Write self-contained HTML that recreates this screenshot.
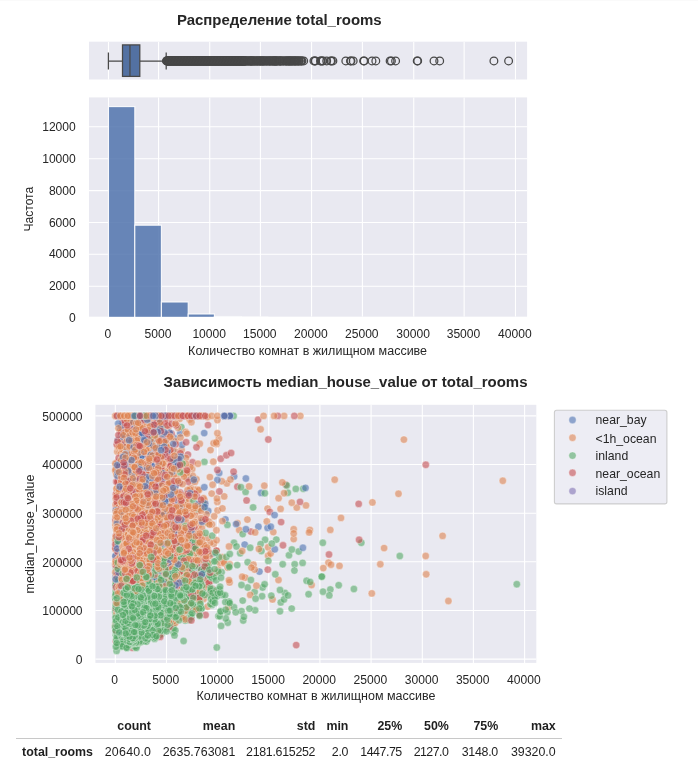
<!DOCTYPE html>
<html lang="ru">
<head>
<meta charset="utf-8">
<title>total_rooms</title>
<style>
html,body{margin:0;padding:0;background:#fff;}
body{width:698px;height:783px;position:relative;overflow:hidden;font-family:"Liberation Sans", sans-serif;color:#1f1f1f;}
svg{position:absolute;left:0;top:0;display:block;}
svg text{font-family:"Liberation Sans", sans-serif;fill:#262626;}
.ttl{font-size:14.98px;font-weight:bold;}
.tk{font-size:12.1px;}
.lb{font-size:12.5px;}
.sc circle{fill-opacity:.6;stroke:#fff;stroke-width:.5px;stroke-opacity:.7;}
.b{fill:#4c72b0}.o{fill:#dd8452}.g{fill:#55a868}.r{fill:#c44e52}.p{fill:#8172b3}
table.df{position:absolute;left:16px;top:714px;border-collapse:collapse;font-size:12.4px;font-family:"Liberation Sans", sans-serif;color:#1f1f1f;}
table.df th,table.df td{padding:0;text-align:right;white-space:nowrap;height:24px;}
table.df thead th{border-bottom:1px solid #c8c8c8;font-weight:bold;}
table.df tbody th{font-weight:bold;}
table.df span{position:relative;display:inline-block;}
table.df tbody span{top:.5px;}
table.df thead span{top:.3px;}
</style>
</head>
<body>
<svg width="698" height="783" viewBox="0 0 698 783">
<rect x="0" y="0" width="698" height="1" fill="#fafafa"/>
<text class="ttl" x="279.3" y="25.1" text-anchor="middle">Распределение total_rooms</text>
<rect x="89.0" y="41.7" width="438.1" height="37.8" fill="#E9E9F1"/>
<rect x="89.0" y="97.4" width="438.1" height="219.4" fill="#E9E9F1"/>
<clipPath id="c1"><rect x="89.0" y="41.7" width="438.1" height="275.1"/></clipPath>
<path d="M108.5 41.7V79.5M108.5 97.4V316.8M158.55 41.7V79.5M158.55 97.4V316.8M209.75 41.7V79.5M209.75 97.4V316.8M260.4 41.7V79.5M260.4 97.4V316.8M311.55 41.7V79.5M311.55 97.4V316.8M362.4 41.7V79.5M362.4 97.4V316.8M413.75 41.7V79.5M413.75 97.4V316.8M464.15 41.7V79.5M464.15 97.4V316.8M515.5 41.7V79.5M515.5 97.4V316.8M89.0 286.2H527.1M89.0 254.3H527.1M89.0 222.5H527.1M89.0 190.6H527.1M89.0 158.7H527.1M89.0 126.8H527.1" stroke="#fff" stroke-width="1.1" fill="none" clip-path="url(#c1)"/>
<rect x="108.5" y="106.6" width="26.3" height="211.5" fill="#4e71ac" fill-opacity="0.84" stroke="#fff" stroke-width="1.1" stroke-opacity="0.9"/>
<rect x="134.8" y="225.2" width="26.6" height="92.9" fill="#4e71ac" fill-opacity="0.84" stroke="#fff" stroke-width="1.1" stroke-opacity="0.9"/>
<rect x="161.4" y="302" width="26.8" height="16.1" fill="#4e71ac" fill-opacity="0.84" stroke="#fff" stroke-width="1.1" stroke-opacity="0.9"/>
<rect x="188.2" y="314" width="26.2" height="4.1" fill="#4e71ac" fill-opacity="0.84" stroke="#fff" stroke-width="1.1" stroke-opacity="0.9"/>
<rect x="214.4" y="316.5" width="26.9" height="1.6" fill="#4e71ac" fill-opacity="0.84" stroke="#fff" stroke-width="1.1" stroke-opacity="0.9"/>
<rect x="241.3" y="317.2" width="26.6" height="0.9" fill="#4e71ac" fill-opacity="0.84" stroke="#fff" stroke-width="1.1" stroke-opacity="0.9"/>
<rect x="268.6" y="317.5" width="26.7" height="0.6" fill="#4e71ac" fill-opacity="0.84" stroke="#fff" stroke-width="1.1" stroke-opacity="0.9"/>
<rect x="295.2" y="317.8" width="26.7" height="0.3" fill="#4e71ac" fill-opacity="0.84" stroke="#fff" stroke-width="1.1" stroke-opacity="0.9"/>
<rect x="321.9" y="318" width="26.7" height="0.1" fill="#4e71ac" fill-opacity="0.84" stroke="#fff" stroke-width="1.1" stroke-opacity="0.9"/>
<rect x="348.6" y="318" width="26.7" height="0.1" fill="#4e71ac" fill-opacity="0.84" stroke="#fff" stroke-width="1.1" stroke-opacity="0.9"/>
<rect x="375.3" y="318" width="26.7" height="0.1" fill="#4e71ac" fill-opacity="0.84" stroke="#fff" stroke-width="1.1" stroke-opacity="0.9"/>
<rect x="401.9" y="318.1" width="26.7" height="0" fill="#4e71ac" fill-opacity="0.84" stroke="#fff" stroke-width="1.1" stroke-opacity="0.9"/>
<rect x="428.6" y="318.1" width="26.7" height="0" fill="#4e71ac" fill-opacity="0.84" stroke="#fff" stroke-width="1.1" stroke-opacity="0.9"/>
<rect x="481.9" y="318.1" width="26.7" height="0" fill="#4e71ac" fill-opacity="0.84" stroke="#fff" stroke-width="1.1" stroke-opacity="0.9"/>
<rect x="87.0" y="316.8" width="442.1" height="3" fill="#fff"/>
<g stroke="#484848" stroke-width="1.25" fill="none">
<path d="M108.4 61H122.5M139.8 61H166.2M108.4 52.4V69.4M166.2 52.4V69.4"/>
<rect x="122.5" y="44.9" width="17.3" height="31.5" fill="#5371a2"/>
<path d="M129.95 44.9V76.4"/>
</g>
<g stroke="#484848" stroke-width="1.25" fill="none">
<circle cx="166.5" cy="60.9" r="3.85"/>
<circle cx="166.8" cy="60.9" r="3.85"/>
<circle cx="167.1" cy="60.9" r="3.85"/>
<circle cx="167.4" cy="60.9" r="3.85"/>
<circle cx="167.7" cy="60.9" r="3.85"/>
<circle cx="168" cy="60.9" r="3.85"/>
<circle cx="168.3" cy="60.9" r="3.85"/>
<circle cx="168.6" cy="60.9" r="3.85"/>
<circle cx="168.9" cy="60.9" r="3.85"/>
<circle cx="169.2" cy="60.9" r="3.85"/>
<circle cx="169.5" cy="60.9" r="3.85"/>
<circle cx="169.8" cy="60.9" r="3.85"/>
<circle cx="170.1" cy="60.9" r="3.85"/>
<circle cx="170.4" cy="60.9" r="3.85"/>
<circle cx="170.7" cy="60.9" r="3.85"/>
<circle cx="171" cy="60.9" r="3.85"/>
<circle cx="171.3" cy="60.9" r="3.85"/>
<circle cx="171.6" cy="60.9" r="3.85"/>
<circle cx="171.9" cy="60.9" r="3.85"/>
<circle cx="172.2" cy="60.9" r="3.85"/>
<circle cx="172.5" cy="60.9" r="3.85"/>
<circle cx="172.8" cy="60.9" r="3.85"/>
<circle cx="173.1" cy="60.9" r="3.85"/>
<circle cx="173.4" cy="60.9" r="3.85"/>
<circle cx="173.7" cy="60.9" r="3.85"/>
<circle cx="174" cy="60.9" r="3.85"/>
<circle cx="174.3" cy="60.9" r="3.85"/>
<circle cx="174.6" cy="60.9" r="3.85"/>
<circle cx="174.9" cy="60.9" r="3.85"/>
<circle cx="175.2" cy="60.9" r="3.85"/>
<circle cx="175.5" cy="60.9" r="3.85"/>
<circle cx="175.8" cy="60.9" r="3.85"/>
<circle cx="176.1" cy="60.9" r="3.85"/>
<circle cx="176.4" cy="60.9" r="3.85"/>
<circle cx="176.7" cy="60.9" r="3.85"/>
<circle cx="177" cy="60.9" r="3.85"/>
<circle cx="177.3" cy="60.9" r="3.85"/>
<circle cx="177.6" cy="60.9" r="3.85"/>
<circle cx="177.9" cy="60.9" r="3.85"/>
<circle cx="178.2" cy="60.9" r="3.85"/>
<circle cx="178.5" cy="60.9" r="3.85"/>
<circle cx="178.8" cy="60.9" r="3.85"/>
<circle cx="179.1" cy="60.9" r="3.85"/>
<circle cx="179.4" cy="60.9" r="3.85"/>
<circle cx="179.7" cy="60.9" r="3.85"/>
<circle cx="180" cy="60.9" r="3.85"/>
<circle cx="180.3" cy="60.9" r="3.85"/>
<circle cx="180.6" cy="60.9" r="3.85"/>
<circle cx="180.9" cy="60.9" r="3.85"/>
<circle cx="181.2" cy="60.9" r="3.85"/>
<circle cx="181.5" cy="60.9" r="3.85"/>
<circle cx="181.8" cy="60.9" r="3.85"/>
<circle cx="182.1" cy="60.9" r="3.85"/>
<circle cx="182.4" cy="60.9" r="3.85"/>
<circle cx="182.7" cy="60.9" r="3.85"/>
<circle cx="183" cy="60.9" r="3.85"/>
<circle cx="183.3" cy="60.9" r="3.85"/>
<circle cx="183.6" cy="60.9" r="3.85"/>
<circle cx="183.9" cy="60.9" r="3.85"/>
<circle cx="184.2" cy="60.9" r="3.85"/>
<circle cx="184.5" cy="60.9" r="3.85"/>
<circle cx="184.8" cy="60.9" r="3.85"/>
<circle cx="185.1" cy="60.9" r="3.85"/>
<circle cx="185.4" cy="60.9" r="3.85"/>
<circle cx="185.7" cy="60.9" r="3.85"/>
<circle cx="186" cy="60.9" r="3.85"/>
<circle cx="186.3" cy="60.9" r="3.85"/>
<circle cx="186.6" cy="60.9" r="3.85"/>
<circle cx="186.9" cy="60.9" r="3.85"/>
<circle cx="187.2" cy="60.9" r="3.85"/>
<circle cx="187.5" cy="60.9" r="3.85"/>
<circle cx="187.8" cy="60.9" r="3.85"/>
<circle cx="188.1" cy="60.9" r="3.85"/>
<circle cx="188.4" cy="60.9" r="3.85"/>
<circle cx="188.7" cy="60.9" r="3.85"/>
<circle cx="189" cy="60.9" r="3.85"/>
<circle cx="189.3" cy="60.9" r="3.85"/>
<circle cx="189.6" cy="60.9" r="3.85"/>
<circle cx="189.9" cy="60.9" r="3.85"/>
<circle cx="190.2" cy="60.9" r="3.85"/>
<circle cx="190.5" cy="60.9" r="3.85"/>
<circle cx="190.8" cy="60.9" r="3.85"/>
<circle cx="191.1" cy="60.9" r="3.85"/>
<circle cx="191.4" cy="60.9" r="3.85"/>
<circle cx="191.7" cy="60.9" r="3.85"/>
<circle cx="192" cy="60.9" r="3.85"/>
<circle cx="192.3" cy="60.9" r="3.85"/>
<circle cx="192.6" cy="60.9" r="3.85"/>
<circle cx="192.9" cy="60.9" r="3.85"/>
<circle cx="193.2" cy="60.9" r="3.85"/>
<circle cx="193.5" cy="60.9" r="3.85"/>
<circle cx="193.8" cy="60.9" r="3.85"/>
<circle cx="194.1" cy="60.9" r="3.85"/>
<circle cx="194.4" cy="60.9" r="3.85"/>
<circle cx="194.7" cy="60.9" r="3.85"/>
<circle cx="195" cy="60.9" r="3.85"/>
<circle cx="195.3" cy="60.9" r="3.85"/>
<circle cx="195.6" cy="60.9" r="3.85"/>
<circle cx="195.9" cy="60.9" r="3.85"/>
<circle cx="196.2" cy="60.9" r="3.85"/>
<circle cx="196.5" cy="60.9" r="3.85"/>
<circle cx="196.8" cy="60.9" r="3.85"/>
<circle cx="197.1" cy="60.9" r="3.85"/>
<circle cx="197.4" cy="60.9" r="3.85"/>
<circle cx="197.7" cy="60.9" r="3.85"/>
<circle cx="198" cy="60.9" r="3.85"/>
<circle cx="198.3" cy="60.9" r="3.85"/>
<circle cx="198.6" cy="60.9" r="3.85"/>
<circle cx="198.9" cy="60.9" r="3.85"/>
<circle cx="199.2" cy="60.9" r="3.85"/>
<circle cx="199.5" cy="60.9" r="3.85"/>
<circle cx="199.8" cy="60.9" r="3.85"/>
<circle cx="200.1" cy="60.9" r="3.85"/>
<circle cx="200.4" cy="60.9" r="3.85"/>
<circle cx="200.7" cy="60.9" r="3.85"/>
<circle cx="201" cy="60.9" r="3.85"/>
<circle cx="201.3" cy="60.9" r="3.85"/>
<circle cx="201.6" cy="60.9" r="3.85"/>
<circle cx="201.9" cy="60.9" r="3.85"/>
<circle cx="202.2" cy="60.9" r="3.85"/>
<circle cx="202.5" cy="60.9" r="3.85"/>
<circle cx="202.8" cy="60.9" r="3.85"/>
<circle cx="203.1" cy="60.9" r="3.85"/>
<circle cx="203.4" cy="60.9" r="3.85"/>
<circle cx="203.7" cy="60.9" r="3.85"/>
<circle cx="204" cy="60.9" r="3.85"/>
<circle cx="204.3" cy="60.9" r="3.85"/>
<circle cx="204.6" cy="60.9" r="3.85"/>
<circle cx="204.9" cy="60.9" r="3.85"/>
<circle cx="205.2" cy="60.9" r="3.85"/>
<circle cx="205.5" cy="60.9" r="3.85"/>
<circle cx="205.8" cy="60.9" r="3.85"/>
<circle cx="206.1" cy="60.9" r="3.85"/>
<circle cx="206.4" cy="60.9" r="3.85"/>
<circle cx="206.7" cy="60.9" r="3.85"/>
<circle cx="207" cy="60.9" r="3.85"/>
<circle cx="207.3" cy="60.9" r="3.85"/>
<circle cx="207.6" cy="60.9" r="3.85"/>
<circle cx="207.9" cy="60.9" r="3.85"/>
<circle cx="208.2" cy="60.9" r="3.85"/>
<circle cx="208.5" cy="60.9" r="3.85"/>
<circle cx="208.8" cy="60.9" r="3.85"/>
<circle cx="209.1" cy="60.9" r="3.85"/>
<circle cx="209.4" cy="60.9" r="3.85"/>
<circle cx="209.7" cy="60.9" r="3.85"/>
<circle cx="210" cy="60.9" r="3.85"/>
<circle cx="210.3" cy="60.9" r="3.85"/>
<circle cx="210.6" cy="60.9" r="3.85"/>
<circle cx="210.9" cy="60.9" r="3.85"/>
<circle cx="211.2" cy="60.9" r="3.85"/>
<circle cx="211.5" cy="60.9" r="3.85"/>
<circle cx="211.8" cy="60.9" r="3.85"/>
<circle cx="212.1" cy="60.9" r="3.85"/>
<circle cx="212.4" cy="60.9" r="3.85"/>
<circle cx="212.7" cy="60.9" r="3.85"/>
<circle cx="213" cy="60.9" r="3.85"/>
<circle cx="213.3" cy="60.9" r="3.85"/>
<circle cx="213.6" cy="60.9" r="3.85"/>
<circle cx="213.9" cy="60.9" r="3.85"/>
<circle cx="214.2" cy="60.9" r="3.85"/>
<circle cx="214.5" cy="60.9" r="3.85"/>
<circle cx="214.8" cy="60.9" r="3.85"/>
<circle cx="215.1" cy="60.9" r="3.85"/>
<circle cx="215.4" cy="60.9" r="3.85"/>
<circle cx="215.7" cy="60.9" r="3.85"/>
<circle cx="216" cy="60.9" r="3.85"/>
<circle cx="216.3" cy="60.9" r="3.85"/>
<circle cx="216.6" cy="60.9" r="3.85"/>
<circle cx="216.9" cy="60.9" r="3.85"/>
<circle cx="217.2" cy="60.9" r="3.85"/>
<circle cx="217.5" cy="60.9" r="3.85"/>
<circle cx="217.8" cy="60.9" r="3.85"/>
<circle cx="218.1" cy="60.9" r="3.85"/>
<circle cx="218.4" cy="60.9" r="3.85"/>
<circle cx="218.7" cy="60.9" r="3.85"/>
<circle cx="219" cy="60.9" r="3.85"/>
<circle cx="219.3" cy="60.9" r="3.85"/>
<circle cx="219.6" cy="60.9" r="3.85"/>
<circle cx="219.9" cy="60.9" r="3.85"/>
<circle cx="220.2" cy="60.9" r="3.85"/>
<circle cx="220.5" cy="60.9" r="3.85"/>
<circle cx="220.8" cy="60.9" r="3.85"/>
<circle cx="221.1" cy="60.9" r="3.85"/>
<circle cx="221.4" cy="60.9" r="3.85"/>
<circle cx="221.7" cy="60.9" r="3.85"/>
<circle cx="222" cy="60.9" r="3.85"/>
<circle cx="222.3" cy="60.9" r="3.85"/>
<circle cx="222.6" cy="60.9" r="3.85"/>
<circle cx="222.9" cy="60.9" r="3.85"/>
<circle cx="223.2" cy="60.9" r="3.85"/>
<circle cx="223.5" cy="60.9" r="3.85"/>
<circle cx="223.8" cy="60.9" r="3.85"/>
<circle cx="224.1" cy="60.9" r="3.85"/>
<circle cx="224.4" cy="60.9" r="3.85"/>
<circle cx="224.7" cy="60.9" r="3.85"/>
<circle cx="225" cy="60.9" r="3.85"/>
<circle cx="225.3" cy="60.9" r="3.85"/>
<circle cx="225.6" cy="60.9" r="3.85"/>
<circle cx="225.9" cy="60.9" r="3.85"/>
<circle cx="226.2" cy="60.9" r="3.85"/>
<circle cx="226.5" cy="60.9" r="3.85"/>
<circle cx="226.8" cy="60.9" r="3.85"/>
<circle cx="227.1" cy="60.9" r="3.85"/>
<circle cx="227.4" cy="60.9" r="3.85"/>
<circle cx="227.7" cy="60.9" r="3.85"/>
<circle cx="228" cy="60.9" r="3.85"/>
<circle cx="228.3" cy="60.9" r="3.85"/>
<circle cx="228.6" cy="60.9" r="3.85"/>
<circle cx="228.9" cy="60.9" r="3.85"/>
<circle cx="229.2" cy="60.9" r="3.85"/>
<circle cx="229.5" cy="60.9" r="3.85"/>
<circle cx="229.8" cy="60.9" r="3.85"/>
<circle cx="230.1" cy="60.9" r="3.85"/>
<circle cx="230.4" cy="60.9" r="3.85"/>
<circle cx="230.7" cy="60.9" r="3.85"/>
<circle cx="231" cy="60.9" r="3.85"/>
<circle cx="231.3" cy="60.9" r="3.85"/>
<circle cx="231.6" cy="60.9" r="3.85"/>
<circle cx="231.9" cy="60.9" r="3.85"/>
<circle cx="232.2" cy="60.9" r="3.85"/>
<circle cx="232.5" cy="60.9" r="3.85"/>
<circle cx="232.8" cy="60.9" r="3.85"/>
<circle cx="233.1" cy="60.9" r="3.85"/>
<circle cx="233.4" cy="60.9" r="3.85"/>
<circle cx="233.7" cy="60.9" r="3.85"/>
<circle cx="234" cy="60.9" r="3.85"/>
<circle cx="234.3" cy="60.9" r="3.85"/>
<circle cx="234.6" cy="60.9" r="3.85"/>
<circle cx="234.9" cy="60.9" r="3.85"/>
<circle cx="235.2" cy="60.9" r="3.85"/>
<circle cx="235.5" cy="60.9" r="3.85"/>
<circle cx="235.8" cy="60.9" r="3.85"/>
<circle cx="236.1" cy="60.9" r="3.85"/>
<circle cx="236.4" cy="60.9" r="3.85"/>
<circle cx="236.7" cy="60.9" r="3.85"/>
<circle cx="237" cy="60.9" r="3.85"/>
<circle cx="237.3" cy="60.9" r="3.85"/>
<circle cx="237.6" cy="60.9" r="3.85"/>
<circle cx="237.9" cy="60.9" r="3.85"/>
<circle cx="238.2" cy="60.9" r="3.85"/>
<circle cx="238.5" cy="60.9" r="3.85"/>
<circle cx="238.8" cy="60.9" r="3.85"/>
<circle cx="239.1" cy="60.9" r="3.85"/>
<circle cx="239.4" cy="60.9" r="3.85"/>
<circle cx="239.7" cy="60.9" r="3.85"/>
<circle cx="240" cy="60.9" r="3.85"/>
<circle cx="240.3" cy="60.9" r="3.85"/>
<circle cx="240.6" cy="60.9" r="3.85"/>
<circle cx="240.9" cy="60.9" r="3.85"/>
<circle cx="241.2" cy="60.9" r="3.85"/>
<circle cx="241.5" cy="60.9" r="3.85"/>
<circle cx="241.8" cy="60.9" r="3.85"/>
<circle cx="242.1" cy="60.9" r="3.85"/>
<circle cx="242.4" cy="60.9" r="3.85"/>
<circle cx="242.7" cy="60.9" r="3.85"/>
<circle cx="243" cy="60.9" r="3.85"/>
<circle cx="243.3" cy="60.9" r="3.85"/>
<circle cx="243.6" cy="60.9" r="3.85"/>
<circle cx="243.9" cy="60.9" r="3.85"/>
<circle cx="244.2" cy="60.9" r="3.85"/>
<circle cx="244.5" cy="60.9" r="3.85"/>
<circle cx="244.8" cy="60.9" r="3.85"/>
<circle cx="245.1" cy="60.9" r="3.85"/>
<circle cx="245.4" cy="60.9" r="3.85"/>
<circle cx="245.7" cy="60.9" r="3.85"/>
<circle cx="246" cy="60.9" r="3.85"/>
<circle cx="247" cy="60.9" r="3.85"/>
<circle cx="247.6" cy="60.9" r="3.85"/>
<circle cx="248.1" cy="60.9" r="3.85"/>
<circle cx="248.8" cy="60.9" r="3.85"/>
<circle cx="249.4" cy="60.9" r="3.85"/>
<circle cx="250.2" cy="60.9" r="3.85"/>
<circle cx="250.5" cy="60.9" r="3.85"/>
<circle cx="251" cy="60.9" r="3.85"/>
<circle cx="251.3" cy="60.9" r="3.85"/>
<circle cx="251.8" cy="60.9" r="3.85"/>
<circle cx="252.2" cy="60.9" r="3.85"/>
<circle cx="252.8" cy="60.9" r="3.85"/>
<circle cx="253.5" cy="60.9" r="3.85"/>
<circle cx="254" cy="60.9" r="3.85"/>
<circle cx="254.5" cy="60.9" r="3.85"/>
<circle cx="255" cy="60.9" r="3.85"/>
<circle cx="256" cy="60.9" r="3.85"/>
<circle cx="256.7" cy="60.9" r="3.85"/>
<circle cx="257.2" cy="60.9" r="3.85"/>
<circle cx="257.7" cy="60.9" r="3.85"/>
<circle cx="258.4" cy="60.9" r="3.85"/>
<circle cx="259.2" cy="60.9" r="3.85"/>
<circle cx="259.9" cy="60.9" r="3.85"/>
<circle cx="260.3" cy="60.9" r="3.85"/>
<circle cx="260.7" cy="60.9" r="3.85"/>
<circle cx="261.3" cy="60.9" r="3.85"/>
<circle cx="262.2" cy="60.9" r="3.85"/>
<circle cx="262.6" cy="60.9" r="3.85"/>
<circle cx="262.9" cy="60.9" r="3.85"/>
<circle cx="263.6" cy="60.9" r="3.85"/>
<circle cx="264.1" cy="60.9" r="3.85"/>
<circle cx="264.8" cy="60.9" r="3.85"/>
<circle cx="265.6" cy="60.9" r="3.85"/>
<circle cx="266.4" cy="60.9" r="3.85"/>
<circle cx="266.9" cy="60.9" r="3.85"/>
<circle cx="267.5" cy="60.9" r="3.85"/>
<circle cx="268.6" cy="60.9" r="3.85"/>
<circle cx="269.2" cy="60.9" r="3.85"/>
<circle cx="269.8" cy="60.9" r="3.85"/>
<circle cx="270.1" cy="60.9" r="3.85"/>
<circle cx="270.8" cy="60.9" r="3.85"/>
<circle cx="271.7" cy="60.9" r="3.85"/>
<circle cx="272.3" cy="60.9" r="3.85"/>
<circle cx="272.9" cy="60.9" r="3.85"/>
<circle cx="273.4" cy="60.9" r="3.85"/>
<circle cx="274" cy="60.9" r="3.85"/>
<circle cx="274.6" cy="60.9" r="3.85"/>
<circle cx="274.9" cy="60.9" r="3.85"/>
<circle cx="275.3" cy="60.9" r="3.85"/>
<circle cx="275.9" cy="60.9" r="3.85"/>
<circle cx="276.3" cy="60.9" r="3.85"/>
<circle cx="276.7" cy="60.9" r="3.85"/>
<circle cx="277.3" cy="60.9" r="3.85"/>
<circle cx="278" cy="60.9" r="3.85"/>
<circle cx="279.1" cy="60.9" r="3.85"/>
<circle cx="279.8" cy="60.9" r="3.85"/>
<circle cx="280.2" cy="60.9" r="3.85"/>
<circle cx="280.7" cy="60.9" r="3.85"/>
<circle cx="281.2" cy="60.9" r="3.85"/>
<circle cx="282.5" cy="60.9" r="3.85"/>
<circle cx="283.2" cy="60.9" r="3.85"/>
<circle cx="283.9" cy="60.9" r="3.85"/>
<circle cx="285.2" cy="60.9" r="3.85"/>
<circle cx="285.9" cy="60.9" r="3.85"/>
<circle cx="286.5" cy="60.9" r="3.85"/>
<circle cx="286.9" cy="60.9" r="3.85"/>
<circle cx="288" cy="60.9" r="3.85"/>
<circle cx="288.4" cy="60.9" r="3.85"/>
<circle cx="289" cy="60.9" r="3.85"/>
<circle cx="289.5" cy="60.9" r="3.85"/>
<circle cx="290.2" cy="60.9" r="3.85"/>
<circle cx="290.9" cy="60.9" r="3.85"/>
<circle cx="291.2" cy="60.9" r="3.85"/>
<circle cx="292.1" cy="60.9" r="3.85"/>
<circle cx="292.5" cy="60.9" r="3.85"/>
<circle cx="293.3" cy="60.9" r="3.85"/>
<circle cx="294.2" cy="60.9" r="3.85"/>
<circle cx="294.8" cy="60.9" r="3.85"/>
<circle cx="295.2" cy="60.9" r="3.85"/>
<circle cx="295.8" cy="60.9" r="3.85"/>
<circle cx="296.7" cy="60.9" r="3.85"/>
<circle cx="297.5" cy="60.9" r="3.85"/>
<circle cx="298.2" cy="60.9" r="3.85"/>
<circle cx="298.8" cy="60.9" r="3.85"/>
<circle cx="299.4" cy="60.9" r="3.85"/>
<circle cx="300.8" cy="60.9" r="3.85"/>
<circle cx="301.3" cy="60.9" r="3.85"/>
<circle cx="302" cy="60.9" r="3.85"/>
<circle cx="303.7" cy="60.9" r="3.85"/>
<circle cx="313.9" cy="60.9" r="3.85"/>
<circle cx="314.9" cy="60.9" r="3.85"/>
<circle cx="315.4" cy="60.9" r="3.85"/>
<circle cx="320.5" cy="60.9" r="3.85"/>
<circle cx="321" cy="60.9" r="3.85"/>
<circle cx="322.3" cy="60.9" r="3.85"/>
<circle cx="323" cy="60.9" r="3.85"/>
<circle cx="326.7" cy="60.9" r="3.85"/>
<circle cx="330.7" cy="60.9" r="3.85"/>
<circle cx="331.4" cy="60.9" r="3.85"/>
<circle cx="332.9" cy="60.9" r="3.85"/>
<circle cx="345.8" cy="60.9" r="3.85"/>
<circle cx="350.5" cy="60.9" r="3.85"/>
<circle cx="351" cy="60.9" r="3.85"/>
<circle cx="353.2" cy="60.9" r="3.85"/>
<circle cx="363.6" cy="60.9" r="3.85"/>
<circle cx="364.2" cy="60.9" r="3.85"/>
<circle cx="372" cy="60.9" r="3.85"/>
<circle cx="375.8" cy="60.9" r="3.85"/>
<circle cx="390.1" cy="60.9" r="3.85"/>
<circle cx="391.4" cy="60.9" r="3.85"/>
<circle cx="395.6" cy="60.9" r="3.85"/>
<circle cx="417.2" cy="60.9" r="3.85"/>
<circle cx="417.7" cy="60.9" r="3.85"/>
<circle cx="434" cy="60.9" r="3.85"/>
<circle cx="439.7" cy="60.9" r="3.85"/>
<circle cx="493.9" cy="60.9" r="3.85"/>
<circle cx="508.6" cy="60.9" r="3.85"/>
</g>
<g class="tk" text-anchor="middle">
<text x="107.9" y="337.7">0</text>
<text x="158" y="337.7">5000</text>
<text x="209.2" y="337.7">10000</text>
<text x="259.8" y="337.7">15000</text>
<text x="310.9" y="337.7">20000</text>
<text x="361.8" y="337.7">25000</text>
<text x="413.1" y="337.7">30000</text>
<text x="463.5" y="337.7">35000</text>
<text x="514.9" y="337.7">40000</text>
</g>
<g class="tk" text-anchor="end">
<text x="75.8" y="322.1">0</text>
<text x="75.8" y="290.2">2000</text>
<text x="75.8" y="258.3">4000</text>
<text x="75.8" y="226.5">6000</text>
<text x="75.8" y="194.6">8000</text>
<text x="75.8" y="162.7">10000</text>
<text x="75.8" y="130.8">12000</text>
</g>
<text class="lb" x="307.6" y="354.6" text-anchor="middle">Количество комнат в жилищном массиве</text>
<text class="lb" style="font-size:12.1px" transform="translate(33.4 209.2) rotate(-90)" text-anchor="middle">Частота</text>
<text class="ttl" x="345.5" y="387.2" text-anchor="middle">Зависимость median_house_value от total_rooms</text>
<rect x="95.4" y="404.8" width="440.9" height="258.1" fill="#E9E9F1"/>
<path d="M115.3 404.8V662.9M166.5 404.8V662.9M217.6 404.8V662.9M268.8 404.8V662.9M319.9 404.8V662.9M371.1 404.8V662.9M422.3 404.8V662.9M473.4 404.8V662.9M524.6 404.8V662.9M95.4 659.1H536.3M95.4 610.5H536.3M95.4 561.8H536.3M95.4 513.2H536.3M95.4 464.5H536.3M95.4 415.9H536.3" stroke="#fff" stroke-width="1.1" fill="none"/>
<g class="sc">
<circle class="b" cx="186.9" cy="571.5" r="3.7"/>
<circle class="b" cx="208.2" cy="510.9" r="3.7"/>
<circle class="b" cx="155.7" cy="416.8" r="3.7"/>
<circle class="b" cx="183.1" cy="528.6" r="3.7"/>
<circle class="b" cx="187.8" cy="536.8" r="3.7"/>
<circle class="b" cx="115.8" cy="603.6" r="3.7"/>
<circle class="b" cx="121.2" cy="435.7" r="3.7"/>
<circle class="b" cx="183.6" cy="542.5" r="3.7"/>
<circle class="b" cx="115.7" cy="577.6" r="3.7"/>
<circle class="b" cx="124.2" cy="440.8" r="3.7"/>
<circle class="b" cx="211.9" cy="553.8" r="3.7"/>
<circle class="b" cx="115.9" cy="612.6" r="3.7"/>
<circle class="b" cx="199.3" cy="575.1" r="3.7"/>
<circle class="b" cx="120.6" cy="429.6" r="3.7"/>
<circle class="b" cx="169.9" cy="475.3" r="3.7"/>
<circle class="b" cx="116.7" cy="593" r="3.7"/>
<circle class="b" cx="127.6" cy="422.9" r="3.7"/>
<circle class="b" cx="259.4" cy="571.6" r="3.7"/>
<circle class="b" cx="180.5" cy="539.9" r="3.7"/>
<circle class="b" cx="117.9" cy="415.9" r="3.7"/>
<circle class="b" cx="267.6" cy="527.9" r="3.7"/>
<circle class="b" cx="194.6" cy="522.9" r="3.7"/>
<circle class="b" cx="115.9" cy="605.2" r="3.7"/>
<circle class="b" cx="173.4" cy="469.2" r="3.7"/>
<circle class="b" cx="160.4" cy="432.4" r="3.7"/>
<circle class="b" cx="170" cy="433.9" r="3.7"/>
<circle class="b" cx="193.6" cy="593.8" r="3.7"/>
<circle class="b" cx="201.7" cy="563" r="3.7"/>
<circle class="b" cx="115.6" cy="556.6" r="3.7"/>
<circle class="b" cx="172.6" cy="450.6" r="3.7"/>
<circle class="g" cx="200.4" cy="595.4" r="3.7"/>
<circle class="g" cx="157.4" cy="467.5" r="3.7"/>
<circle class="g" cx="184.1" cy="500.7" r="3.7"/>
<circle class="b" cx="178.2" cy="483.4" r="3.7"/>
<circle class="b" cx="116.4" cy="529.6" r="3.7"/>
<circle class="b" cx="203.8" cy="415.9" r="3.7"/>
<circle class="b" cx="189.6" cy="477.9" r="3.7"/>
<circle class="b" cx="188.7" cy="539.7" r="3.7"/>
<circle class="b" cx="234.1" cy="476.5" r="3.7"/>
<circle class="b" cx="209" cy="569.9" r="3.7"/>
<circle class="b" cx="117.6" cy="472.7" r="3.7"/>
<circle class="b" cx="261.1" cy="492.9" r="3.7"/>
<circle class="b" cx="188.4" cy="573.9" r="3.7"/>
<circle class="b" cx="163.5" cy="469.9" r="3.7"/>
<circle class="b" cx="188.7" cy="569.4" r="3.7"/>
<circle class="b" cx="204.2" cy="433.1" r="3.7"/>
<circle class="b" cx="168.4" cy="448.4" r="3.7"/>
<circle class="b" cx="201.7" cy="569.4" r="3.7"/>
<circle class="b" cx="161.4" cy="451" r="3.7"/>
<circle class="b" cx="180.3" cy="433.2" r="3.7"/>
<circle class="b" cx="225.4" cy="519.4" r="3.7"/>
<circle class="b" cx="188.8" cy="575.9" r="3.7"/>
<circle class="b" cx="117.3" cy="617.1" r="3.7"/>
<circle class="b" cx="199.4" cy="569.8" r="3.7"/>
<circle class="g" cx="187.7" cy="599.3" r="3.7"/>
<circle class="g" cx="198.3" cy="555.4" r="3.7"/>
<circle class="g" cx="285" cy="592.9" r="3.7"/>
<circle class="g" cx="227.3" cy="612.3" r="3.7"/>
<circle class="g" cx="116.1" cy="628.8" r="3.7"/>
<circle class="g" cx="116.9" cy="645.4" r="3.7"/>
<circle class="g" cx="115.6" cy="598.2" r="3.7"/>
<circle class="g" cx="170.5" cy="623" r="3.7"/>
<circle class="g" cx="187.5" cy="600.6" r="3.7"/>
<circle class="g" cx="197.3" cy="591.1" r="3.7"/>
<circle class="b" cx="219.2" cy="473" r="3.7"/>
<circle class="b" cx="181" cy="533.3" r="3.7"/>
<circle class="b" cx="174.5" cy="497.3" r="3.7"/>
<circle class="g" cx="181.3" cy="427.1" r="3.7"/>
<circle class="o" cx="118.2" cy="484.8" r="3.7"/>
<circle class="o" cx="145.5" cy="426.3" r="3.7"/>
<circle class="o" cx="118.2" cy="478.9" r="3.7"/>
<circle class="o" cx="284.1" cy="415.9" r="3.7"/>
<circle class="o" cx="126.6" cy="429" r="3.7"/>
<circle class="b" cx="206.1" cy="580" r="3.7"/>
<circle class="g" cx="175.1" cy="526.8" r="3.7"/>
<circle class="b" cx="124.3" cy="436.8" r="3.7"/>
<circle class="b" cx="118.9" cy="488.6" r="3.7"/>
<circle class="b" cx="167.7" cy="415.9" r="3.7"/>
<circle class="b" cx="169.9" cy="486.5" r="3.7"/>
<circle class="b" cx="161.7" cy="466.9" r="3.7"/>
<circle class="b" cx="162.8" cy="456" r="3.7"/>
<circle class="b" cx="216.3" cy="552.5" r="3.7"/>
<circle class="o" cx="191.4" cy="523.4" r="3.7"/>
<circle class="o" cx="117.7" cy="572.7" r="3.7"/>
<circle class="g" cx="234" cy="542.8" r="3.7"/>
<circle class="b" cx="123.8" cy="444.8" r="3.7"/>
<circle class="b" cx="174.2" cy="438" r="3.7"/>
<circle class="b" cx="117.6" cy="515.1" r="3.7"/>
<circle class="b" cx="193.8" cy="415.9" r="3.7"/>
<circle class="b" cx="187.4" cy="598.8" r="3.7"/>
<circle class="b" cx="202.9" cy="577.1" r="3.7"/>
<circle class="b" cx="185.5" cy="494" r="3.7"/>
<circle class="g" cx="162.5" cy="469.4" r="3.7"/>
<circle class="b" cx="153.9" cy="436.5" r="3.7"/>
<circle class="b" cx="161.3" cy="458.3" r="3.7"/>
<circle class="g" cx="118.6" cy="484.1" r="3.7"/>
<circle class="g" cx="399.8" cy="556" r="3.7"/>
<circle class="g" cx="188.4" cy="528.5" r="3.7"/>
<circle class="g" cx="245.6" cy="491.9" r="3.7"/>
<circle class="g" cx="207.7" cy="523.3" r="3.7"/>
<circle class="g" cx="191.8" cy="543.6" r="3.7"/>
<circle class="r" cx="210.4" cy="581.2" r="3.7"/>
<circle class="r" cx="196.9" cy="565.5" r="3.7"/>
<circle class="g" cx="215.6" cy="560.9" r="3.7"/>
<circle class="g" cx="204.4" cy="461.9" r="3.7"/>
<circle class="g" cx="189.2" cy="582.1" r="3.7"/>
<circle class="g" cx="115.8" cy="635.2" r="3.7"/>
<circle class="g" cx="151.1" cy="635.3" r="3.7"/>
<circle class="g" cx="116.8" cy="614.6" r="3.7"/>
<circle class="g" cx="209.1" cy="563.6" r="3.7"/>
<circle class="g" cx="303.3" cy="488.7" r="3.7"/>
<circle class="g" cx="243.2" cy="620.5" r="3.7"/>
<circle class="g" cx="133.8" cy="644.6" r="3.7"/>
<circle class="g" cx="158.4" cy="631.8" r="3.7"/>
<circle class="g" cx="199" cy="610.4" r="3.7"/>
<circle class="g" cx="198.9" cy="603.3" r="3.7"/>
<circle class="g" cx="129.6" cy="644.9" r="3.7"/>
<circle class="g" cx="196.6" cy="597" r="3.7"/>
<circle class="g" cx="185.2" cy="620.6" r="3.7"/>
<circle class="g" cx="516.8" cy="584.2" r="3.7"/>
<circle class="g" cx="361.3" cy="542.8" r="3.7"/>
<circle class="g" cx="137.6" cy="643" r="3.7"/>
<circle class="g" cx="117.3" cy="631.8" r="3.7"/>
<circle class="g" cx="181.8" cy="603.1" r="3.7"/>
<circle class="g" cx="161.4" cy="633.9" r="3.7"/>
<circle class="g" cx="175.1" cy="609.2" r="3.7"/>
<circle class="g" cx="191.6" cy="606.9" r="3.7"/>
<circle class="g" cx="167.8" cy="623.9" r="3.7"/>
<circle class="g" cx="189.6" cy="532.1" r="3.7"/>
<circle class="g" cx="173.5" cy="609.4" r="3.7"/>
<circle class="g" cx="141" cy="641.7" r="3.7"/>
<circle class="g" cx="185.8" cy="607.9" r="3.7"/>
<circle class="g" cx="168.4" cy="623.9" r="3.7"/>
<circle class="g" cx="188" cy="600.3" r="3.7"/>
<circle class="g" cx="184.4" cy="617.3" r="3.7"/>
<circle class="g" cx="189.5" cy="608.1" r="3.7"/>
<circle class="g" cx="125.4" cy="646.4" r="3.7"/>
<circle class="g" cx="124.1" cy="646.3" r="3.7"/>
<circle class="g" cx="190.3" cy="611.2" r="3.7"/>
<circle class="g" cx="170.8" cy="613.9" r="3.7"/>
<circle class="g" cx="201.8" cy="580.4" r="3.7"/>
<circle class="g" cx="121.1" cy="646.8" r="3.7"/>
<circle class="g" cx="142.9" cy="641.6" r="3.7"/>
<circle class="g" cx="117" cy="643.6" r="3.7"/>
<circle class="g" cx="282.7" cy="564.2" r="3.7"/>
<circle class="g" cx="161.7" cy="626.3" r="3.7"/>
<circle class="g" cx="198.1" cy="591.5" r="3.7"/>
<circle class="g" cx="173.2" cy="624.9" r="3.7"/>
<circle class="g" cx="262.6" cy="587.5" r="3.7"/>
<circle class="g" cx="195.9" cy="608.9" r="3.7"/>
<circle class="g" cx="199.2" cy="614" r="3.7"/>
<circle class="g" cx="184" cy="599.7" r="3.7"/>
<circle class="g" cx="115.9" cy="607.2" r="3.7"/>
<circle class="g" cx="200.6" cy="606.7" r="3.7"/>
<circle class="g" cx="117.1" cy="636.2" r="3.7"/>
<circle class="g" cx="262.1" cy="596.2" r="3.7"/>
<circle class="g" cx="116.1" cy="568.2" r="3.7"/>
<circle class="g" cx="291.7" cy="608.6" r="3.7"/>
<circle class="r" cx="212" cy="588.8" r="3.7"/>
<circle class="r" cx="207.1" cy="584.6" r="3.7"/>
<circle class="g" cx="120.2" cy="643.3" r="3.7"/>
<circle class="r" cx="207.4" cy="593.8" r="3.7"/>
<circle class="g" cx="179.4" cy="613.2" r="3.7"/>
<circle class="g" cx="136.8" cy="646.1" r="3.7"/>
<circle class="r" cx="132.3" cy="647.8" r="3.7"/>
<circle class="r" cx="116" cy="641.2" r="3.7"/>
<circle class="r" cx="220.7" cy="458.8" r="3.7"/>
<circle class="g" cx="196.5" cy="607.6" r="3.7"/>
<circle class="g" cx="129" cy="644.3" r="3.7"/>
<circle class="g" cx="135.1" cy="647.2" r="3.7"/>
<circle class="g" cx="158.6" cy="631.7" r="3.7"/>
<circle class="g" cx="122.5" cy="644.1" r="3.7"/>
<circle class="g" cx="142.8" cy="638.6" r="3.7"/>
<circle class="g" cx="150.1" cy="636.3" r="3.7"/>
<circle class="g" cx="194.2" cy="579" r="3.7"/>
<circle class="g" cx="190.7" cy="614.9" r="3.7"/>
<circle class="g" cx="161.1" cy="628.8" r="3.7"/>
<circle class="g" cx="209.7" cy="592.9" r="3.7"/>
<circle class="g" cx="202" cy="608" r="3.7"/>
<circle class="g" cx="173.3" cy="621.7" r="3.7"/>
<circle class="g" cx="150.6" cy="634.9" r="3.7"/>
<circle class="g" cx="164.4" cy="630.2" r="3.7"/>
<circle class="g" cx="115.8" cy="621.7" r="3.7"/>
<circle class="g" cx="148.8" cy="635.8" r="3.7"/>
<circle class="g" cx="172.8" cy="612" r="3.7"/>
<circle class="g" cx="134.7" cy="646.4" r="3.7"/>
<circle class="g" cx="170.4" cy="613.6" r="3.7"/>
<circle class="g" cx="174.9" cy="617.6" r="3.7"/>
<circle class="g" cx="170.6" cy="617.4" r="3.7"/>
<circle class="g" cx="189.2" cy="620" r="3.7"/>
<circle class="g" cx="136.3" cy="647.9" r="3.7"/>
<circle class="g" cx="183" cy="618.3" r="3.7"/>
<circle class="g" cx="167" cy="623" r="3.7"/>
<circle class="g" cx="156.2" cy="635.2" r="3.7"/>
<circle class="g" cx="136.2" cy="643.5" r="3.7"/>
<circle class="g" cx="153.3" cy="637.4" r="3.7"/>
<circle class="g" cx="164.6" cy="627.8" r="3.7"/>
<circle class="g" cx="117.2" cy="616" r="3.7"/>
<circle class="g" cx="116.6" cy="623.2" r="3.7"/>
<circle class="g" cx="185.8" cy="597.3" r="3.7"/>
<circle class="g" cx="321.8" cy="576.8" r="3.7"/>
<circle class="g" cx="124.2" cy="642.3" r="3.7"/>
<circle class="g" cx="157.3" cy="627.2" r="3.7"/>
<circle class="g" cx="179.5" cy="610.9" r="3.7"/>
<circle class="g" cx="142.4" cy="637.8" r="3.7"/>
<circle class="g" cx="186.2" cy="609.4" r="3.7"/>
<circle class="g" cx="187.8" cy="608.8" r="3.7"/>
<circle class="g" cx="160" cy="634.8" r="3.7"/>
<circle class="g" cx="145.5" cy="635.9" r="3.7"/>
<circle class="g" cx="187.6" cy="610.9" r="3.7"/>
<circle class="g" cx="172.6" cy="623.5" r="3.7"/>
<circle class="g" cx="116.4" cy="634.7" r="3.7"/>
<circle class="g" cx="173.5" cy="632.3" r="3.7"/>
<circle class="g" cx="322.8" cy="542.8" r="3.7"/>
<circle class="g" cx="247.7" cy="562.2" r="3.7"/>
<circle class="g" cx="164.4" cy="623.1" r="3.7"/>
<circle class="g" cx="144" cy="641.3" r="3.7"/>
<circle class="g" cx="151.9" cy="634.2" r="3.7"/>
<circle class="g" cx="116" cy="625.3" r="3.7"/>
<circle class="g" cx="117.3" cy="636.2" r="3.7"/>
<circle class="g" cx="139.3" cy="642.8" r="3.7"/>
<circle class="g" cx="147.3" cy="635.9" r="3.7"/>
<circle class="g" cx="154.6" cy="638.9" r="3.7"/>
<circle class="g" cx="167.6" cy="628.2" r="3.7"/>
<circle class="g" cx="141.6" cy="636.9" r="3.7"/>
<circle class="g" cx="175.9" cy="615.4" r="3.7"/>
<circle class="g" cx="181.8" cy="520.3" r="3.7"/>
<circle class="g" cx="185" cy="606" r="3.7"/>
<circle class="g" cx="132.8" cy="643.9" r="3.7"/>
<circle class="g" cx="136.1" cy="642.7" r="3.7"/>
<circle class="g" cx="212.4" cy="578.5" r="3.7"/>
<circle class="g" cx="116.1" cy="595.9" r="3.7"/>
<circle class="g" cx="154.5" cy="631.9" r="3.7"/>
<circle class="g" cx="161.6" cy="622.8" r="3.7"/>
<circle class="g" cx="173.6" cy="628" r="3.7"/>
<circle class="g" cx="166.1" cy="627.1" r="3.7"/>
<circle class="g" cx="178.4" cy="614.7" r="3.7"/>
<circle class="g" cx="160.3" cy="628.7" r="3.7"/>
<circle class="g" cx="125.7" cy="645.9" r="3.7"/>
<circle class="o" cx="187.2" cy="557.2" r="3.7"/>
<circle class="o" cx="159.6" cy="424.6" r="3.7"/>
<circle class="o" cx="198.2" cy="489.8" r="3.7"/>
<circle class="o" cx="209.7" cy="556" r="3.7"/>
<circle class="o" cx="166" cy="487.7" r="3.7"/>
<circle class="o" cx="194" cy="555.8" r="3.7"/>
<circle class="o" cx="172.9" cy="415.9" r="3.7"/>
<circle class="o" cx="372.4" cy="502.4" r="3.7"/>
<circle class="g" cx="188.2" cy="551.1" r="3.7"/>
<circle class="g" cx="254.6" cy="591.9" r="3.7"/>
<circle class="o" cx="201.5" cy="508.5" r="3.7"/>
<circle class="o" cx="179.3" cy="519.9" r="3.7"/>
<circle class="o" cx="183.7" cy="507.2" r="3.7"/>
<circle class="o" cx="122.2" cy="449.5" r="3.7"/>
<circle class="o" cx="116.9" cy="415.9" r="3.7"/>
<circle class="o" cx="144.1" cy="422.9" r="3.7"/>
<circle class="o" cx="253.4" cy="564.7" r="3.7"/>
<circle class="o" cx="183.5" cy="549.9" r="3.7"/>
<circle class="o" cx="116.9" cy="509.3" r="3.7"/>
<circle class="o" cx="202.1" cy="551.5" r="3.7"/>
<circle class="o" cx="158.9" cy="623.1" r="3.7"/>
<circle class="o" cx="153.6" cy="439.3" r="3.7"/>
<circle class="o" cx="206.4" cy="522.4" r="3.7"/>
<circle class="o" cx="156.1" cy="423.9" r="3.7"/>
<circle class="o" cx="149.4" cy="422.4" r="3.7"/>
<circle class="o" cx="300.3" cy="415.9" r="3.7"/>
<circle class="o" cx="296.8" cy="507.6" r="3.7"/>
<circle class="o" cx="119.5" cy="449.4" r="3.7"/>
<circle class="o" cx="116.3" cy="576.8" r="3.7"/>
<circle class="r" cx="258.1" cy="419.8" r="3.7"/>
<circle class="o" cx="122.6" cy="415.9" r="3.7"/>
<circle class="o" cx="216.7" cy="443.9" r="3.7"/>
<circle class="o" cx="193.1" cy="589.6" r="3.7"/>
<circle class="o" cx="157" cy="447.8" r="3.7"/>
<circle class="o" cx="182.8" cy="495.8" r="3.7"/>
<circle class="o" cx="268.1" cy="547.3" r="3.7"/>
<circle class="o" cx="122.5" cy="425.8" r="3.7"/>
<circle class="o" cx="161.2" cy="443.2" r="3.7"/>
<circle class="o" cx="116.7" cy="491" r="3.7"/>
<circle class="o" cx="150.9" cy="629.7" r="3.7"/>
<circle class="o" cx="187.4" cy="550.1" r="3.7"/>
<circle class="o" cx="115.4" cy="471.1" r="3.7"/>
<circle class="o" cx="204.4" cy="500" r="3.7"/>
<circle class="o" cx="222.2" cy="557.2" r="3.7"/>
<circle class="o" cx="219.8" cy="563" r="3.7"/>
<circle class="o" cx="180.6" cy="509.9" r="3.7"/>
<circle class="o" cx="163.2" cy="623.2" r="3.7"/>
<circle class="o" cx="187.5" cy="511.1" r="3.7"/>
<circle class="o" cx="185.2" cy="597.2" r="3.7"/>
<circle class="o" cx="188.7" cy="549" r="3.7"/>
<circle class="o" cx="191.4" cy="515.8" r="3.7"/>
<circle class="o" cx="116.2" cy="627.7" r="3.7"/>
<circle class="o" cx="163" cy="471.9" r="3.7"/>
<circle class="o" cx="185.3" cy="607.2" r="3.7"/>
<circle class="o" cx="176.7" cy="467.7" r="3.7"/>
<circle class="o" cx="121.9" cy="415.9" r="3.7"/>
<circle class="o" cx="186.9" cy="478.5" r="3.7"/>
<circle class="o" cx="176.9" cy="478.1" r="3.7"/>
<circle class="o" cx="117.3" cy="451.7" r="3.7"/>
<circle class="o" cx="185.5" cy="513.6" r="3.7"/>
<circle class="o" cx="171.1" cy="620" r="3.7"/>
<circle class="o" cx="311.6" cy="585" r="3.7"/>
<circle class="o" cx="172.7" cy="502.9" r="3.7"/>
<circle class="r" cx="197.6" cy="510.8" r="3.7"/>
<circle class="r" cx="188.7" cy="545.4" r="3.7"/>
<circle class="o" cx="183.7" cy="540.6" r="3.7"/>
<circle class="o" cx="185.5" cy="556.2" r="3.7"/>
<circle class="o" cx="118" cy="533.3" r="3.7"/>
<circle class="o" cx="209" cy="521.6" r="3.7"/>
<circle class="o" cx="144.3" cy="435" r="3.7"/>
<circle class="o" cx="116.2" cy="547.1" r="3.7"/>
<circle class="o" cx="116.9" cy="557.7" r="3.7"/>
<circle class="o" cx="171.2" cy="477" r="3.7"/>
<circle class="o" cx="117.2" cy="544.6" r="3.7"/>
<circle class="r" cx="184.5" cy="517.9" r="3.7"/>
<circle class="r" cx="118.8" cy="498.6" r="3.7"/>
<circle class="o" cx="124.5" cy="450.2" r="3.7"/>
<circle class="o" cx="217.6" cy="510.5" r="3.7"/>
<circle class="o" cx="168.2" cy="494.4" r="3.7"/>
<circle class="o" cx="206.3" cy="587.1" r="3.7"/>
<circle class="o" cx="115.6" cy="596.4" r="3.7"/>
<circle class="o" cx="175.4" cy="465.1" r="3.7"/>
<circle class="r" cx="158.5" cy="452.7" r="3.7"/>
<circle class="r" cx="173" cy="529.3" r="3.7"/>
<circle class="o" cx="179.1" cy="525.7" r="3.7"/>
<circle class="o" cx="166.6" cy="483.1" r="3.7"/>
<circle class="o" cx="185.1" cy="499.8" r="3.7"/>
<circle class="o" cx="183.4" cy="597.6" r="3.7"/>
<circle class="o" cx="123.5" cy="444.3" r="3.7"/>
<circle class="o" cx="175.4" cy="622.8" r="3.7"/>
<circle class="o" cx="183.3" cy="557.2" r="3.7"/>
<circle class="o" cx="168.1" cy="415.9" r="3.7"/>
<circle class="o" cx="182.6" cy="470.4" r="3.7"/>
<circle class="o" cx="160.5" cy="425.6" r="3.7"/>
<circle class="o" cx="186" cy="585.5" r="3.7"/>
<circle class="o" cx="128.8" cy="422.3" r="3.7"/>
<circle class="o" cx="118.8" cy="462.4" r="3.7"/>
<circle class="o" cx="196" cy="548.9" r="3.7"/>
<circle class="g" cx="163" cy="441.1" r="3.7"/>
<circle class="o" cx="180.7" cy="523.3" r="3.7"/>
<circle class="o" cx="194.2" cy="524.1" r="3.7"/>
<circle class="o" cx="170.9" cy="448.8" r="3.7"/>
<circle class="r" cx="196.8" cy="564.1" r="3.7"/>
<circle class="r" cx="205.6" cy="615" r="3.7"/>
<circle class="o" cx="169.7" cy="500.3" r="3.7"/>
<circle class="o" cx="159.9" cy="459.1" r="3.7"/>
<circle class="o" cx="254.6" cy="569.6" r="3.7"/>
<circle class="o" cx="182" cy="617.4" r="3.7"/>
<circle class="o" cx="177" cy="415.9" r="3.7"/>
<circle class="o" cx="293.7" cy="529.2" r="3.7"/>
<circle class="o" cx="117.7" cy="571.2" r="3.7"/>
<circle class="o" cx="165.6" cy="415.9" r="3.7"/>
<circle class="o" cx="141.4" cy="417.8" r="3.7"/>
<circle class="o" cx="186.6" cy="496.3" r="3.7"/>
<circle class="o" cx="196" cy="536.3" r="3.7"/>
<circle class="o" cx="184.2" cy="593.4" r="3.7"/>
<circle class="o" cx="160.3" cy="415.9" r="3.7"/>
<circle class="o" cx="120.9" cy="461.8" r="3.7"/>
<circle class="o" cx="250.2" cy="594.9" r="3.7"/>
<circle class="o" cx="196.4" cy="543.5" r="3.7"/>
<circle class="o" cx="160.7" cy="478.7" r="3.7"/>
<circle class="o" cx="176.4" cy="467.5" r="3.7"/>
<circle class="o" cx="189.6" cy="588" r="3.7"/>
<circle class="o" cx="116.1" cy="464.9" r="3.7"/>
<circle class="o" cx="272.5" cy="599.4" r="3.7"/>
<circle class="o" cx="163.5" cy="415.9" r="3.7"/>
<circle class="o" cx="174.6" cy="615.9" r="3.7"/>
<circle class="o" cx="177.8" cy="537.2" r="3.7"/>
<circle class="o" cx="201.5" cy="521.7" r="3.7"/>
<circle class="o" cx="192.2" cy="468.9" r="3.7"/>
<circle class="o" cx="184.7" cy="545.5" r="3.7"/>
<circle class="o" cx="196.4" cy="479.3" r="3.7"/>
<circle class="g" cx="153.3" cy="443.5" r="3.7"/>
<circle class="o" cx="168.3" cy="426.9" r="3.7"/>
<circle class="o" cx="171.5" cy="504.4" r="3.7"/>
<circle class="o" cx="118.5" cy="480.2" r="3.7"/>
<circle class="o" cx="122.6" cy="441.7" r="3.7"/>
<circle class="o" cx="195.3" cy="489.8" r="3.7"/>
<circle class="o" cx="187.2" cy="512" r="3.7"/>
<circle class="o" cx="116.8" cy="581.3" r="3.7"/>
<circle class="o" cx="173" cy="621.5" r="3.7"/>
<circle class="o" cx="168.2" cy="492.5" r="3.7"/>
<circle class="o" cx="183" cy="464.7" r="3.7"/>
<circle class="o" cx="116.4" cy="561.7" r="3.7"/>
<circle class="o" cx="119.2" cy="481.9" r="3.7"/>
<circle class="o" cx="173.9" cy="510.2" r="3.7"/>
<circle class="o" cx="309.9" cy="529.9" r="3.7"/>
<circle class="o" cx="184.6" cy="552.9" r="3.7"/>
<circle class="o" cx="117.5" cy="511.8" r="3.7"/>
<circle class="o" cx="118.2" cy="509.6" r="3.7"/>
<circle class="o" cx="152.4" cy="433.3" r="3.7"/>
<circle class="o" cx="442.6" cy="535.9" r="3.7"/>
<circle class="o" cx="197.4" cy="415.9" r="3.7"/>
<circle class="o" cx="192" cy="574.2" r="3.7"/>
<circle class="o" cx="168.4" cy="501.8" r="3.7"/>
<circle class="o" cx="115.7" cy="510.8" r="3.7"/>
<circle class="o" cx="268.1" cy="555.7" r="3.7"/>
<circle class="o" cx="127.8" cy="421.3" r="3.7"/>
<circle class="o" cx="116.8" cy="619.9" r="3.7"/>
<circle class="o" cx="185.9" cy="473.8" r="3.7"/>
<circle class="o" cx="207.9" cy="562.9" r="3.7"/>
<circle class="o" cx="192.7" cy="491.9" r="3.7"/>
<circle class="o" cx="159.8" cy="450" r="3.7"/>
<circle class="o" cx="186.9" cy="560.3" r="3.7"/>
<circle class="o" cx="185" cy="540.1" r="3.7"/>
<circle class="o" cx="184.6" cy="611.1" r="3.7"/>
<circle class="o" cx="124.3" cy="436.4" r="3.7"/>
<circle class="o" cx="185.1" cy="513.1" r="3.7"/>
<circle class="o" cx="162.8" cy="502.6" r="3.7"/>
<circle class="o" cx="178" cy="427.8" r="3.7"/>
<circle class="o" cx="116.2" cy="565.3" r="3.7"/>
<circle class="o" cx="181.1" cy="555.5" r="3.7"/>
<circle class="o" cx="197.6" cy="590.3" r="3.7"/>
<circle class="o" cx="115.5" cy="549.3" r="3.7"/>
<circle class="o" cx="116" cy="610.3" r="3.7"/>
<circle class="o" cx="168.4" cy="527.1" r="3.7"/>
<circle class="o" cx="179.1" cy="551.5" r="3.7"/>
<circle class="o" cx="118.4" cy="466.3" r="3.7"/>
<circle class="o" cx="177.7" cy="556.1" r="3.7"/>
<circle class="o" cx="189.2" cy="539.2" r="3.7"/>
<circle class="o" cx="149.7" cy="430.8" r="3.7"/>
<circle class="o" cx="170.9" cy="532.2" r="3.7"/>
<circle class="o" cx="213.9" cy="543.8" r="3.7"/>
<circle class="o" cx="198.9" cy="525.1" r="3.7"/>
<circle class="o" cx="154.7" cy="431.6" r="3.7"/>
<circle class="o" cx="188.5" cy="606.3" r="3.7"/>
<circle class="g" cx="141.1" cy="438.5" r="3.7"/>
<circle class="o" cx="116.6" cy="564.5" r="3.7"/>
<circle class="o" cx="339.5" cy="565.9" r="3.7"/>
<circle class="o" cx="154.1" cy="423.5" r="3.7"/>
<circle class="r" cx="211" cy="592.8" r="3.7"/>
<circle class="o" cx="171.4" cy="620" r="3.7"/>
<circle class="o" cx="164.3" cy="449.9" r="3.7"/>
<circle class="o" cx="183" cy="576.6" r="3.7"/>
<circle class="r" cx="171.1" cy="503.1" r="3.7"/>
<circle class="o" cx="160.2" cy="479.1" r="3.7"/>
<circle class="o" cx="185.7" cy="432" r="3.7"/>
<circle class="r" cx="182.3" cy="533.7" r="3.7"/>
<circle class="r" cx="120.4" cy="478.4" r="3.7"/>
<circle class="r" cx="116.7" cy="492.7" r="3.7"/>
<circle class="o" cx="151.6" cy="441.1" r="3.7"/>
<circle class="o" cx="178.3" cy="480.9" r="3.7"/>
<circle class="o" cx="116.9" cy="532.5" r="3.7"/>
<circle class="o" cx="176.3" cy="495.2" r="3.7"/>
<circle class="o" cx="189.6" cy="419.4" r="3.7"/>
<circle class="o" cx="187.2" cy="575.1" r="3.7"/>
<circle class="o" cx="182.1" cy="415.9" r="3.7"/>
<circle class="o" cx="192.2" cy="531.1" r="3.7"/>
<circle class="o" cx="164.7" cy="476.4" r="3.7"/>
<circle class="o" cx="207.8" cy="548.9" r="3.7"/>
<circle class="o" cx="145.4" cy="425.4" r="3.7"/>
<circle class="o" cx="169.1" cy="482.8" r="3.7"/>
<circle class="o" cx="172" cy="522.7" r="3.7"/>
<circle class="o" cx="152.8" cy="468" r="3.7"/>
<circle class="o" cx="158.2" cy="428.6" r="3.7"/>
<circle class="o" cx="159.9" cy="415.9" r="3.7"/>
<circle class="o" cx="198" cy="415.9" r="3.7"/>
<circle class="o" cx="124" cy="427.6" r="3.7"/>
<circle class="o" cx="190.8" cy="538.2" r="3.7"/>
<circle class="o" cx="211.7" cy="493.6" r="3.7"/>
<circle class="o" cx="148.1" cy="418.5" r="3.7"/>
<circle class="o" cx="166.4" cy="458.8" r="3.7"/>
<circle class="o" cx="117.2" cy="472.4" r="3.7"/>
<circle class="o" cx="208.5" cy="551.8" r="3.7"/>
<circle class="o" cx="200.2" cy="537.7" r="3.7"/>
<circle class="o" cx="176.4" cy="547.7" r="3.7"/>
<circle class="o" cx="194.3" cy="575" r="3.7"/>
<circle class="o" cx="168.8" cy="610.8" r="3.7"/>
<circle class="o" cx="170.5" cy="497.2" r="3.7"/>
<circle class="g" cx="144.9" cy="416.4" r="3.7"/>
<circle class="o" cx="158.6" cy="484.3" r="3.7"/>
<circle class="g" cx="120.1" cy="476.9" r="3.7"/>
<circle class="o" cx="204.3" cy="545.5" r="3.7"/>
<circle class="o" cx="168.7" cy="469.1" r="3.7"/>
<circle class="o" cx="192.7" cy="475.8" r="3.7"/>
<circle class="o" cx="178" cy="533.4" r="3.7"/>
<circle class="o" cx="190.8" cy="578.9" r="3.7"/>
<circle class="o" cx="194.2" cy="543.5" r="3.7"/>
<circle class="o" cx="195.2" cy="515.4" r="3.7"/>
<circle class="o" cx="158.5" cy="465.6" r="3.7"/>
<circle class="r" cx="425.8" cy="464.8" r="3.7"/>
<circle class="r" cx="116.8" cy="613.8" r="3.7"/>
<circle class="r" cx="115.9" cy="609" r="3.7"/>
<circle class="r" cx="226.4" cy="455.3" r="3.7"/>
<circle class="r" cx="171.5" cy="433.8" r="3.7"/>
<circle class="r" cx="185.2" cy="605.5" r="3.7"/>
<circle class="o" cx="186.7" cy="514.1" r="3.7"/>
<circle class="o" cx="202.8" cy="557" r="3.7"/>
<circle class="o" cx="152.9" cy="451.6" r="3.7"/>
<circle class="o" cx="178.1" cy="576.7" r="3.7"/>
<circle class="o" cx="206.7" cy="578.9" r="3.7"/>
<circle class="o" cx="158.5" cy="481" r="3.7"/>
<circle class="g" cx="175.2" cy="415.9" r="3.7"/>
<circle class="o" cx="174.2" cy="415.9" r="3.7"/>
<circle class="o" cx="155.7" cy="466.7" r="3.7"/>
<circle class="o" cx="169.6" cy="415.9" r="3.7"/>
<circle class="o" cx="158.3" cy="630.8" r="3.7"/>
<circle class="o" cx="117.6" cy="552.6" r="3.7"/>
<circle class="o" cx="123.1" cy="415.9" r="3.7"/>
<circle class="o" cx="116.9" cy="581.4" r="3.7"/>
<circle class="o" cx="278.5" cy="580" r="3.7"/>
<circle class="o" cx="210.5" cy="450.1" r="3.7"/>
<circle class="o" cx="185" cy="566.7" r="3.7"/>
<circle class="r" cx="182" cy="515.9" r="3.7"/>
<circle class="r" cx="171" cy="454.4" r="3.7"/>
<circle class="o" cx="141.8" cy="458.1" r="3.7"/>
<circle class="o" cx="167.6" cy="419.5" r="3.7"/>
<circle class="o" cx="164.3" cy="497.3" r="3.7"/>
<circle class="o" cx="186.5" cy="415.9" r="3.7"/>
<circle class="o" cx="328.5" cy="562.7" r="3.7"/>
<circle class="o" cx="197.8" cy="587.8" r="3.7"/>
<circle class="o" cx="226.9" cy="483.4" r="3.7"/>
<circle class="o" cx="180.1" cy="415.9" r="3.7"/>
<circle class="o" cx="179.5" cy="500.8" r="3.7"/>
<circle class="o" cx="150.7" cy="469.7" r="3.7"/>
<circle class="o" cx="167.3" cy="475.3" r="3.7"/>
<circle class="o" cx="196.2" cy="415.9" r="3.7"/>
<circle class="o" cx="173.1" cy="416" r="3.7"/>
<circle class="o" cx="199.2" cy="573.7" r="3.7"/>
<circle class="o" cx="141.5" cy="427.3" r="3.7"/>
<circle class="o" cx="186.5" cy="415.9" r="3.7"/>
<circle class="o" cx="117.6" cy="496.9" r="3.7"/>
<circle class="r" cx="118.1" cy="513.6" r="3.7"/>
<circle class="r" cx="145.2" cy="429.8" r="3.7"/>
<circle class="r" cx="179.9" cy="610" r="3.7"/>
<circle class="g" cx="298.7" cy="551.5" r="3.7"/>
<circle class="o" cx="183.1" cy="473.8" r="3.7"/>
<circle class="o" cx="177.9" cy="519.3" r="3.7"/>
<circle class="o" cx="118" cy="570.3" r="3.7"/>
<circle class="o" cx="175.6" cy="441.3" r="3.7"/>
<circle class="o" cx="177.9" cy="540.8" r="3.7"/>
<circle class="o" cx="203.7" cy="415.9" r="3.7"/>
<circle class="o" cx="151.9" cy="452.5" r="3.7"/>
<circle class="o" cx="116" cy="600.9" r="3.7"/>
<circle class="o" cx="165.2" cy="449.5" r="3.7"/>
<circle class="o" cx="199.8" cy="443.8" r="3.7"/>
<circle class="o" cx="502.8" cy="480.8" r="3.7"/>
<circle class="o" cx="151.2" cy="630.1" r="3.7"/>
<circle class="o" cx="171.9" cy="526.6" r="3.7"/>
<circle class="r" cx="180.9" cy="550.8" r="3.7"/>
<circle class="r" cx="192.5" cy="462.3" r="3.7"/>
<circle class="o" cx="213.6" cy="443.3" r="3.7"/>
<circle class="o" cx="116.3" cy="611.3" r="3.7"/>
<circle class="o" cx="154.4" cy="454.7" r="3.7"/>
<circle class="o" cx="204.3" cy="519.2" r="3.7"/>
<circle class="o" cx="117.7" cy="446.9" r="3.7"/>
<circle class="o" cx="216.6" cy="550.9" r="3.7"/>
<circle class="o" cx="170.8" cy="502.4" r="3.7"/>
<circle class="o" cx="154.7" cy="625.5" r="3.7"/>
<circle class="o" cx="172" cy="533.6" r="3.7"/>
<circle class="o" cx="177.6" cy="415.9" r="3.7"/>
<circle class="o" cx="172.3" cy="616.1" r="3.7"/>
<circle class="o" cx="118.2" cy="571.3" r="3.7"/>
<circle class="o" cx="170.4" cy="525.4" r="3.7"/>
<circle class="o" cx="162.6" cy="415.9" r="3.7"/>
<circle class="o" cx="154.2" cy="435.6" r="3.7"/>
<circle class="o" cx="152.7" cy="468.3" r="3.7"/>
<circle class="o" cx="184.8" cy="591.7" r="3.7"/>
<circle class="o" cx="185.7" cy="520.4" r="3.7"/>
<circle class="r" cx="188.4" cy="607.6" r="3.7"/>
<circle class="r" cx="283" cy="545.3" r="3.7"/>
<circle class="o" cx="210.6" cy="542.6" r="3.7"/>
<circle class="o" cx="145.1" cy="422.7" r="3.7"/>
<circle class="o" cx="184.5" cy="588.6" r="3.7"/>
<circle class="o" cx="182" cy="528.6" r="3.7"/>
<circle class="o" cx="183.8" cy="581.4" r="3.7"/>
<circle class="o" cx="116.6" cy="495" r="3.7"/>
<circle class="r" cx="117.7" cy="462" r="3.7"/>
<circle class="r" cx="208.9" cy="582.8" r="3.7"/>
<circle class="r" cx="163.1" cy="471.9" r="3.7"/>
<circle class="r" cx="176.9" cy="537.1" r="3.7"/>
<circle class="r" cx="187.9" cy="454.6" r="3.7"/>
<circle class="o" cx="175.4" cy="541.9" r="3.7"/>
<circle class="o" cx="123.6" cy="492.8" r="3.7"/>
<circle class="o" cx="122.3" cy="451.5" r="3.7"/>
<circle class="o" cx="177.9" cy="574.5" r="3.7"/>
<circle class="o" cx="148.5" cy="460.5" r="3.7"/>
<circle class="o" cx="209.9" cy="477.1" r="3.7"/>
<circle class="o" cx="173.3" cy="537.1" r="3.7"/>
<circle class="o" cx="116.7" cy="534.9" r="3.7"/>
<circle class="o" cx="239.2" cy="529.9" r="3.7"/>
<circle class="o" cx="165.4" cy="422.4" r="3.7"/>
<circle class="o" cx="180.3" cy="464.3" r="3.7"/>
<circle class="o" cx="169.1" cy="415.9" r="3.7"/>
<circle class="o" cx="118" cy="567.5" r="3.7"/>
<circle class="o" cx="214.9" cy="592.5" r="3.7"/>
<circle class="o" cx="150.1" cy="437.9" r="3.7"/>
<circle class="o" cx="168.1" cy="507.9" r="3.7"/>
<circle class="o" cx="117.9" cy="464.1" r="3.7"/>
<circle class="o" cx="116.8" cy="532.8" r="3.7"/>
<circle class="o" cx="115.8" cy="498.4" r="3.7"/>
<circle class="r" cx="160.2" cy="636.9" r="3.7"/>
<circle class="r" cx="163.9" cy="415.9" r="3.7"/>
<circle class="r" cx="176.4" cy="558.4" r="3.7"/>
<circle class="r" cx="115.9" cy="505.7" r="3.7"/>
<circle class="o" cx="183.6" cy="512.5" r="3.7"/>
<circle class="o" cx="216.5" cy="540.2" r="3.7"/>
<circle class="o" cx="118.8" cy="570.6" r="3.7"/>
<circle class="o" cx="165.3" cy="503.7" r="3.7"/>
<circle class="o" cx="120.8" cy="472.5" r="3.7"/>
<circle class="o" cx="161.4" cy="476.3" r="3.7"/>
<circle class="g" cx="181" cy="457.5" r="3.7"/>
<circle class="g" cx="156.3" cy="439" r="3.7"/>
<circle class="o" cx="115.6" cy="527" r="3.7"/>
<circle class="o" cx="117.2" cy="537.4" r="3.7"/>
<circle class="o" cx="118.9" cy="447.8" r="3.7"/>
<circle class="o" cx="120.4" cy="511.6" r="3.7"/>
<circle class="o" cx="178.1" cy="467.3" r="3.7"/>
<circle class="o" cx="189.5" cy="601.6" r="3.7"/>
<circle class="g" cx="117.7" cy="534.8" r="3.7"/>
<circle class="g" cx="120.6" cy="506.2" r="3.7"/>
<circle class="g" cx="115.5" cy="577.8" r="3.7"/>
<circle class="o" cx="190.7" cy="488" r="3.7"/>
<circle class="o" cx="247.4" cy="519.6" r="3.7"/>
<circle class="o" cx="140.9" cy="425.7" r="3.7"/>
<circle class="o" cx="118.8" cy="467.1" r="3.7"/>
<circle class="o" cx="173.5" cy="546.5" r="3.7"/>
<circle class="o" cx="306" cy="505.4" r="3.7"/>
<circle class="o" cx="120.5" cy="500.8" r="3.7"/>
<circle class="o" cx="167.7" cy="619.3" r="3.7"/>
<circle class="o" cx="118.8" cy="534.3" r="3.7"/>
<circle class="o" cx="161.9" cy="415.9" r="3.7"/>
<circle class="o" cx="151.1" cy="450" r="3.7"/>
<circle class="o" cx="202" cy="544.8" r="3.7"/>
<circle class="o" cx="126.1" cy="441.1" r="3.7"/>
<circle class="o" cx="171" cy="415.9" r="3.7"/>
<circle class="o" cx="185.3" cy="619.3" r="3.7"/>
<circle class="o" cx="180.3" cy="572.2" r="3.7"/>
<circle class="r" cx="237.4" cy="486.7" r="3.7"/>
<circle class="r" cx="125.7" cy="451.1" r="3.7"/>
<circle class="o" cx="154" cy="452.8" r="3.7"/>
<circle class="o" cx="201.7" cy="415.9" r="3.7"/>
<circle class="o" cx="118.9" cy="535.3" r="3.7"/>
<circle class="o" cx="229.6" cy="564.3" r="3.7"/>
<circle class="o" cx="125.3" cy="441.3" r="3.7"/>
<circle class="o" cx="115.5" cy="524.4" r="3.7"/>
<circle class="o" cx="147.2" cy="460.6" r="3.7"/>
<circle class="o" cx="115.9" cy="504.1" r="3.7"/>
<circle class="o" cx="181.6" cy="449.8" r="3.7"/>
<circle class="o" cx="117.3" cy="546" r="3.7"/>
<circle class="o" cx="170.3" cy="517.7" r="3.7"/>
<circle class="o" cx="163.3" cy="495.5" r="3.7"/>
<circle class="o" cx="218.9" cy="438.8" r="3.7"/>
<circle class="o" cx="184.5" cy="507" r="3.7"/>
<circle class="o" cx="116.4" cy="541.7" r="3.7"/>
<circle class="o" cx="117.2" cy="600.3" r="3.7"/>
<circle class="o" cx="145" cy="461.9" r="3.7"/>
<circle class="o" cx="153.8" cy="415.9" r="3.7"/>
<circle class="o" cx="180.6" cy="517.5" r="3.7"/>
<circle class="o" cx="229.6" cy="582.4" r="3.7"/>
<circle class="o" cx="168.7" cy="415.9" r="3.7"/>
<circle class="o" cx="167.5" cy="448" r="3.7"/>
<circle class="o" cx="193.3" cy="576" r="3.7"/>
<circle class="o" cx="120.6" cy="447.2" r="3.7"/>
<circle class="o" cx="117.1" cy="574.9" r="3.7"/>
<circle class="o" cx="121.2" cy="415.9" r="3.7"/>
<circle class="o" cx="189.5" cy="550.4" r="3.7"/>
<circle class="o" cx="155.1" cy="415.9" r="3.7"/>
<circle class="o" cx="181.8" cy="553.3" r="3.7"/>
<circle class="o" cx="116.4" cy="590.2" r="3.7"/>
<circle class="o" cx="191" cy="559.6" r="3.7"/>
<circle class="o" cx="118" cy="516.8" r="3.7"/>
<circle class="o" cx="159.4" cy="415.9" r="3.7"/>
<circle class="o" cx="218.2" cy="569.8" r="3.7"/>
<circle class="o" cx="166.9" cy="462.6" r="3.7"/>
<circle class="o" cx="149.2" cy="430.9" r="3.7"/>
<circle class="o" cx="129.2" cy="431.1" r="3.7"/>
<circle class="o" cx="157" cy="427.9" r="3.7"/>
<circle class="o" cx="197.7" cy="597.8" r="3.7"/>
<circle class="o" cx="215.4" cy="573" r="3.7"/>
<circle class="o" cx="217.4" cy="433.2" r="3.7"/>
<circle class="o" cx="161.5" cy="415.9" r="3.7"/>
<circle class="o" cx="174.3" cy="526.1" r="3.7"/>
<circle class="o" cx="121" cy="478.6" r="3.7"/>
<circle class="o" cx="191.4" cy="422.2" r="3.7"/>
<circle class="o" cx="183.5" cy="564.4" r="3.7"/>
<circle class="o" cx="118.4" cy="553.3" r="3.7"/>
<circle class="o" cx="160.9" cy="415.9" r="3.7"/>
<circle class="o" cx="117.5" cy="488.4" r="3.7"/>
<circle class="o" cx="197.7" cy="609.3" r="3.7"/>
<circle class="o" cx="141.7" cy="456.9" r="3.7"/>
<circle class="o" cx="151.4" cy="447.1" r="3.7"/>
<circle class="o" cx="221.7" cy="481.2" r="3.7"/>
<circle class="o" cx="126.2" cy="437.8" r="3.7"/>
<circle class="o" cx="171.7" cy="515.6" r="3.7"/>
<circle class="o" cx="280.6" cy="508.9" r="3.7"/>
<circle class="o" cx="172.4" cy="521.4" r="3.7"/>
<circle class="o" cx="186.9" cy="433.6" r="3.7"/>
<circle class="o" cx="179.1" cy="611.4" r="3.7"/>
<circle class="o" cx="201.9" cy="528.3" r="3.7"/>
<circle class="g" cx="131.7" cy="430.6" r="3.7"/>
<circle class="g" cx="121.5" cy="506.1" r="3.7"/>
<circle class="o" cx="158.4" cy="631" r="3.7"/>
<circle class="o" cx="117.1" cy="535.4" r="3.7"/>
<circle class="o" cx="167.4" cy="444.4" r="3.7"/>
<circle class="o" cx="174.1" cy="459.7" r="3.7"/>
<circle class="o" cx="155.8" cy="480.8" r="3.7"/>
<circle class="o" cx="174.9" cy="489.5" r="3.7"/>
<circle class="o" cx="212" cy="524.5" r="3.7"/>
<circle class="o" cx="176.1" cy="513.3" r="3.7"/>
<circle class="o" cx="138.7" cy="426.6" r="3.7"/>
<circle class="o" cx="192.1" cy="551.8" r="3.7"/>
<circle class="o" cx="158.3" cy="623.4" r="3.7"/>
<circle class="o" cx="115.4" cy="597.7" r="3.7"/>
<circle class="o" cx="190.2" cy="489.6" r="3.7"/>
<circle class="o" cx="223.7" cy="561.7" r="3.7"/>
<circle class="o" cx="196.9" cy="415.9" r="3.7"/>
<circle class="p" cx="126.6" cy="440.2" r="3.7"/>
<circle class="o" cx="398.5" cy="493.8" r="3.7"/>
<circle class="o" cx="122.3" cy="467.1" r="3.7"/>
<circle class="o" cx="334.7" cy="479.7" r="3.7"/>
<circle class="o" cx="175.1" cy="451.4" r="3.7"/>
<circle class="o" cx="190.1" cy="561.4" r="3.7"/>
<circle class="o" cx="147.1" cy="420" r="3.7"/>
<circle class="o" cx="151.9" cy="479.5" r="3.7"/>
<circle class="o" cx="164.2" cy="612.8" r="3.7"/>
<circle class="o" cx="177.8" cy="529.6" r="3.7"/>
<circle class="o" cx="150.5" cy="442.2" r="3.7"/>
<circle class="o" cx="174.4" cy="532.3" r="3.7"/>
<circle class="o" cx="162.1" cy="415.9" r="3.7"/>
<circle class="o" cx="157.1" cy="474.8" r="3.7"/>
<circle class="o" cx="116.1" cy="575.7" r="3.7"/>
<circle class="o" cx="200.9" cy="578" r="3.7"/>
<circle class="o" cx="150.9" cy="415.9" r="3.7"/>
<circle class="r" cx="201.2" cy="570.7" r="3.7"/>
<circle class="g" cx="164.9" cy="446.9" r="3.7"/>
<circle class="g" cx="162.2" cy="426.8" r="3.7"/>
<circle class="g" cx="154.9" cy="429.9" r="3.7"/>
<circle class="g" cx="185.4" cy="576.4" r="3.7"/>
<circle class="o" cx="168.1" cy="515.8" r="3.7"/>
<circle class="o" cx="182.5" cy="547.3" r="3.7"/>
<circle class="o" cx="116.4" cy="547.1" r="3.7"/>
<circle class="o" cx="159.5" cy="474.8" r="3.7"/>
<circle class="o" cx="118.6" cy="567.1" r="3.7"/>
<circle class="o" cx="384.1" cy="548.1" r="3.7"/>
<circle class="o" cx="160.4" cy="498.5" r="3.7"/>
<circle class="o" cx="179.1" cy="581.8" r="3.7"/>
<circle class="r" cx="170.2" cy="626.9" r="3.7"/>
<circle class="o" cx="192.3" cy="559.6" r="3.7"/>
<circle class="o" cx="204.8" cy="563.2" r="3.7"/>
<circle class="o" cx="116.9" cy="592.6" r="3.7"/>
<circle class="r" cx="192.4" cy="584.8" r="3.7"/>
<circle class="r" cx="168.9" cy="532.7" r="3.7"/>
<circle class="r" cx="185.9" cy="546.5" r="3.7"/>
<circle class="o" cx="142.4" cy="456.9" r="3.7"/>
<circle class="o" cx="180.7" cy="508" r="3.7"/>
<circle class="o" cx="119.5" cy="415.9" r="3.7"/>
<circle class="o" cx="251.4" cy="567.6" r="3.7"/>
<circle class="o" cx="166.6" cy="444.8" r="3.7"/>
<circle class="o" cx="193.1" cy="592.7" r="3.7"/>
<circle class="o" cx="120.8" cy="453.8" r="3.7"/>
<circle class="o" cx="115.8" cy="560.3" r="3.7"/>
<circle class="o" cx="217.3" cy="502" r="3.7"/>
<circle class="o" cx="192.1" cy="506.4" r="3.7"/>
<circle class="o" cx="130.6" cy="430.6" r="3.7"/>
<circle class="o" cx="331" cy="564.7" r="3.7"/>
<circle class="o" cx="137" cy="420.1" r="3.7"/>
<circle class="o" cx="179.1" cy="555.8" r="3.7"/>
<circle class="o" cx="142.8" cy="440.6" r="3.7"/>
<circle class="o" cx="124.6" cy="467.4" r="3.7"/>
<circle class="o" cx="273.3" cy="532.1" r="3.7"/>
<circle class="o" cx="121.2" cy="445.9" r="3.7"/>
<circle class="o" cx="130.3" cy="418.6" r="3.7"/>
<circle class="o" cx="207.7" cy="606.6" r="3.7"/>
<circle class="o" cx="448.4" cy="601" r="3.7"/>
<circle class="o" cx="173.9" cy="474.7" r="3.7"/>
<circle class="o" cx="148.2" cy="468.4" r="3.7"/>
<circle class="o" cx="124.3" cy="493.4" r="3.7"/>
<circle class="o" cx="151.9" cy="441.6" r="3.7"/>
<circle class="o" cx="293.7" cy="539.1" r="3.7"/>
<circle class="o" cx="116.7" cy="637.1" r="3.7"/>
<circle class="o" cx="229" cy="580.2" r="3.7"/>
<circle class="o" cx="154.7" cy="484.3" r="3.7"/>
<circle class="o" cx="166.1" cy="456.5" r="3.7"/>
<circle class="o" cx="266.8" cy="521.4" r="3.7"/>
<circle class="o" cx="175.8" cy="577.5" r="3.7"/>
<circle class="o" cx="172.2" cy="518.8" r="3.7"/>
<circle class="o" cx="145.5" cy="426.8" r="3.7"/>
<circle class="o" cx="190.4" cy="467.2" r="3.7"/>
<circle class="o" cx="121.2" cy="467.5" r="3.7"/>
<circle class="o" cx="164.7" cy="470.4" r="3.7"/>
<circle class="o" cx="116.5" cy="530.2" r="3.7"/>
<circle class="o" cx="150" cy="438.1" r="3.7"/>
<circle class="o" cx="245.2" cy="577.6" r="3.7"/>
<circle class="o" cx="151.3" cy="429.8" r="3.7"/>
<circle class="o" cx="323.3" cy="568.1" r="3.7"/>
<circle class="o" cx="200.4" cy="552.9" r="3.7"/>
<circle class="o" cx="116.2" cy="609.1" r="3.7"/>
<circle class="g" cx="268.3" cy="560.9" r="3.7"/>
<circle class="g" cx="174.4" cy="415.9" r="3.7"/>
<circle class="g" cx="115.4" cy="612.2" r="3.7"/>
<circle class="g" cx="210.7" cy="577.1" r="3.7"/>
<circle class="o" cx="119.6" cy="499.5" r="3.7"/>
<circle class="o" cx="116.5" cy="604.9" r="3.7"/>
<circle class="o" cx="147" cy="428.1" r="3.7"/>
<circle class="o" cx="155.6" cy="415.9" r="3.7"/>
<circle class="o" cx="196" cy="597.9" r="3.7"/>
<circle class="o" cx="199.7" cy="415.9" r="3.7"/>
<circle class="o" cx="165.6" cy="498.1" r="3.7"/>
<circle class="o" cx="181.9" cy="591.1" r="3.7"/>
<circle class="o" cx="263.6" cy="415.9" r="3.7"/>
<circle class="g" cx="152" cy="626.1" r="3.7"/>
<circle class="g" cx="149.8" cy="631.3" r="3.7"/>
<circle class="g" cx="166.2" cy="615.1" r="3.7"/>
<circle class="g" cx="117.5" cy="617" r="3.7"/>
<circle class="g" cx="165.3" cy="619.5" r="3.7"/>
<circle class="g" cx="181.5" cy="605.8" r="3.7"/>
<circle class="g" cx="127.1" cy="647.9" r="3.7"/>
<circle class="g" cx="250.9" cy="580" r="3.7"/>
<circle class="g" cx="177" cy="609.3" r="3.7"/>
<circle class="g" cx="174.3" cy="609.2" r="3.7"/>
<circle class="g" cx="117.1" cy="636.1" r="3.7"/>
<circle class="g" cx="185.8" cy="599.9" r="3.7"/>
<circle class="g" cx="162.9" cy="620.8" r="3.7"/>
<circle class="g" cx="181.3" cy="606.3" r="3.7"/>
<circle class="g" cx="181.1" cy="597.6" r="3.7"/>
<circle class="g" cx="169.6" cy="623.5" r="3.7"/>
<circle class="g" cx="241.5" cy="611.1" r="3.7"/>
<circle class="g" cx="140.9" cy="636" r="3.7"/>
<circle class="g" cx="163.1" cy="629.9" r="3.7"/>
<circle class="g" cx="178.2" cy="606.7" r="3.7"/>
<circle class="g" cx="116.5" cy="639.1" r="3.7"/>
<circle class="g" cx="186.3" cy="603.9" r="3.7"/>
<circle class="g" cx="149.2" cy="632.4" r="3.7"/>
<circle class="g" cx="192.5" cy="563.1" r="3.7"/>
<circle class="g" cx="136.1" cy="641.3" r="3.7"/>
<circle class="g" cx="181.3" cy="599" r="3.7"/>
<circle class="g" cx="116" cy="628.4" r="3.7"/>
<circle class="g" cx="242.7" cy="534.1" r="3.7"/>
<circle class="g" cx="188.9" cy="599.6" r="3.7"/>
<circle class="g" cx="160.8" cy="619" r="3.7"/>
<circle class="g" cx="116.8" cy="587.9" r="3.7"/>
<circle class="g" cx="137.6" cy="640.7" r="3.7"/>
<circle class="g" cx="201.4" cy="608.6" r="3.7"/>
<circle class="g" cx="175.1" cy="617.6" r="3.7"/>
<circle class="g" cx="227.4" cy="524.9" r="3.7"/>
<circle class="g" cx="161" cy="616.1" r="3.7"/>
<circle class="g" cx="185.9" cy="575.8" r="3.7"/>
<circle class="g" cx="167.9" cy="612.8" r="3.7"/>
<circle class="g" cx="236.5" cy="546.5" r="3.7"/>
<circle class="g" cx="194.4" cy="578.5" r="3.7"/>
<circle class="g" cx="158.9" cy="622.4" r="3.7"/>
<circle class="g" cx="194" cy="607" r="3.7"/>
<circle class="r" cx="161.2" cy="483.7" r="3.7"/>
<circle class="r" cx="164.9" cy="420.5" r="3.7"/>
<circle class="r" cx="116.3" cy="481.7" r="3.7"/>
<circle class="r" cx="160.6" cy="468.3" r="3.7"/>
<circle class="r" cx="130" cy="425.7" r="3.7"/>
<circle class="r" cx="121.7" cy="438.1" r="3.7"/>
<circle class="b" cx="134.6" cy="418.2" r="3.7"/>
<circle class="b" cx="191.6" cy="415.9" r="3.7"/>
<circle class="b" cx="169.7" cy="432.7" r="3.7"/>
<circle class="b" cx="129.7" cy="423.6" r="3.7"/>
<circle class="b" cx="170" cy="535" r="3.7"/>
<circle class="b" cx="119.8" cy="470.7" r="3.7"/>
<circle class="b" cx="123.8" cy="474.2" r="3.7"/>
<circle class="b" cx="244.7" cy="544.6" r="3.7"/>
<circle class="b" cx="150.9" cy="440.7" r="3.7"/>
<circle class="r" cx="121.3" cy="461.3" r="3.7"/>
<circle class="r" cx="142.5" cy="460" r="3.7"/>
<circle class="r" cx="150.2" cy="447.3" r="3.7"/>
<circle class="r" cx="149.5" cy="446.6" r="3.7"/>
<circle class="b" cx="117.7" cy="440.3" r="3.7"/>
<circle class="b" cx="217.4" cy="480" r="3.7"/>
<circle class="b" cx="143.9" cy="456" r="3.7"/>
<circle class="b" cx="182" cy="444.8" r="3.7"/>
<circle class="b" cx="168.3" cy="415.9" r="3.7"/>
<circle class="b" cx="159.1" cy="451" r="3.7"/>
<circle class="b" cx="152.8" cy="452" r="3.7"/>
<circle class="b" cx="124" cy="466.4" r="3.7"/>
<circle class="b" cx="149.6" cy="448.3" r="3.7"/>
<circle class="b" cx="124.5" cy="433.7" r="3.7"/>
<circle class="b" cx="133.8" cy="428.1" r="3.7"/>
<circle class="b" cx="151.9" cy="452.4" r="3.7"/>
<circle class="b" cx="178.1" cy="456.7" r="3.7"/>
<circle class="b" cx="124.8" cy="433.2" r="3.7"/>
<circle class="r" cx="136.1" cy="424.5" r="3.7"/>
<circle class="r" cx="180.4" cy="453.2" r="3.7"/>
<circle class="r" cx="117.2" cy="481.9" r="3.7"/>
<circle class="r" cx="176.8" cy="560.9" r="3.7"/>
<circle class="r" cx="142.4" cy="424.7" r="3.7"/>
<circle class="r" cx="116" cy="494.5" r="3.7"/>
<circle class="b" cx="142.1" cy="465" r="3.7"/>
<circle class="b" cx="121.9" cy="476.4" r="3.7"/>
<circle class="b" cx="194.1" cy="535" r="3.7"/>
<circle class="b" cx="121" cy="503.3" r="3.7"/>
<circle class="b" cx="164.7" cy="415.9" r="3.7"/>
<circle class="b" cx="130.9" cy="423.9" r="3.7"/>
<circle class="b" cx="167.2" cy="497.2" r="3.7"/>
<circle class="b" cx="118.9" cy="488.8" r="3.7"/>
<circle class="b" cx="116.7" cy="573.8" r="3.7"/>
<circle class="g" cx="211.7" cy="577.5" r="3.7"/>
<circle class="g" cx="188.9" cy="585.8" r="3.7"/>
<circle class="o" cx="172.2" cy="608" r="3.7"/>
<circle class="o" cx="189.5" cy="591.5" r="3.7"/>
<circle class="o" cx="123.3" cy="641.5" r="3.7"/>
<circle class="g" cx="159.5" cy="619.7" r="3.7"/>
<circle class="g" cx="166.1" cy="621.8" r="3.7"/>
<circle class="g" cx="199.2" cy="596.6" r="3.7"/>
<circle class="g" cx="116.6" cy="650.9" r="3.7"/>
<circle class="g" cx="116.9" cy="599.2" r="3.7"/>
<circle class="g" cx="189.1" cy="605.2" r="3.7"/>
<circle class="g" cx="146.5" cy="641.6" r="3.7"/>
<circle class="g" cx="179" cy="620.2" r="3.7"/>
<circle class="g" cx="203" cy="592.2" r="3.7"/>
<circle class="o" cx="162.1" cy="615.2" r="3.7"/>
<circle class="o" cx="197.3" cy="597.9" r="3.7"/>
<circle class="o" cx="186.8" cy="607.2" r="3.7"/>
<circle class="o" cx="128" cy="643.1" r="3.7"/>
<circle class="o" cx="117.4" cy="641.6" r="3.7"/>
<circle class="g" cx="125.8" cy="643.5" r="3.7"/>
<circle class="g" cx="151.3" cy="627.6" r="3.7"/>
<circle class="g" cx="191.5" cy="545.6" r="3.7"/>
<circle class="g" cx="280" cy="590" r="3.7"/>
<circle class="g" cx="117" cy="610.6" r="3.7"/>
<circle class="g" cx="187.5" cy="596.5" r="3.7"/>
<circle class="g" cx="132.3" cy="642.3" r="3.7"/>
<circle class="g" cx="176.7" cy="616" r="3.7"/>
<circle class="g" cx="174.9" cy="613.6" r="3.7"/>
<circle class="g" cx="148.4" cy="631.9" r="3.7"/>
<circle class="g" cx="237.2" cy="565.1" r="3.7"/>
<circle class="r" cx="116.5" cy="580.3" r="3.7"/>
<circle class="r" cx="169.9" cy="599.9" r="3.7"/>
<circle class="r" cx="129" cy="642.7" r="3.7"/>
<circle class="r" cx="174.7" cy="558.2" r="3.7"/>
<circle class="g" cx="132.4" cy="643.2" r="3.7"/>
<circle class="g" cx="117" cy="639.4" r="3.7"/>
<circle class="g" cx="155.8" cy="635.4" r="3.7"/>
<circle class="g" cx="181.6" cy="563.2" r="3.7"/>
<circle class="g" cx="183.6" cy="595.3" r="3.7"/>
<circle class="g" cx="215" cy="598.1" r="3.7"/>
<circle class="o" cx="168.6" cy="605.2" r="3.7"/>
<circle class="o" cx="138.1" cy="641.8" r="3.7"/>
<circle class="o" cx="229" cy="546.5" r="3.7"/>
<circle class="g" cx="158" cy="617.6" r="3.7"/>
<circle class="r" cx="156.4" cy="457.6" r="3.7"/>
<circle class="r" cx="148.6" cy="467" r="3.7"/>
<circle class="r" cx="177.9" cy="602.9" r="3.7"/>
<circle class="r" cx="125.5" cy="472" r="3.7"/>
<circle class="r" cx="173.2" cy="505.9" r="3.7"/>
<circle class="r" cx="206.6" cy="550.2" r="3.7"/>
<circle class="r" cx="163.3" cy="415.9" r="3.7"/>
<circle class="o" cx="189.2" cy="499.9" r="3.7"/>
<circle class="r" cx="186.5" cy="553.2" r="3.7"/>
<circle class="r" cx="186.8" cy="546.7" r="3.7"/>
<circle class="r" cx="156" cy="484.2" r="3.7"/>
<circle class="r" cx="185.5" cy="529.9" r="3.7"/>
<circle class="r" cx="119.8" cy="485.8" r="3.7"/>
<circle class="o" cx="237.4" cy="523.1" r="3.7"/>
<circle class="o" cx="120.6" cy="441.6" r="3.7"/>
<circle class="o" cx="115.8" cy="549.5" r="3.7"/>
<circle class="r" cx="180" cy="607.1" r="3.7"/>
<circle class="r" cx="115.8" cy="536.2" r="3.7"/>
<circle class="r" cx="174.7" cy="523.2" r="3.7"/>
<circle class="o" cx="119.9" cy="500.2" r="3.7"/>
<circle class="r" cx="118.7" cy="553.2" r="3.7"/>
<circle class="r" cx="148.4" cy="445" r="3.7"/>
<circle class="r" cx="185.6" cy="553.1" r="3.7"/>
<circle class="r" cx="216.4" cy="550.6" r="3.7"/>
<circle class="o" cx="172.7" cy="527.6" r="3.7"/>
<circle class="o" cx="118.5" cy="568.7" r="3.7"/>
<circle class="r" cx="159" cy="520.2" r="3.7"/>
<circle class="r" cx="175.4" cy="553.6" r="3.7"/>
<circle class="r" cx="116.8" cy="444.6" r="3.7"/>
<circle class="r" cx="127" cy="418.8" r="3.7"/>
<circle class="g" cx="127" cy="440" r="3.7"/>
<circle class="g" cx="189" cy="556.1" r="3.7"/>
<circle class="g" cx="227.8" cy="622.7" r="3.7"/>
<circle class="g" cx="119.5" cy="531.9" r="3.7"/>
<circle class="g" cx="194.9" cy="547.3" r="3.7"/>
<circle class="b" cx="117.2" cy="584" r="3.7"/>
<circle class="b" cx="156.7" cy="472.2" r="3.7"/>
<circle class="b" cx="160.1" cy="616.5" r="3.7"/>
<circle class="g" cx="115.4" cy="627.1" r="3.7"/>
<circle class="g" cx="287.8" cy="492.7" r="3.7"/>
<circle class="b" cx="117" cy="558.1" r="3.7"/>
<circle class="b" cx="190" cy="543.3" r="3.7"/>
<circle class="b" cx="179.1" cy="550" r="3.7"/>
<circle class="b" cx="115.6" cy="585.9" r="3.7"/>
<circle class="g" cx="330.3" cy="589.5" r="3.7"/>
<circle class="g" cx="157.6" cy="415.9" r="3.7"/>
<circle class="g" cx="118.1" cy="549.4" r="3.7"/>
<circle class="b" cx="177.3" cy="563.1" r="3.7"/>
<circle class="g" cx="116.4" cy="616" r="3.7"/>
<circle class="o" cx="165.8" cy="415.9" r="3.7"/>
<circle class="o" cx="180.6" cy="509.6" r="3.7"/>
<circle class="o" cx="123.1" cy="460.6" r="3.7"/>
<circle class="r" cx="115.4" cy="548.3" r="3.7"/>
<circle class="r" cx="181.1" cy="557.5" r="3.7"/>
<circle class="r" cx="177.3" cy="544.7" r="3.7"/>
<circle class="r" cx="177.3" cy="548" r="3.7"/>
<circle class="r" cx="173.4" cy="545.1" r="3.7"/>
<circle class="o" cx="128.2" cy="436.4" r="3.7"/>
<circle class="o" cx="179.7" cy="418.8" r="3.7"/>
<circle class="o" cx="175.7" cy="539.1" r="3.7"/>
<circle class="o" cx="187.1" cy="543.8" r="3.7"/>
<circle class="o" cx="185.3" cy="550.3" r="3.7"/>
<circle class="o" cx="168.6" cy="477.6" r="3.7"/>
<circle class="o" cx="173.2" cy="554.6" r="3.7"/>
<circle class="o" cx="165.4" cy="519" r="3.7"/>
<circle class="o" cx="166.1" cy="524" r="3.7"/>
<circle class="o" cx="186" cy="457.9" r="3.7"/>
<circle class="r" cx="176.5" cy="517.5" r="3.7"/>
<circle class="r" cx="116.9" cy="582" r="3.7"/>
<circle class="r" cx="155.1" cy="471.1" r="3.7"/>
<circle class="o" cx="158.5" cy="468.5" r="3.7"/>
<circle class="o" cx="174.7" cy="530.7" r="3.7"/>
<circle class="o" cx="192.9" cy="481.1" r="3.7"/>
<circle class="o" cx="242.2" cy="576.8" r="3.7"/>
<circle class="o" cx="146" cy="446.8" r="3.7"/>
<circle class="o" cx="185.5" cy="505.4" r="3.7"/>
<circle class="o" cx="118.2" cy="544.2" r="3.7"/>
<circle class="o" cx="117.2" cy="505" r="3.7"/>
<circle class="o" cx="176.4" cy="523" r="3.7"/>
<circle class="o" cx="179.8" cy="458.5" r="3.7"/>
<circle class="o" cx="212.6" cy="484.8" r="3.7"/>
<circle class="o" cx="185.9" cy="561.5" r="3.7"/>
<circle class="o" cx="118.7" cy="490.2" r="3.7"/>
<circle class="o" cx="183.8" cy="555.5" r="3.7"/>
<circle class="o" cx="195.8" cy="529.9" r="3.7"/>
<circle class="o" cx="115.7" cy="562.2" r="3.7"/>
<circle class="o" cx="136.6" cy="455.2" r="3.7"/>
<circle class="o" cx="189.5" cy="511.3" r="3.7"/>
<circle class="o" cx="130.5" cy="417" r="3.7"/>
<circle class="o" cx="403.9" cy="439.6" r="3.7"/>
<circle class="o" cx="230.4" cy="479.5" r="3.7"/>
<circle class="o" cx="185.7" cy="577.1" r="3.7"/>
<circle class="o" cx="121.7" cy="532.7" r="3.7"/>
<circle class="o" cx="187.5" cy="471.5" r="3.7"/>
<circle class="o" cx="151.4" cy="433.7" r="3.7"/>
<circle class="o" cx="192.6" cy="528.6" r="3.7"/>
<circle class="o" cx="115.5" cy="521.5" r="3.7"/>
<circle class="o" cx="131" cy="421.1" r="3.7"/>
<circle class="o" cx="159.8" cy="441.7" r="3.7"/>
<circle class="o" cx="148.6" cy="425.9" r="3.7"/>
<circle class="o" cx="162.6" cy="470.1" r="3.7"/>
<circle class="o" cx="169.6" cy="466.3" r="3.7"/>
<circle class="o" cx="141.3" cy="457.1" r="3.7"/>
<circle class="o" cx="147.4" cy="452.9" r="3.7"/>
<circle class="o" cx="116.4" cy="474.8" r="3.7"/>
<circle class="o" cx="187.2" cy="415.9" r="3.7"/>
<circle class="r" cx="180.5" cy="514" r="3.7"/>
<circle class="r" cx="123.5" cy="462.1" r="3.7"/>
<circle class="o" cx="156.7" cy="418.4" r="3.7"/>
<circle class="o" cx="117" cy="527.2" r="3.7"/>
<circle class="o" cx="162.5" cy="436.9" r="3.7"/>
<circle class="o" cx="173.4" cy="562.5" r="3.7"/>
<circle class="o" cx="142.2" cy="426.5" r="3.7"/>
<circle class="o" cx="157.8" cy="476.5" r="3.7"/>
<circle class="o" cx="177.5" cy="415.9" r="3.7"/>
<circle class="o" cx="154.9" cy="485.3" r="3.7"/>
<circle class="o" cx="125" cy="435.8" r="3.7"/>
<circle class="o" cx="123.3" cy="506.7" r="3.7"/>
<circle class="o" cx="175.8" cy="569.9" r="3.7"/>
<circle class="r" cx="159.5" cy="461.8" r="3.7"/>
<circle class="r" cx="164.5" cy="479" r="3.7"/>
<circle class="r" cx="140.6" cy="440.2" r="3.7"/>
<circle class="o" cx="153" cy="456.9" r="3.7"/>
<circle class="o" cx="204.2" cy="504" r="3.7"/>
<circle class="o" cx="173.2" cy="511.2" r="3.7"/>
<circle class="o" cx="172.9" cy="541.4" r="3.7"/>
<circle class="o" cx="198" cy="463.8" r="3.7"/>
<circle class="o" cx="121.3" cy="535.4" r="3.7"/>
<circle class="o" cx="128.7" cy="428.5" r="3.7"/>
<circle class="o" cx="166.1" cy="438.4" r="3.7"/>
<circle class="o" cx="138.5" cy="460.8" r="3.7"/>
<circle class="o" cx="162.4" cy="497.3" r="3.7"/>
<circle class="o" cx="186.1" cy="511.6" r="3.7"/>
<circle class="o" cx="162" cy="484.6" r="3.7"/>
<circle class="o" cx="207.4" cy="417" r="3.7"/>
<circle class="o" cx="150.4" cy="466.8" r="3.7"/>
<circle class="o" cx="149.8" cy="461" r="3.7"/>
<circle class="o" cx="127.7" cy="416.2" r="3.7"/>
<circle class="o" cx="161.6" cy="524.7" r="3.7"/>
<circle class="r" cx="175.7" cy="580.3" r="3.7"/>
<circle class="r" cx="171.6" cy="538.6" r="3.7"/>
<circle class="r" cx="175.7" cy="444.3" r="3.7"/>
<circle class="r" cx="121.5" cy="547.6" r="3.7"/>
<circle class="o" cx="380.3" cy="564.2" r="3.7"/>
<circle class="o" cx="186.9" cy="473.1" r="3.7"/>
<circle class="o" cx="134.7" cy="416.8" r="3.7"/>
<circle class="o" cx="183.3" cy="514.8" r="3.7"/>
<circle class="o" cx="115.4" cy="463.5" r="3.7"/>
<circle class="o" cx="209.5" cy="524.6" r="3.7"/>
<circle class="r" cx="136.8" cy="450.8" r="3.7"/>
<circle class="r" cx="118.1" cy="537.5" r="3.7"/>
<circle class="r" cx="167.5" cy="453.8" r="3.7"/>
<circle class="r" cx="177.5" cy="518.8" r="3.7"/>
<circle class="r" cx="153.2" cy="415.9" r="3.7"/>
<circle class="r" cx="149.2" cy="417" r="3.7"/>
<circle class="r" cx="124.9" cy="435.3" r="3.7"/>
<circle class="r" cx="160.4" cy="443.3" r="3.7"/>
<circle class="o" cx="122.3" cy="447.2" r="3.7"/>
<circle class="o" cx="179.1" cy="507.2" r="3.7"/>
<circle class="o" cx="131.3" cy="431.7" r="3.7"/>
<circle class="o" cx="187.6" cy="490" r="3.7"/>
<circle class="o" cx="124.2" cy="491.4" r="3.7"/>
<circle class="o" cx="138.7" cy="425.7" r="3.7"/>
<circle class="o" cx="122.9" cy="492.9" r="3.7"/>
<circle class="o" cx="147.1" cy="468.3" r="3.7"/>
<circle class="o" cx="213.3" cy="461.7" r="3.7"/>
<circle class="o" cx="117.8" cy="554.1" r="3.7"/>
<circle class="o" cx="164.7" cy="486.4" r="3.7"/>
<circle class="o" cx="140.8" cy="425.6" r="3.7"/>
<circle class="o" cx="122.9" cy="531.6" r="3.7"/>
<circle class="o" cx="149.5" cy="415.9" r="3.7"/>
<circle class="o" cx="177.8" cy="553.9" r="3.7"/>
<circle class="o" cx="166.8" cy="505.3" r="3.7"/>
<circle class="o" cx="183.9" cy="476.8" r="3.7"/>
<circle class="o" cx="169.5" cy="447.4" r="3.7"/>
<circle class="o" cx="165.8" cy="445.8" r="3.7"/>
<circle class="o" cx="121.6" cy="488.3" r="3.7"/>
<circle class="o" cx="136.3" cy="423.6" r="3.7"/>
<circle class="o" cx="156.8" cy="415.9" r="3.7"/>
<circle class="o" cx="151.3" cy="434.9" r="3.7"/>
<circle class="o" cx="188.7" cy="527.7" r="3.7"/>
<circle class="o" cx="129.1" cy="437.7" r="3.7"/>
<circle class="o" cx="164.1" cy="415.9" r="3.7"/>
<circle class="o" cx="167.2" cy="415.9" r="3.7"/>
<circle class="o" cx="150.5" cy="439.6" r="3.7"/>
<circle class="o" cx="194.9" cy="481.9" r="3.7"/>
<circle class="o" cx="191.8" cy="535.6" r="3.7"/>
<circle class="o" cx="182.2" cy="498.5" r="3.7"/>
<circle class="o" cx="157.9" cy="453" r="3.7"/>
<circle class="o" cx="116.5" cy="488.6" r="3.7"/>
<circle class="o" cx="116.7" cy="495.5" r="3.7"/>
<circle class="o" cx="115.3" cy="415.9" r="3.7"/>
<circle class="o" cx="167.6" cy="510.8" r="3.7"/>
<circle class="o" cx="174.3" cy="553.3" r="3.7"/>
<circle class="o" cx="159.1" cy="496.9" r="3.7"/>
<circle class="o" cx="189" cy="507.6" r="3.7"/>
<circle class="o" cx="129.5" cy="425.3" r="3.7"/>
<circle class="o" cx="123.3" cy="453.4" r="3.7"/>
<circle class="o" cx="160.7" cy="415.9" r="3.7"/>
<circle class="o" cx="190.8" cy="603.4" r="3.7"/>
<circle class="o" cx="181.2" cy="501.3" r="3.7"/>
<circle class="o" cx="214.2" cy="516.3" r="3.7"/>
<circle class="o" cx="116.8" cy="526.8" r="3.7"/>
<circle class="o" cx="141" cy="450" r="3.7"/>
<circle class="o" cx="176.1" cy="548.1" r="3.7"/>
<circle class="o" cx="224.2" cy="563.3" r="3.7"/>
<circle class="o" cx="186" cy="463.8" r="3.7"/>
<circle class="o" cx="133.9" cy="430.2" r="3.7"/>
<circle class="o" cx="122.9" cy="496.7" r="3.7"/>
<circle class="o" cx="171.2" cy="438.4" r="3.7"/>
<circle class="o" cx="164.5" cy="453.2" r="3.7"/>
<circle class="o" cx="256.4" cy="585.7" r="3.7"/>
<circle class="o" cx="168.3" cy="522.9" r="3.7"/>
<circle class="o" cx="145.6" cy="461.2" r="3.7"/>
<circle class="o" cx="123.2" cy="533.9" r="3.7"/>
<circle class="o" cx="147.7" cy="415.9" r="3.7"/>
<circle class="o" cx="192.4" cy="514.3" r="3.7"/>
<circle class="o" cx="167.8" cy="502.6" r="3.7"/>
<circle class="o" cx="123.6" cy="455.2" r="3.7"/>
<circle class="o" cx="180.5" cy="520.6" r="3.7"/>
<circle class="o" cx="188.7" cy="578.8" r="3.7"/>
<circle class="o" cx="170.3" cy="536.2" r="3.7"/>
<circle class="o" cx="120.7" cy="479.4" r="3.7"/>
<circle class="o" cx="167" cy="535" r="3.7"/>
<circle class="o" cx="125.9" cy="449.5" r="3.7"/>
<circle class="o" cx="140.8" cy="455.6" r="3.7"/>
<circle class="o" cx="125.8" cy="454.1" r="3.7"/>
<circle class="o" cx="128.9" cy="449.6" r="3.7"/>
<circle class="o" cx="121.9" cy="449.2" r="3.7"/>
<circle class="o" cx="116.3" cy="596.5" r="3.7"/>
<circle class="o" cx="127.8" cy="441.5" r="3.7"/>
<circle class="o" cx="141.7" cy="465.5" r="3.7"/>
<circle class="o" cx="178.4" cy="568.6" r="3.7"/>
<circle class="o" cx="185" cy="567.1" r="3.7"/>
<circle class="o" cx="170.6" cy="452.3" r="3.7"/>
<circle class="r" cx="116.9" cy="502.5" r="3.7"/>
<circle class="r" cx="121.5" cy="529.4" r="3.7"/>
<circle class="o" cx="167.7" cy="496" r="3.7"/>
<circle class="o" cx="222.4" cy="508.4" r="3.7"/>
<circle class="o" cx="154.3" cy="484.6" r="3.7"/>
<circle class="r" cx="125.5" cy="491.7" r="3.7"/>
<circle class="r" cx="150.4" cy="479.7" r="3.7"/>
<circle class="r" cx="150.1" cy="476" r="3.7"/>
<circle class="r" cx="166.5" cy="434.2" r="3.7"/>
<circle class="o" cx="151.9" cy="415.9" r="3.7"/>
<circle class="o" cx="157.4" cy="417.9" r="3.7"/>
<circle class="o" cx="116.3" cy="608.1" r="3.7"/>
<circle class="o" cx="123.7" cy="431.2" r="3.7"/>
<circle class="o" cx="121.7" cy="431.3" r="3.7"/>
<circle class="o" cx="161.1" cy="415.9" r="3.7"/>
<circle class="o" cx="115.6" cy="581.8" r="3.7"/>
<circle class="o" cx="165.6" cy="512.8" r="3.7"/>
<circle class="o" cx="371.8" cy="593.4" r="3.7"/>
<circle class="o" cx="154.3" cy="481" r="3.7"/>
<circle class="o" cx="179.7" cy="465.9" r="3.7"/>
<circle class="o" cx="121.5" cy="507.2" r="3.7"/>
<circle class="o" cx="156.7" cy="476.9" r="3.7"/>
<circle class="o" cx="199.1" cy="560.5" r="3.7"/>
<circle class="o" cx="152.8" cy="460.3" r="3.7"/>
<circle class="o" cx="162.7" cy="519.1" r="3.7"/>
<circle class="o" cx="184.2" cy="495.5" r="3.7"/>
<circle class="o" cx="138.2" cy="439.6" r="3.7"/>
<circle class="o" cx="166.1" cy="535.9" r="3.7"/>
<circle class="o" cx="180.5" cy="437.5" r="3.7"/>
<circle class="o" cx="190.8" cy="515.9" r="3.7"/>
<circle class="o" cx="164.2" cy="512" r="3.7"/>
<circle class="o" cx="128.8" cy="457.7" r="3.7"/>
<circle class="o" cx="168.6" cy="523.6" r="3.7"/>
<circle class="o" cx="217.4" cy="420.1" r="3.7"/>
<circle class="o" cx="207.4" cy="538.1" r="3.7"/>
<circle class="o" cx="130.6" cy="425.6" r="3.7"/>
<circle class="o" cx="142.7" cy="435.2" r="3.7"/>
<circle class="o" cx="176" cy="602.1" r="3.7"/>
<circle class="o" cx="118.9" cy="492.3" r="3.7"/>
<circle class="o" cx="184.7" cy="516.6" r="3.7"/>
<circle class="o" cx="118.5" cy="507.6" r="3.7"/>
<circle class="o" cx="217" cy="498.5" r="3.7"/>
<circle class="o" cx="171.3" cy="497.7" r="3.7"/>
<circle class="o" cx="120.1" cy="415.9" r="3.7"/>
<circle class="o" cx="126.2" cy="463.8" r="3.7"/>
<circle class="r" cx="163.6" cy="515.5" r="3.7"/>
<circle class="r" cx="140.5" cy="433.9" r="3.7"/>
<circle class="o" cx="198.9" cy="490.2" r="3.7"/>
<circle class="o" cx="197.6" cy="575.3" r="3.7"/>
<circle class="o" cx="160.8" cy="463.1" r="3.7"/>
<circle class="o" cx="190" cy="526.5" r="3.7"/>
<circle class="o" cx="203.6" cy="598.9" r="3.7"/>
<circle class="o" cx="180.6" cy="519.1" r="3.7"/>
<circle class="o" cx="118.1" cy="468" r="3.7"/>
<circle class="o" cx="425.7" cy="556" r="3.7"/>
<circle class="o" cx="260.6" cy="429.3" r="3.7"/>
<circle class="o" cx="118.7" cy="489.2" r="3.7"/>
<circle class="o" cx="157.5" cy="446.8" r="3.7"/>
<circle class="o" cx="122" cy="504.2" r="3.7"/>
<circle class="o" cx="142.6" cy="424.9" r="3.7"/>
<circle class="o" cx="122.4" cy="510.3" r="3.7"/>
<circle class="o" cx="172.9" cy="538.1" r="3.7"/>
<circle class="o" cx="142.6" cy="454" r="3.7"/>
<circle class="o" cx="168.6" cy="470.5" r="3.7"/>
<circle class="o" cx="116.5" cy="539.8" r="3.7"/>
<circle class="o" cx="178.8" cy="552.2" r="3.7"/>
<circle class="o" cx="167.4" cy="513.4" r="3.7"/>
<circle class="r" cx="167.5" cy="543.8" r="3.7"/>
<circle class="r" cx="119.8" cy="529.1" r="3.7"/>
<circle class="r" cx="155.3" cy="415.9" r="3.7"/>
<circle class="r" cx="170.4" cy="521.4" r="3.7"/>
<circle class="r" cx="173.1" cy="546.3" r="3.7"/>
<circle class="r" cx="169.8" cy="459.5" r="3.7"/>
<circle class="o" cx="121.6" cy="566.9" r="3.7"/>
<circle class="o" cx="169.6" cy="471.2" r="3.7"/>
<circle class="o" cx="125.6" cy="468.3" r="3.7"/>
<circle class="o" cx="182.1" cy="579.2" r="3.7"/>
<circle class="o" cx="138.5" cy="437.2" r="3.7"/>
<circle class="o" cx="204.1" cy="544.6" r="3.7"/>
<circle class="o" cx="133.7" cy="451.8" r="3.7"/>
<circle class="o" cx="155.1" cy="479.8" r="3.7"/>
<circle class="o" cx="151.2" cy="415.9" r="3.7"/>
<circle class="o" cx="122.6" cy="470.7" r="3.7"/>
<circle class="o" cx="189.6" cy="526.9" r="3.7"/>
<circle class="o" cx="201.6" cy="534.3" r="3.7"/>
<circle class="o" cx="227.7" cy="567.6" r="3.7"/>
<circle class="o" cx="170.6" cy="536.6" r="3.7"/>
<circle class="o" cx="150.7" cy="458.4" r="3.7"/>
<circle class="o" cx="267.6" cy="508.6" r="3.7"/>
<circle class="o" cx="140.6" cy="419.2" r="3.7"/>
<circle class="o" cx="186.6" cy="531.7" r="3.7"/>
<circle class="o" cx="116.5" cy="621.5" r="3.7"/>
<circle class="o" cx="150.3" cy="475.6" r="3.7"/>
<circle class="g" cx="183.6" cy="582.1" r="3.7"/>
<circle class="g" cx="171.6" cy="527.2" r="3.7"/>
<circle class="g" cx="176.6" cy="565.2" r="3.7"/>
<circle class="g" cx="168.3" cy="526.2" r="3.7"/>
<circle class="g" cx="188.1" cy="571.2" r="3.7"/>
<circle class="g" cx="163.1" cy="528.1" r="3.7"/>
<circle class="g" cx="117" cy="629.2" r="3.7"/>
<circle class="g" cx="178.9" cy="574.9" r="3.7"/>
<circle class="g" cx="181.7" cy="593.9" r="3.7"/>
<circle class="g" cx="161.2" cy="529.3" r="3.7"/>
<circle class="g" cx="117.6" cy="586.9" r="3.7"/>
<circle class="g" cx="194.1" cy="563" r="3.7"/>
<circle class="g" cx="219.2" cy="557.2" r="3.7"/>
<circle class="g" cx="169.1" cy="537.5" r="3.7"/>
<circle class="g" cx="197.5" cy="543" r="3.7"/>
<circle class="g" cx="264.8" cy="493.2" r="3.7"/>
<circle class="g" cx="255.6" cy="598.7" r="3.7"/>
<circle class="g" cx="190" cy="554" r="3.7"/>
<circle class="g" cx="275.3" cy="574.3" r="3.7"/>
<circle class="g" cx="280" cy="611.3" r="3.7"/>
<circle class="g" cx="184.2" cy="582.8" r="3.7"/>
<circle class="g" cx="194.9" cy="438.3" r="3.7"/>
<circle class="g" cx="149.2" cy="436.2" r="3.7"/>
<circle class="g" cx="174.8" cy="556.9" r="3.7"/>
<circle class="g" cx="116" cy="614.8" r="3.7"/>
<circle class="g" cx="294.7" cy="564.2" r="3.7"/>
<circle class="g" cx="191" cy="538.4" r="3.7"/>
<circle class="g" cx="193.4" cy="501.1" r="3.7"/>
<circle class="g" cx="166.8" cy="600.6" r="3.7"/>
<circle class="g" cx="147.8" cy="471.4" r="3.7"/>
<circle class="g" cx="174.7" cy="566.3" r="3.7"/>
<circle class="g" cx="149.5" cy="631.5" r="3.7"/>
<circle class="g" cx="242.7" cy="600.6" r="3.7"/>
<circle class="g" cx="115.6" cy="628.2" r="3.7"/>
<circle class="g" cx="202.9" cy="502.9" r="3.7"/>
<circle class="g" cx="185.5" cy="573.1" r="3.7"/>
<circle class="g" cx="221.1" cy="625.9" r="3.7"/>
<circle class="g" cx="211" cy="595.9" r="3.7"/>
<circle class="g" cx="117" cy="636.6" r="3.7"/>
<circle class="g" cx="172.4" cy="568.9" r="3.7"/>
<circle class="g" cx="159.5" cy="622.3" r="3.7"/>
<circle class="g" cx="184" cy="584.5" r="3.7"/>
<circle class="g" cx="289" cy="555.2" r="3.7"/>
<circle class="g" cx="201.3" cy="569.6" r="3.7"/>
<circle class="g" cx="221.6" cy="572.2" r="3.7"/>
<circle class="g" cx="117.6" cy="632.9" r="3.7"/>
<circle class="g" cx="226.3" cy="557" r="3.7"/>
<circle class="g" cx="294.4" cy="570.6" r="3.7"/>
<circle class="g" cx="166.3" cy="602.2" r="3.7"/>
<circle class="g" cx="152.4" cy="623.6" r="3.7"/>
<circle class="g" cx="205.9" cy="564.8" r="3.7"/>
<circle class="g" cx="162.5" cy="508.8" r="3.7"/>
<circle class="g" cx="247.7" cy="587.5" r="3.7"/>
<circle class="g" cx="171.1" cy="512.4" r="3.7"/>
<circle class="g" cx="156.9" cy="617.6" r="3.7"/>
<circle class="g" cx="118.5" cy="555.9" r="3.7"/>
<circle class="g" cx="169.2" cy="605.9" r="3.7"/>
<circle class="g" cx="229.8" cy="554" r="3.7"/>
<circle class="g" cx="161.4" cy="525.4" r="3.7"/>
<circle class="g" cx="147.7" cy="639.3" r="3.7"/>
<circle class="g" cx="116.9" cy="633" r="3.7"/>
<circle class="g" cx="261.4" cy="551" r="3.7"/>
<circle class="g" cx="165.4" cy="512" r="3.7"/>
<circle class="g" cx="121.4" cy="499.7" r="3.7"/>
<circle class="g" cx="115.4" cy="596.4" r="3.7"/>
<circle class="g" cx="182.4" cy="463.6" r="3.7"/>
<circle class="g" cx="165.1" cy="530.1" r="3.7"/>
<circle class="g" cx="180.5" cy="581.8" r="3.7"/>
<circle class="g" cx="162.3" cy="608" r="3.7"/>
<circle class="g" cx="180.2" cy="559" r="3.7"/>
<circle class="g" cx="264.6" cy="584.3" r="3.7"/>
<circle class="g" cx="173.5" cy="567.4" r="3.7"/>
<circle class="g" cx="214.4" cy="561.4" r="3.7"/>
<circle class="g" cx="185" cy="526.3" r="3.7"/>
<circle class="g" cx="174.8" cy="561.9" r="3.7"/>
<circle class="g" cx="323" cy="591.7" r="3.7"/>
<circle class="g" cx="171.6" cy="603.8" r="3.7"/>
<circle class="g" cx="177.3" cy="582.4" r="3.7"/>
<circle class="g" cx="165.6" cy="580.8" r="3.7"/>
<circle class="g" cx="180.2" cy="472.3" r="3.7"/>
<circle class="g" cx="171.6" cy="576.8" r="3.7"/>
<circle class="g" cx="172.4" cy="579.9" r="3.7"/>
<circle class="g" cx="185.1" cy="586.7" r="3.7"/>
<circle class="g" cx="172.1" cy="567.2" r="3.7"/>
<circle class="g" cx="180" cy="572.3" r="3.7"/>
<circle class="g" cx="184.9" cy="586.3" r="3.7"/>
<circle class="g" cx="172.2" cy="460.5" r="3.7"/>
<circle class="g" cx="201.5" cy="574.3" r="3.7"/>
<circle class="g" cx="164" cy="578.9" r="3.7"/>
<circle class="g" cx="207.2" cy="565.9" r="3.7"/>
<circle class="g" cx="165.6" cy="579.2" r="3.7"/>
<circle class="g" cx="153.4" cy="622.7" r="3.7"/>
<circle class="g" cx="172.9" cy="597.9" r="3.7"/>
<circle class="g" cx="181.8" cy="562.1" r="3.7"/>
<circle class="g" cx="243.9" cy="616.8" r="3.7"/>
<circle class="g" cx="295.8" cy="488.9" r="3.7"/>
<circle class="g" cx="205.6" cy="533" r="3.7"/>
<circle class="g" cx="174.8" cy="579.8" r="3.7"/>
<circle class="g" cx="116.3" cy="578.6" r="3.7"/>
<circle class="g" cx="169" cy="615.7" r="3.7"/>
<circle class="g" cx="115.7" cy="591.3" r="3.7"/>
<circle class="g" cx="189.6" cy="578" r="3.7"/>
<circle class="g" cx="149" cy="447" r="3.7"/>
<circle class="g" cx="213.8" cy="576.8" r="3.7"/>
<circle class="g" cx="116.6" cy="591.3" r="3.7"/>
<circle class="g" cx="116.2" cy="623.9" r="3.7"/>
<circle class="g" cx="170" cy="567.8" r="3.7"/>
<circle class="g" cx="168.3" cy="544.9" r="3.7"/>
<circle class="g" cx="141.3" cy="641.6" r="3.7"/>
<circle class="g" cx="176" cy="562.5" r="3.7"/>
<circle class="g" cx="280.8" cy="602.4" r="3.7"/>
<circle class="g" cx="229" cy="565.9" r="3.7"/>
<circle class="g" cx="116" cy="599.2" r="3.7"/>
<circle class="g" cx="116" cy="584" r="3.7"/>
<circle class="g" cx="117" cy="613.2" r="3.7"/>
<circle class="g" cx="193.3" cy="587.8" r="3.7"/>
<circle class="g" cx="169.2" cy="569.2" r="3.7"/>
<circle class="g" cx="203.5" cy="507.5" r="3.7"/>
<circle class="g" cx="220" cy="593.4" r="3.7"/>
<circle class="g" cx="121.3" cy="582.6" r="3.7"/>
<circle class="g" cx="229.3" cy="567.1" r="3.7"/>
<circle class="g" cx="117.5" cy="575.6" r="3.7"/>
<circle class="g" cx="176.9" cy="601.6" r="3.7"/>
<circle class="g" cx="173.3" cy="571.8" r="3.7"/>
<circle class="g" cx="117.7" cy="639.3" r="3.7"/>
<circle class="g" cx="152.3" cy="623.3" r="3.7"/>
<circle class="g" cx="117.3" cy="632.6" r="3.7"/>
<circle class="g" cx="175.9" cy="545.5" r="3.7"/>
<circle class="g" cx="265.1" cy="539.8" r="3.7"/>
<circle class="g" cx="182.9" cy="558" r="3.7"/>
<circle class="g" cx="116.8" cy="632.7" r="3.7"/>
<circle class="g" cx="147.3" cy="636.2" r="3.7"/>
<circle class="g" cx="167.8" cy="579.9" r="3.7"/>
<circle class="g" cx="189.3" cy="531.1" r="3.7"/>
<circle class="g" cx="179" cy="590.7" r="3.7"/>
<circle class="g" cx="182.6" cy="589.9" r="3.7"/>
<circle class="g" cx="167.9" cy="598" r="3.7"/>
<circle class="g" cx="202.2" cy="574" r="3.7"/>
<circle class="g" cx="115.5" cy="622.7" r="3.7"/>
<circle class="g" cx="161.3" cy="613" r="3.7"/>
<circle class="g" cx="178" cy="603" r="3.7"/>
<circle class="g" cx="175.2" cy="604.6" r="3.7"/>
<circle class="g" cx="170.1" cy="608.8" r="3.7"/>
<circle class="g" cx="196.7" cy="575.8" r="3.7"/>
<circle class="g" cx="171.3" cy="596.2" r="3.7"/>
<circle class="g" cx="260.6" cy="544.1" r="3.7"/>
<circle class="g" cx="181.4" cy="574.6" r="3.7"/>
<circle class="g" cx="167.9" cy="579.4" r="3.7"/>
<circle class="g" cx="197.5" cy="508.9" r="3.7"/>
<circle class="g" cx="159.1" cy="519.4" r="3.7"/>
<circle class="g" cx="171.9" cy="584.4" r="3.7"/>
<circle class="g" cx="116.4" cy="639.7" r="3.7"/>
<circle class="g" cx="121.8" cy="581.3" r="3.7"/>
<circle class="g" cx="209.4" cy="575.3" r="3.7"/>
<circle class="g" cx="179" cy="611.6" r="3.7"/>
<circle class="g" cx="177.3" cy="608.8" r="3.7"/>
<circle class="g" cx="158.3" cy="529.9" r="3.7"/>
<circle class="g" cx="115.7" cy="610" r="3.7"/>
<circle class="g" cx="116.7" cy="598.1" r="3.7"/>
<circle class="g" cx="161.1" cy="631.1" r="3.7"/>
<circle class="g" cx="154.3" cy="627.2" r="3.7"/>
<circle class="g" cx="117.1" cy="598.3" r="3.7"/>
<circle class="g" cx="174.8" cy="600.8" r="3.7"/>
<circle class="g" cx="165.7" cy="601.6" r="3.7"/>
<circle class="g" cx="185.3" cy="571.7" r="3.7"/>
<circle class="g" cx="329.3" cy="595.4" r="3.7"/>
<circle class="g" cx="191" cy="590.2" r="3.7"/>
<circle class="g" cx="194.4" cy="595.4" r="3.7"/>
<circle class="g" cx="193.3" cy="580.3" r="3.7"/>
<circle class="g" cx="212.2" cy="535.7" r="3.7"/>
<circle class="g" cx="198" cy="594.7" r="3.7"/>
<circle class="g" cx="117.5" cy="629.2" r="3.7"/>
<circle class="g" cx="172.6" cy="605.4" r="3.7"/>
<circle class="g" cx="117.1" cy="558" r="3.7"/>
<circle class="g" cx="177.6" cy="586.1" r="3.7"/>
<circle class="g" cx="185.4" cy="558.6" r="3.7"/>
<circle class="g" cx="145.7" cy="451.7" r="3.7"/>
<circle class="g" cx="194.8" cy="542.3" r="3.7"/>
<circle class="g" cx="198.6" cy="586.4" r="3.7"/>
<circle class="g" cx="308.6" cy="594.2" r="3.7"/>
<circle class="g" cx="225.8" cy="618.5" r="3.7"/>
<circle class="g" cx="176.2" cy="549.6" r="3.7"/>
<circle class="g" cx="203.8" cy="569.9" r="3.7"/>
<circle class="g" cx="170.5" cy="595.8" r="3.7"/>
<circle class="g" cx="117.4" cy="618.3" r="3.7"/>
<circle class="g" cx="115.5" cy="610.7" r="3.7"/>
<circle class="g" cx="115.6" cy="625.9" r="3.7"/>
<circle class="g" cx="276.3" cy="539.6" r="3.7"/>
<circle class="g" cx="240.2" cy="553.2" r="3.7"/>
<circle class="g" cx="179.9" cy="602" r="3.7"/>
<circle class="g" cx="151.9" cy="629.4" r="3.7"/>
<circle class="g" cx="253.1" cy="507.4" r="3.7"/>
<circle class="g" cx="181.8" cy="587.9" r="3.7"/>
<circle class="g" cx="118.6" cy="615.6" r="3.7"/>
<circle class="g" cx="178.3" cy="560.3" r="3.7"/>
<circle class="g" cx="171.5" cy="595.3" r="3.7"/>
<circle class="g" cx="189.9" cy="589.1" r="3.7"/>
<circle class="g" cx="168.4" cy="572.4" r="3.7"/>
<circle class="g" cx="165.2" cy="584.6" r="3.7"/>
<circle class="g" cx="186.7" cy="546.2" r="3.7"/>
<circle class="g" cx="118.5" cy="637.3" r="3.7"/>
<circle class="g" cx="191.2" cy="617.2" r="3.7"/>
<circle class="g" cx="119.3" cy="642.1" r="3.7"/>
<circle class="g" cx="119.7" cy="566.4" r="3.7"/>
<circle class="g" cx="255.1" cy="610.3" r="3.7"/>
<circle class="g" cx="177.4" cy="585.6" r="3.7"/>
<circle class="g" cx="116.8" cy="636.9" r="3.7"/>
<circle class="g" cx="134.5" cy="641.8" r="3.7"/>
<circle class="g" cx="171.4" cy="587.7" r="3.7"/>
<circle class="g" cx="120.7" cy="635" r="3.7"/>
<circle class="g" cx="122.9" cy="633" r="3.7"/>
<circle class="g" cx="171.1" cy="566.2" r="3.7"/>
<circle class="g" cx="192.3" cy="569.7" r="3.7"/>
<circle class="g" cx="186.2" cy="589.2" r="3.7"/>
<circle class="g" cx="117.6" cy="624.5" r="3.7"/>
<circle class="g" cx="117.2" cy="612.6" r="3.7"/>
<circle class="g" cx="117.9" cy="615.4" r="3.7"/>
<circle class="g" cx="165.7" cy="600.1" r="3.7"/>
<circle class="g" cx="165.7" cy="583.3" r="3.7"/>
<circle class="g" cx="198.2" cy="575.3" r="3.7"/>
<circle class="g" cx="186.3" cy="575.1" r="3.7"/>
<circle class="g" cx="115.5" cy="609.1" r="3.7"/>
<circle class="g" cx="200" cy="600.9" r="3.7"/>
<circle class="g" cx="118.9" cy="619.6" r="3.7"/>
<circle class="g" cx="115.8" cy="605.5" r="3.7"/>
<circle class="g" cx="165.8" cy="605.3" r="3.7"/>
<circle class="g" cx="183.2" cy="585.1" r="3.7"/>
<circle class="g" cx="119.1" cy="596.2" r="3.7"/>
<circle class="g" cx="202.1" cy="585.8" r="3.7"/>
<circle class="g" cx="186.3" cy="597.2" r="3.7"/>
<circle class="g" cx="172.8" cy="584.6" r="3.7"/>
<circle class="g" cx="218.5" cy="571.8" r="3.7"/>
<circle class="g" cx="284" cy="599.4" r="3.7"/>
<circle class="g" cx="184.8" cy="587.6" r="3.7"/>
<circle class="g" cx="193.3" cy="592.3" r="3.7"/>
<circle class="g" cx="118.2" cy="621.3" r="3.7"/>
<circle class="g" cx="200.5" cy="582.8" r="3.7"/>
<circle class="g" cx="173.1" cy="582.6" r="3.7"/>
<circle class="g" cx="162.8" cy="517.7" r="3.7"/>
<circle class="g" cx="115.6" cy="585.1" r="3.7"/>
<circle class="g" cx="162.5" cy="545.7" r="3.7"/>
<circle class="g" cx="194.8" cy="566.2" r="3.7"/>
<circle class="g" cx="182" cy="580.6" r="3.7"/>
<circle class="g" cx="174.7" cy="537.9" r="3.7"/>
<circle class="g" cx="168.7" cy="556.1" r="3.7"/>
<circle class="g" cx="167.9" cy="589.8" r="3.7"/>
<circle class="g" cx="165.1" cy="441.6" r="3.7"/>
<circle class="g" cx="215.4" cy="552.7" r="3.7"/>
<circle class="g" cx="171.3" cy="572.2" r="3.7"/>
<circle class="g" cx="117" cy="586.5" r="3.7"/>
<circle class="g" cx="180.7" cy="542.4" r="3.7"/>
<circle class="g" cx="190.2" cy="584.4" r="3.7"/>
<circle class="g" cx="117.2" cy="542.8" r="3.7"/>
<circle class="g" cx="121.9" cy="634.1" r="3.7"/>
<circle class="g" cx="164.7" cy="523.9" r="3.7"/>
<circle class="g" cx="172.7" cy="588.6" r="3.7"/>
<circle class="g" cx="241.5" cy="585" r="3.7"/>
<circle class="g" cx="118.6" cy="629.8" r="3.7"/>
<circle class="g" cx="182.9" cy="586.7" r="3.7"/>
<circle class="g" cx="116.2" cy="592.7" r="3.7"/>
<circle class="r" cx="132.8" cy="424.2" r="3.7"/>
<circle class="r" cx="117.2" cy="555.9" r="3.7"/>
<circle class="r" cx="153.2" cy="619.4" r="3.7"/>
<circle class="r" cx="123.4" cy="483" r="3.7"/>
<circle class="r" cx="164.8" cy="421.9" r="3.7"/>
<circle class="r" cx="151.8" cy="474" r="3.7"/>
<circle class="r" cx="162.5" cy="613.3" r="3.7"/>
<circle class="r" cx="117.8" cy="590.6" r="3.7"/>
<circle class="r" cx="181.5" cy="584" r="3.7"/>
<circle class="r" cx="202.1" cy="520.1" r="3.7"/>
<circle class="r" cx="200.6" cy="581.4" r="3.7"/>
<circle class="r" cx="145.9" cy="444.5" r="3.7"/>
<circle class="r" cx="161.5" cy="490.8" r="3.7"/>
<circle class="r" cx="167.9" cy="563.6" r="3.7"/>
<circle class="r" cx="329" cy="554.5" r="3.7"/>
<circle class="o" cx="167.8" cy="610.8" r="3.7"/>
<circle class="o" cx="228.5" cy="606.9" r="3.7"/>
<circle class="g" cx="218.4" cy="616.1" r="3.7"/>
<circle class="o" cx="121.4" cy="508.3" r="3.7"/>
<circle class="r" cx="138.7" cy="456.3" r="3.7"/>
<circle class="r" cx="123.1" cy="505.1" r="3.7"/>
<circle class="r" cx="124.5" cy="429.5" r="3.7"/>
<circle class="r" cx="164.9" cy="584.5" r="3.7"/>
<circle class="r" cx="171" cy="464.9" r="3.7"/>
<circle class="r" cx="173.8" cy="521.7" r="3.7"/>
<circle class="r" cx="165.4" cy="565" r="3.7"/>
<circle class="r" cx="159.5" cy="620.9" r="3.7"/>
<circle class="r" cx="180.6" cy="566.2" r="3.7"/>
<circle class="r" cx="153.6" cy="415.9" r="3.7"/>
<circle class="r" cx="121.9" cy="554.4" r="3.7"/>
<circle class="r" cx="162.6" cy="573.5" r="3.7"/>
<circle class="o" cx="115.3" cy="540.1" r="3.7"/>
<circle class="o" cx="167" cy="505.6" r="3.7"/>
<circle class="o" cx="183.2" cy="512.1" r="3.7"/>
<circle class="r" cx="173.7" cy="533.9" r="3.7"/>
<circle class="r" cx="183.5" cy="531.4" r="3.7"/>
<circle class="r" cx="152.8" cy="415.9" r="3.7"/>
<circle class="r" cx="205.6" cy="559" r="3.7"/>
<circle class="r" cx="178.5" cy="582.5" r="3.7"/>
<circle class="r" cx="193.3" cy="593.7" r="3.7"/>
<circle class="r" cx="177.3" cy="589.9" r="3.7"/>
<circle class="r" cx="300" cy="501.9" r="3.7"/>
<circle class="r" cx="166.7" cy="525.7" r="3.7"/>
<circle class="r" cx="160.3" cy="483.4" r="3.7"/>
<circle class="r" cx="172.8" cy="552.6" r="3.7"/>
<circle class="r" cx="171.1" cy="552" r="3.7"/>
<circle class="g" cx="214.4" cy="598.3" r="3.7"/>
<circle class="o" cx="119.6" cy="582.7" r="3.7"/>
<circle class="o" cx="199.5" cy="599.9" r="3.7"/>
<circle class="o" cx="121.4" cy="551.9" r="3.7"/>
<circle class="o" cx="178.9" cy="590.3" r="3.7"/>
<circle class="o" cx="179.2" cy="585.9" r="3.7"/>
<circle class="o" cx="176.8" cy="584.7" r="3.7"/>
<circle class="o" cx="124.1" cy="532.4" r="3.7"/>
<circle class="o" cx="124.1" cy="488.6" r="3.7"/>
<circle class="o" cx="162.6" cy="576" r="3.7"/>
<circle class="r" cx="166.4" cy="567.6" r="3.7"/>
<circle class="r" cx="163.1" cy="582.6" r="3.7"/>
<circle class="r" cx="161.5" cy="423.9" r="3.7"/>
<circle class="r" cx="164.4" cy="574.1" r="3.7"/>
<circle class="r" cx="117.8" cy="584.4" r="3.7"/>
<circle class="o" cx="122" cy="583.1" r="3.7"/>
<circle class="o" cx="177.6" cy="469.2" r="3.7"/>
<circle class="o" cx="224.2" cy="496.4" r="3.7"/>
<circle class="o" cx="163" cy="553.7" r="3.7"/>
<circle class="o" cx="159.3" cy="593.9" r="3.7"/>
<circle class="o" cx="195" cy="522.3" r="3.7"/>
<circle class="o" cx="173.3" cy="577.9" r="3.7"/>
<circle class="o" cx="159.9" cy="455.8" r="3.7"/>
<circle class="o" cx="178.8" cy="565.7" r="3.7"/>
<circle class="o" cx="199.8" cy="591.7" r="3.7"/>
<circle class="o" cx="117" cy="545" r="3.7"/>
<circle class="o" cx="196.1" cy="609.5" r="3.7"/>
<circle class="o" cx="188.6" cy="580.6" r="3.7"/>
<circle class="o" cx="141.1" cy="455.8" r="3.7"/>
<circle class="o" cx="203.5" cy="498.2" r="3.7"/>
<circle class="r" cx="119.2" cy="601.2" r="3.7"/>
<circle class="o" cx="169.6" cy="588.2" r="3.7"/>
<circle class="r" cx="194.4" cy="574.7" r="3.7"/>
<circle class="r" cx="190.9" cy="591.1" r="3.7"/>
<circle class="r" cx="169.5" cy="576" r="3.7"/>
<circle class="g" cx="211.9" cy="605" r="3.7"/>
<circle class="o" cx="162" cy="588.2" r="3.7"/>
<circle class="o" cx="123" cy="483.4" r="3.7"/>
<circle class="o" cx="198.2" cy="505.5" r="3.7"/>
<circle class="o" cx="121.5" cy="569.6" r="3.7"/>
<circle class="o" cx="172.2" cy="543.7" r="3.7"/>
<circle class="o" cx="191.4" cy="560.1" r="3.7"/>
<circle class="o" cx="176.4" cy="591.9" r="3.7"/>
<circle class="o" cx="183.3" cy="565.4" r="3.7"/>
<circle class="r" cx="165.2" cy="566.1" r="3.7"/>
<circle class="r" cx="196.8" cy="496.3" r="3.7"/>
<circle class="o" cx="126.9" cy="424.3" r="3.7"/>
<circle class="o" cx="166.3" cy="458.7" r="3.7"/>
<circle class="o" cx="147.9" cy="467.8" r="3.7"/>
<circle class="r" cx="120.5" cy="478.7" r="3.7"/>
<circle class="r" cx="174.7" cy="571.9" r="3.7"/>
<circle class="r" cx="156.6" cy="617.8" r="3.7"/>
<circle class="r" cx="165.7" cy="532.6" r="3.7"/>
<circle class="r" cx="147.5" cy="484.1" r="3.7"/>
<circle class="r" cx="163.2" cy="610.3" r="3.7"/>
<circle class="r" cx="182.6" cy="583.1" r="3.7"/>
<circle class="o" cx="186.9" cy="548.3" r="3.7"/>
<circle class="o" cx="192.7" cy="587.7" r="3.7"/>
<circle class="o" cx="186.4" cy="560.2" r="3.7"/>
<circle class="o" cx="122.6" cy="482.2" r="3.7"/>
<circle class="o" cx="175.1" cy="553.7" r="3.7"/>
<circle class="o" cx="118.9" cy="550" r="3.7"/>
<circle class="o" cx="115.4" cy="625.2" r="3.7"/>
<circle class="o" cx="122.3" cy="553.5" r="3.7"/>
<circle class="o" cx="187.8" cy="546.6" r="3.7"/>
<circle class="o" cx="131.8" cy="443.4" r="3.7"/>
<circle class="o" cx="157.6" cy="498.1" r="3.7"/>
<circle class="o" cx="165.3" cy="572" r="3.7"/>
<circle class="o" cx="162.6" cy="485.8" r="3.7"/>
<circle class="o" cx="160.1" cy="579" r="3.7"/>
<circle class="o" cx="172.5" cy="560.5" r="3.7"/>
<circle class="o" cx="166.4" cy="578.1" r="3.7"/>
<circle class="g" cx="210.5" cy="587.9" r="3.7"/>
<circle class="o" cx="172" cy="535.3" r="3.7"/>
<circle class="o" cx="161.1" cy="621.9" r="3.7"/>
<circle class="o" cx="178.7" cy="582.6" r="3.7"/>
<circle class="o" cx="426.2" cy="574.3" r="3.7"/>
<circle class="o" cx="163.8" cy="566.1" r="3.7"/>
<circle class="o" cx="120.6" cy="544.5" r="3.7"/>
<circle class="r" cx="147.1" cy="415.9" r="3.7"/>
<circle class="r" cx="169.8" cy="498.9" r="3.7"/>
<circle class="r" cx="186.4" cy="514.9" r="3.7"/>
<circle class="r" cx="166.5" cy="557.8" r="3.7"/>
<circle class="r" cx="122.2" cy="546.9" r="3.7"/>
<circle class="r" cx="140.7" cy="418.4" r="3.7"/>
<circle class="r" cx="179.5" cy="572.6" r="3.7"/>
<circle class="r" cx="121.2" cy="596.5" r="3.7"/>
<circle class="r" cx="147.1" cy="455.3" r="3.7"/>
<circle class="o" cx="166.9" cy="524.7" r="3.7"/>
<circle class="o" cx="179.4" cy="572.4" r="3.7"/>
<circle class="o" cx="121" cy="543.9" r="3.7"/>
<circle class="o" cx="118.4" cy="538.5" r="3.7"/>
<circle class="r" cx="116.1" cy="630.3" r="3.7"/>
<circle class="r" cx="168.8" cy="594.2" r="3.7"/>
<circle class="o" cx="134.1" cy="418.7" r="3.7"/>
<circle class="o" cx="162.5" cy="505.4" r="3.7"/>
<circle class="o" cx="116.4" cy="517.7" r="3.7"/>
<circle class="r" cx="119" cy="588" r="3.7"/>
<circle class="r" cx="117.6" cy="568.4" r="3.7"/>
<circle class="r" cx="285.8" cy="484.7" r="3.7"/>
<circle class="r" cx="199.4" cy="615.1" r="3.7"/>
<circle class="r" cx="121" cy="572.4" r="3.7"/>
<circle class="r" cx="161.1" cy="608.5" r="3.7"/>
<circle class="r" cx="176.3" cy="482" r="3.7"/>
<circle class="r" cx="177.3" cy="585.8" r="3.7"/>
<circle class="r" cx="134.1" cy="462.7" r="3.7"/>
<circle class="r" cx="160.7" cy="526.6" r="3.7"/>
<circle class="r" cx="168.4" cy="514.8" r="3.7"/>
<circle class="r" cx="116.7" cy="578.6" r="3.7"/>
<circle class="r" cx="165.6" cy="584.4" r="3.7"/>
<circle class="r" cx="171.2" cy="551.1" r="3.7"/>
<circle class="r" cx="117.2" cy="558.1" r="3.7"/>
<circle class="r" cx="161.3" cy="526" r="3.7"/>
<circle class="r" cx="171.1" cy="576.5" r="3.7"/>
<circle class="r" cx="188.9" cy="576.8" r="3.7"/>
<circle class="r" cx="121.8" cy="548.1" r="3.7"/>
<circle class="r" cx="118.7" cy="612.6" r="3.7"/>
<circle class="o" cx="206.1" cy="556.3" r="3.7"/>
<circle class="o" cx="169.7" cy="560" r="3.7"/>
<circle class="o" cx="168.8" cy="564.6" r="3.7"/>
<circle class="r" cx="157.8" cy="571.7" r="3.7"/>
<circle class="r" cx="160.7" cy="510.7" r="3.7"/>
<circle class="r" cx="250.9" cy="531.6" r="3.7"/>
<circle class="r" cx="123" cy="497.1" r="3.7"/>
<circle class="r" cx="180.3" cy="571.4" r="3.7"/>
<circle class="r" cx="164.9" cy="603.8" r="3.7"/>
<circle class="r" cx="204.8" cy="566.5" r="3.7"/>
<circle class="r" cx="119" cy="611.3" r="3.7"/>
<circle class="r" cx="269.8" cy="511.9" r="3.7"/>
<circle class="r" cx="164.8" cy="480.4" r="3.7"/>
<circle class="r" cx="160.5" cy="578.2" r="3.7"/>
<circle class="r" cx="161.5" cy="586.5" r="3.7"/>
<circle class="r" cx="122.8" cy="567.4" r="3.7"/>
<circle class="r" cx="165.7" cy="593.3" r="3.7"/>
<circle class="r" cx="162.6" cy="566" r="3.7"/>
<circle class="r" cx="150.1" cy="416.5" r="3.7"/>
<circle class="r" cx="199.4" cy="597.6" r="3.7"/>
<circle class="r" cx="115.4" cy="565" r="3.7"/>
<circle class="r" cx="162.7" cy="573" r="3.7"/>
<circle class="r" cx="177.2" cy="607.7" r="3.7"/>
<circle class="r" cx="167.9" cy="566.5" r="3.7"/>
<circle class="r" cx="176.9" cy="596.5" r="3.7"/>
<circle class="r" cx="200.2" cy="575.6" r="3.7"/>
<circle class="r" cx="174.1" cy="573.5" r="3.7"/>
<circle class="r" cx="172.7" cy="558.3" r="3.7"/>
<circle class="r" cx="152" cy="485.2" r="3.7"/>
<circle class="r" cx="188.4" cy="568.3" r="3.7"/>
<circle class="r" cx="166.7" cy="601.5" r="3.7"/>
<circle class="r" cx="118.6" cy="587.5" r="3.7"/>
<circle class="r" cx="159.1" cy="415.9" r="3.7"/>
<circle class="r" cx="191.3" cy="620.4" r="3.7"/>
<circle class="r" cx="219.4" cy="491.4" r="3.7"/>
<circle class="r" cx="152.6" cy="415.9" r="3.7"/>
<circle class="r" cx="210.2" cy="572.6" r="3.7"/>
<circle class="r" cx="164.1" cy="539.3" r="3.7"/>
<circle class="o" cx="118.8" cy="446.5" r="3.7"/>
<circle class="g" cx="222.3" cy="595" r="3.7"/>
<circle class="o" cx="115.4" cy="469.7" r="3.7"/>
<circle class="o" cx="123" cy="476.3" r="3.7"/>
<circle class="o" cx="170.4" cy="576.3" r="3.7"/>
<circle class="o" cx="179.8" cy="564.5" r="3.7"/>
<circle class="o" cx="118.6" cy="515.1" r="3.7"/>
<circle class="o" cx="162.3" cy="547.5" r="3.7"/>
<circle class="o" cx="270.6" cy="553.5" r="3.7"/>
<circle class="o" cx="141.9" cy="455.7" r="3.7"/>
<circle class="o" cx="341" cy="517.9" r="3.7"/>
<circle class="o" cx="165.4" cy="537.5" r="3.7"/>
<circle class="o" cx="130" cy="463" r="3.7"/>
<circle class="o" cx="121.1" cy="550.2" r="3.7"/>
<circle class="o" cx="284.1" cy="493.2" r="3.7"/>
<circle class="o" cx="188.4" cy="559.1" r="3.7"/>
<circle class="o" cx="140.2" cy="460.7" r="3.7"/>
<circle class="o" cx="185.3" cy="568.7" r="3.7"/>
<circle class="o" cx="222.4" cy="521.1" r="3.7"/>
<circle class="o" cx="151.6" cy="423.9" r="3.7"/>
<circle class="r" cx="117.9" cy="630.2" r="3.7"/>
<circle class="r" cx="193.1" cy="415.9" r="3.7"/>
<circle class="r" cx="145.7" cy="474.9" r="3.7"/>
<circle class="r" cx="153.3" cy="492" r="3.7"/>
<circle class="r" cx="126.7" cy="451.6" r="3.7"/>
<circle class="r" cx="188.7" cy="545.1" r="3.7"/>
<circle class="r" cx="160" cy="512" r="3.7"/>
<circle class="r" cx="159.5" cy="530.6" r="3.7"/>
<circle class="r" cx="194.3" cy="547" r="3.7"/>
<circle class="r" cx="171.7" cy="608.9" r="3.7"/>
<circle class="r" cx="124.9" cy="503.9" r="3.7"/>
<circle class="r" cx="176.8" cy="543.2" r="3.7"/>
<circle class="r" cx="160.6" cy="554.1" r="3.7"/>
<circle class="o" cx="116.6" cy="613.7" r="3.7"/>
<circle class="o" cx="179.7" cy="602.2" r="3.7"/>
<circle class="o" cx="168.7" cy="621.3" r="3.7"/>
<circle class="o" cx="192.9" cy="587.6" r="3.7"/>
<circle class="o" cx="168.8" cy="482.9" r="3.7"/>
<circle class="o" cx="201.8" cy="539.4" r="3.7"/>
<circle class="r" cx="122.5" cy="501.3" r="3.7"/>
<circle class="r" cx="233.6" cy="471.7" r="3.7"/>
<circle class="r" cx="165.7" cy="553.7" r="3.7"/>
<circle class="r" cx="171.2" cy="550.7" r="3.7"/>
<circle class="r" cx="128.5" cy="455.9" r="3.7"/>
<circle class="r" cx="174.9" cy="536.5" r="3.7"/>
<circle class="r" cx="130.3" cy="424.6" r="3.7"/>
<circle class="r" cx="134.3" cy="428.8" r="3.7"/>
<circle class="r" cx="160.1" cy="571.5" r="3.7"/>
<circle class="r" cx="121.3" cy="589.9" r="3.7"/>
<circle class="o" cx="166.9" cy="548.4" r="3.7"/>
<circle class="o" cx="137.7" cy="415.9" r="3.7"/>
<circle class="o" cx="118.4" cy="612.1" r="3.7"/>
<circle class="o" cx="183.2" cy="599.6" r="3.7"/>
<circle class="o" cx="125.7" cy="447.2" r="3.7"/>
<circle class="o" cx="157.2" cy="415.9" r="3.7"/>
<circle class="o" cx="183.2" cy="580" r="3.7"/>
<circle class="o" cx="163.5" cy="587.8" r="3.7"/>
<circle class="o" cx="173.7" cy="557.3" r="3.7"/>
<circle class="o" cx="153.3" cy="417.5" r="3.7"/>
<circle class="o" cx="194.4" cy="582.6" r="3.7"/>
<circle class="o" cx="161.2" cy="551.7" r="3.7"/>
<circle class="o" cx="162.6" cy="593.5" r="3.7"/>
<circle class="o" cx="159.3" cy="525" r="3.7"/>
<circle class="o" cx="157.8" cy="589.9" r="3.7"/>
<circle class="o" cx="193.4" cy="564.3" r="3.7"/>
<circle class="o" cx="207" cy="547.4" r="3.7"/>
<circle class="o" cx="187" cy="574.7" r="3.7"/>
<circle class="o" cx="122.2" cy="573.5" r="3.7"/>
<circle class="o" cx="115.4" cy="562.8" r="3.7"/>
<circle class="o" cx="166.7" cy="569.7" r="3.7"/>
<circle class="o" cx="167.3" cy="517.2" r="3.7"/>
<circle class="o" cx="176" cy="548.2" r="3.7"/>
<circle class="o" cx="165.3" cy="588" r="3.7"/>
<circle class="r" cx="192.8" cy="597" r="3.7"/>
<circle class="r" cx="188.2" cy="481.8" r="3.7"/>
<circle class="r" cx="156.4" cy="592.2" r="3.7"/>
<circle class="b" cx="157.2" cy="475.9" r="3.7"/>
<circle class="b" cx="182.8" cy="415.9" r="3.7"/>
<circle class="b" cx="119.1" cy="543.3" r="3.7"/>
<circle class="b" cx="145.5" cy="473.4" r="3.7"/>
<circle class="b" cx="145.2" cy="453.5" r="3.7"/>
<circle class="b" cx="162.1" cy="438.7" r="3.7"/>
<circle class="b" cx="147.4" cy="415.9" r="3.7"/>
<circle class="b" cx="132.5" cy="415.9" r="3.7"/>
<circle class="b" cx="119" cy="415.9" r="3.7"/>
<circle class="b" cx="168.8" cy="551.7" r="3.7"/>
<circle class="b" cx="130.9" cy="418.5" r="3.7"/>
<circle class="b" cx="145.2" cy="484.2" r="3.7"/>
<circle class="b" cx="130.5" cy="415.9" r="3.7"/>
<circle class="b" cx="198.2" cy="504.1" r="3.7"/>
<circle class="b" cx="155.7" cy="528.6" r="3.7"/>
<circle class="b" cx="119.7" cy="463.4" r="3.7"/>
<circle class="b" cx="139.8" cy="420.6" r="3.7"/>
<circle class="b" cx="132.3" cy="428.3" r="3.7"/>
<circle class="b" cx="178.2" cy="527.3" r="3.7"/>
<circle class="g" cx="225.1" cy="595.3" r="3.7"/>
<circle class="b" cx="124.6" cy="507.7" r="3.7"/>
<circle class="b" cx="302.9" cy="547.8" r="3.7"/>
<circle class="b" cx="147.8" cy="479.1" r="3.7"/>
<circle class="g" cx="219.8" cy="616.3" r="3.7"/>
<circle class="b" cx="156" cy="523.2" r="3.7"/>
<circle class="b" cx="139.4" cy="442.3" r="3.7"/>
<circle class="b" cx="132.7" cy="415.9" r="3.7"/>
<circle class="b" cx="137.9" cy="435.7" r="3.7"/>
<circle class="b" cx="141.2" cy="455.5" r="3.7"/>
<circle class="b" cx="115.9" cy="575" r="3.7"/>
<circle class="b" cx="141.7" cy="454.9" r="3.7"/>
<circle class="b" cx="123.5" cy="487.2" r="3.7"/>
<circle class="b" cx="143.8" cy="476.5" r="3.7"/>
<circle class="b" cx="152.6" cy="461.2" r="3.7"/>
<circle class="b" cx="124.7" cy="482.6" r="3.7"/>
<circle class="b" cx="168.6" cy="521.3" r="3.7"/>
<circle class="b" cx="136.9" cy="433.9" r="3.7"/>
<circle class="b" cx="159.4" cy="499.8" r="3.7"/>
<circle class="b" cx="166.7" cy="536.7" r="3.7"/>
<circle class="b" cx="159.2" cy="446" r="3.7"/>
<circle class="r" cx="170.4" cy="466.1" r="3.7"/>
<circle class="r" cx="158.7" cy="555.2" r="3.7"/>
<circle class="r" cx="128.5" cy="465.6" r="3.7"/>
<circle class="r" cx="124.5" cy="484.2" r="3.7"/>
<circle class="r" cx="166" cy="505.3" r="3.7"/>
<circle class="r" cx="135.7" cy="442.8" r="3.7"/>
<circle class="r" cx="159.9" cy="506.1" r="3.7"/>
<circle class="r" cx="137.2" cy="428" r="3.7"/>
<circle class="r" cx="137.4" cy="431.7" r="3.7"/>
<circle class="r" cx="118.4" cy="517.8" r="3.7"/>
<circle class="r" cx="187" cy="470.3" r="3.7"/>
<circle class="r" cx="122.4" cy="521.4" r="3.7"/>
<circle class="r" cx="155.1" cy="498.1" r="3.7"/>
<circle class="r" cx="142.1" cy="433.1" r="3.7"/>
<circle class="r" cx="164.2" cy="415.9" r="3.7"/>
<circle class="r" cx="147.3" cy="452.7" r="3.7"/>
<circle class="r" cx="125.2" cy="476.7" r="3.7"/>
<circle class="r" cx="147.6" cy="454.9" r="3.7"/>
<circle class="r" cx="148.4" cy="478.3" r="3.7"/>
<circle class="r" cx="121.5" cy="415.9" r="3.7"/>
<circle class="r" cx="130.1" cy="415.9" r="3.7"/>
<circle class="r" cx="146.1" cy="432.3" r="3.7"/>
<circle class="r" cx="148.2" cy="471.4" r="3.7"/>
<circle class="b" cx="126.3" cy="492.7" r="3.7"/>
<circle class="b" cx="158.6" cy="415.9" r="3.7"/>
<circle class="b" cx="158.5" cy="519" r="3.7"/>
<circle class="b" cx="159.1" cy="501.6" r="3.7"/>
<circle class="b" cx="167.1" cy="521" r="3.7"/>
<circle class="b" cx="139.6" cy="474.4" r="3.7"/>
<circle class="b" cx="137.8" cy="439.7" r="3.7"/>
<circle class="b" cx="127.6" cy="460.5" r="3.7"/>
<circle class="b" cx="126.3" cy="475.7" r="3.7"/>
<circle class="b" cx="138.3" cy="416.3" r="3.7"/>
<circle class="b" cx="157.7" cy="568.9" r="3.7"/>
<circle class="b" cx="173.9" cy="492.8" r="3.7"/>
<circle class="b" cx="138.2" cy="465.3" r="3.7"/>
<circle class="b" cx="131.6" cy="451.3" r="3.7"/>
<circle class="b" cx="202" cy="521.8" r="3.7"/>
<circle class="b" cx="162.9" cy="415.9" r="3.7"/>
<circle class="b" cx="274.8" cy="549.3" r="3.7"/>
<circle class="b" cx="141.8" cy="433.8" r="3.7"/>
<circle class="b" cx="120.6" cy="580.8" r="3.7"/>
<circle class="b" cx="126.9" cy="451.8" r="3.7"/>
<circle class="b" cx="165.2" cy="477.3" r="3.7"/>
<circle class="b" cx="180.6" cy="456.8" r="3.7"/>
<circle class="b" cx="141.5" cy="415.9" r="3.7"/>
<circle class="b" cx="152.4" cy="415.9" r="3.7"/>
<circle class="b" cx="144.7" cy="451.8" r="3.7"/>
<circle class="b" cx="236.1" cy="524.1" r="3.7"/>
<circle class="b" cx="161.9" cy="472.9" r="3.7"/>
<circle class="b" cx="143.3" cy="415.9" r="3.7"/>
<circle class="b" cx="134.9" cy="456.1" r="3.7"/>
<circle class="b" cx="141.3" cy="465.2" r="3.7"/>
<circle class="b" cx="169.6" cy="481.6" r="3.7"/>
<circle class="b" cx="139.4" cy="459.3" r="3.7"/>
<circle class="b" cx="158.4" cy="533.3" r="3.7"/>
<circle class="b" cx="135.3" cy="429.6" r="3.7"/>
<circle class="b" cx="121.1" cy="426.2" r="3.7"/>
<circle class="b" cx="159.8" cy="533.4" r="3.7"/>
<circle class="b" cx="181.3" cy="519.7" r="3.7"/>
<circle class="b" cx="178.1" cy="501.4" r="3.7"/>
<circle class="g" cx="210.5" cy="604.1" r="3.7"/>
<circle class="b" cx="148.2" cy="482.1" r="3.7"/>
<circle class="b" cx="144.7" cy="483.7" r="3.7"/>
<circle class="b" cx="162.7" cy="489.4" r="3.7"/>
<circle class="b" cx="127.4" cy="450.4" r="3.7"/>
<circle class="b" cx="117.5" cy="476" r="3.7"/>
<circle class="b" cx="160.6" cy="485" r="3.7"/>
<circle class="b" cx="129" cy="468.7" r="3.7"/>
<circle class="b" cx="274.6" cy="515.1" r="3.7"/>
<circle class="b" cx="162.2" cy="478.3" r="3.7"/>
<circle class="b" cx="126.5" cy="445.9" r="3.7"/>
<circle class="b" cx="149.6" cy="415.9" r="3.7"/>
<circle class="b" cx="124.5" cy="478.1" r="3.7"/>
<circle class="b" cx="121" cy="542.9" r="3.7"/>
<circle class="b" cx="117.3" cy="538.1" r="3.7"/>
<circle class="b" cx="123.7" cy="415.9" r="3.7"/>
<circle class="b" cx="129.6" cy="465.9" r="3.7"/>
<circle class="b" cx="128.9" cy="454.1" r="3.7"/>
<circle class="b" cx="160.1" cy="515.6" r="3.7"/>
<circle class="b" cx="131.7" cy="461.2" r="3.7"/>
<circle class="r" cx="140.5" cy="480" r="3.7"/>
<circle class="r" cx="145.2" cy="448.6" r="3.7"/>
<circle class="r" cx="116.1" cy="559.8" r="3.7"/>
<circle class="r" cx="163.2" cy="556.7" r="3.7"/>
<circle class="r" cx="163.7" cy="490.2" r="3.7"/>
<circle class="r" cx="194.8" cy="493.6" r="3.7"/>
<circle class="r" cx="148.7" cy="489.9" r="3.7"/>
<circle class="r" cx="217.4" cy="470" r="3.7"/>
<circle class="r" cx="136.2" cy="443.7" r="3.7"/>
<circle class="r" cx="129.6" cy="467.5" r="3.7"/>
<circle class="r" cx="183.8" cy="560.7" r="3.7"/>
<circle class="r" cx="176.2" cy="425.3" r="3.7"/>
<circle class="r" cx="138.1" cy="415.9" r="3.7"/>
<circle class="r" cx="127" cy="441.5" r="3.7"/>
<circle class="r" cx="122.5" cy="434.5" r="3.7"/>
<circle class="r" cx="176" cy="466.6" r="3.7"/>
<circle class="r" cx="125.1" cy="484.4" r="3.7"/>
<circle class="r" cx="130.6" cy="438.3" r="3.7"/>
<circle class="r" cx="147.5" cy="415.9" r="3.7"/>
<circle class="r" cx="127.5" cy="444.2" r="3.7"/>
<circle class="r" cx="177.8" cy="459.1" r="3.7"/>
<circle class="r" cx="123.4" cy="496.2" r="3.7"/>
<circle class="b" cx="153.7" cy="415.9" r="3.7"/>
<circle class="b" cx="144.2" cy="432.5" r="3.7"/>
<circle class="g" cx="219.7" cy="589.5" r="3.7"/>
<circle class="b" cx="123.2" cy="478.4" r="3.7"/>
<circle class="b" cx="135.6" cy="429" r="3.7"/>
<circle class="b" cx="123.4" cy="482" r="3.7"/>
<circle class="b" cx="126.2" cy="443.4" r="3.7"/>
<circle class="b" cx="136.1" cy="449.1" r="3.7"/>
<circle class="b" cx="140" cy="443.3" r="3.7"/>
<circle class="b" cx="140.5" cy="464.6" r="3.7"/>
<circle class="b" cx="160.6" cy="534.6" r="3.7"/>
<circle class="b" cx="144.9" cy="480.9" r="3.7"/>
<circle class="b" cx="157.3" cy="415.9" r="3.7"/>
<circle class="b" cx="205.2" cy="503.7" r="3.7"/>
<circle class="b" cx="173.7" cy="581.1" r="3.7"/>
<circle class="b" cx="164.5" cy="432.4" r="3.7"/>
<circle class="b" cx="168.8" cy="541.6" r="3.7"/>
<circle class="b" cx="166.6" cy="499.6" r="3.7"/>
<circle class="r" cx="167.4" cy="425.4" r="3.7"/>
<circle class="r" cx="186.6" cy="550.2" r="3.7"/>
<circle class="r" cx="140.4" cy="482.3" r="3.7"/>
<circle class="b" cx="123.7" cy="499.7" r="3.7"/>
<circle class="b" cx="160.2" cy="428.5" r="3.7"/>
<circle class="b" cx="155.8" cy="519.4" r="3.7"/>
<circle class="b" cx="159.9" cy="538.3" r="3.7"/>
<circle class="b" cx="130.5" cy="449.7" r="3.7"/>
<circle class="b" cx="137.1" cy="415.9" r="3.7"/>
<circle class="b" cx="191.4" cy="530.9" r="3.7"/>
<circle class="b" cx="139.7" cy="416.5" r="3.7"/>
<circle class="b" cx="115.5" cy="556" r="3.7"/>
<circle class="b" cx="159.3" cy="517.5" r="3.7"/>
<circle class="b" cx="123.2" cy="487.6" r="3.7"/>
<circle class="b" cx="160.8" cy="416.1" r="3.7"/>
<circle class="b" cx="119.8" cy="553.5" r="3.7"/>
<circle class="b" cx="175.4" cy="486.6" r="3.7"/>
<circle class="b" cx="123.3" cy="433.3" r="3.7"/>
<circle class="b" cx="122.4" cy="573.4" r="3.7"/>
<circle class="b" cx="138.2" cy="457.4" r="3.7"/>
<circle class="b" cx="132.4" cy="437.5" r="3.7"/>
<circle class="b" cx="138" cy="450" r="3.7"/>
<circle class="b" cx="175.8" cy="466.3" r="3.7"/>
<circle class="b" cx="153.2" cy="465.8" r="3.7"/>
<circle class="b" cx="305.5" cy="487.9" r="3.7"/>
<circle class="b" cx="179.1" cy="458.9" r="3.7"/>
<circle class="b" cx="147.8" cy="417.8" r="3.7"/>
<circle class="b" cx="121.9" cy="556.9" r="3.7"/>
<circle class="b" cx="270.8" cy="526.7" r="3.7"/>
<circle class="b" cx="258.4" cy="526.7" r="3.7"/>
<circle class="b" cx="133.8" cy="445.5" r="3.7"/>
<circle class="b" cx="123.6" cy="415.9" r="3.7"/>
<circle class="b" cx="149.9" cy="415.9" r="3.7"/>
<circle class="r" cx="126.3" cy="491" r="3.7"/>
<circle class="r" cx="122.2" cy="496.6" r="3.7"/>
<circle class="r" cx="159.4" cy="514" r="3.7"/>
<circle class="r" cx="267.8" cy="569.6" r="3.7"/>
<circle class="r" cx="140.9" cy="415.9" r="3.7"/>
<circle class="r" cx="128.9" cy="453.1" r="3.7"/>
<circle class="r" cx="125" cy="495.9" r="3.7"/>
<circle class="r" cx="359.1" cy="539.8" r="3.7"/>
<circle class="r" cx="139.3" cy="464.6" r="3.7"/>
<circle class="r" cx="160.7" cy="553.1" r="3.7"/>
<circle class="r" cx="117.5" cy="441.3" r="3.7"/>
<circle class="r" cx="117.6" cy="551.8" r="3.7"/>
<circle class="r" cx="181.4" cy="415.9" r="3.7"/>
<circle class="r" cx="159.6" cy="502.8" r="3.7"/>
<circle class="r" cx="157.8" cy="533.7" r="3.7"/>
<circle class="r" cx="137.3" cy="475.6" r="3.7"/>
<circle class="b" cx="137.8" cy="476.1" r="3.7"/>
<circle class="b" cx="140.1" cy="483.4" r="3.7"/>
<circle class="b" cx="172.5" cy="415.9" r="3.7"/>
<circle class="b" cx="125.7" cy="415.9" r="3.7"/>
<circle class="b" cx="162.3" cy="548.2" r="3.7"/>
<circle class="b" cx="146.4" cy="415.9" r="3.7"/>
<circle class="b" cx="142.7" cy="442.3" r="3.7"/>
<circle class="b" cx="174.7" cy="516.5" r="3.7"/>
<circle class="b" cx="126.8" cy="478.5" r="3.7"/>
<circle class="b" cx="126.7" cy="415.9" r="3.7"/>
<circle class="b" cx="121.2" cy="539.3" r="3.7"/>
<circle class="b" cx="159.5" cy="464.7" r="3.7"/>
<circle class="g" cx="117.5" cy="623.1" r="3.7"/>
<circle class="g" cx="159.5" cy="609.4" r="3.7"/>
<circle class="g" cx="182.5" cy="566.3" r="3.7"/>
<circle class="g" cx="198.8" cy="583.5" r="3.7"/>
<circle class="g" cx="121.6" cy="586.5" r="3.7"/>
<circle class="g" cx="157.7" cy="594.4" r="3.7"/>
<circle class="g" cx="174.8" cy="595.7" r="3.7"/>
<circle class="g" cx="302.6" cy="562.9" r="3.7"/>
<circle class="g" cx="291.9" cy="549.5" r="3.7"/>
<circle class="g" cx="147.8" cy="599.5" r="3.7"/>
<circle class="g" cx="175.8" cy="595.2" r="3.7"/>
<circle class="g" cx="122.3" cy="584.2" r="3.7"/>
<circle class="g" cx="117.1" cy="577.1" r="3.7"/>
<circle class="g" cx="169.9" cy="546" r="3.7"/>
<circle class="g" cx="172.8" cy="606" r="3.7"/>
<circle class="g" cx="184.1" cy="585.8" r="3.7"/>
<circle class="g" cx="120.6" cy="631.8" r="3.7"/>
<circle class="g" cx="249.4" cy="608.6" r="3.7"/>
<circle class="g" cx="158.3" cy="552" r="3.7"/>
<circle class="g" cx="209.4" cy="569.7" r="3.7"/>
<circle class="g" cx="172.3" cy="586.9" r="3.7"/>
<circle class="g" cx="158.7" cy="574.9" r="3.7"/>
<circle class="g" cx="162.7" cy="591.9" r="3.7"/>
<circle class="g" cx="163.8" cy="594.4" r="3.7"/>
<circle class="g" cx="164.6" cy="596" r="3.7"/>
<circle class="g" cx="163.4" cy="606.1" r="3.7"/>
<circle class="g" cx="118.2" cy="609.4" r="3.7"/>
<circle class="g" cx="115.6" cy="594.7" r="3.7"/>
<circle class="g" cx="150.9" cy="622.6" r="3.7"/>
<circle class="g" cx="155.3" cy="590.2" r="3.7"/>
<circle class="g" cx="174" cy="591.3" r="3.7"/>
<circle class="g" cx="154.3" cy="590.3" r="3.7"/>
<circle class="g" cx="174.5" cy="594.6" r="3.7"/>
<circle class="g" cx="177.4" cy="596.3" r="3.7"/>
<circle class="g" cx="171.9" cy="545.6" r="3.7"/>
<circle class="g" cx="115.5" cy="625.7" r="3.7"/>
<circle class="g" cx="168.2" cy="548.4" r="3.7"/>
<circle class="g" cx="117" cy="603.5" r="3.7"/>
<circle class="g" cx="195.6" cy="548.5" r="3.7"/>
<circle class="g" cx="154.1" cy="612.6" r="3.7"/>
<circle class="g" cx="162.2" cy="580.8" r="3.7"/>
<circle class="g" cx="149.2" cy="621.9" r="3.7"/>
<circle class="g" cx="118" cy="597.2" r="3.7"/>
<circle class="g" cx="118.9" cy="623.5" r="3.7"/>
<circle class="g" cx="146.7" cy="634.4" r="3.7"/>
<circle class="g" cx="214.6" cy="569.1" r="3.7"/>
<circle class="g" cx="121.2" cy="578.9" r="3.7"/>
<circle class="g" cx="166.5" cy="604.2" r="3.7"/>
<circle class="g" cx="119.1" cy="594.3" r="3.7"/>
<circle class="g" cx="163.4" cy="604" r="3.7"/>
<circle class="g" cx="115.7" cy="605.7" r="3.7"/>
<circle class="g" cx="188.7" cy="589.1" r="3.7"/>
<circle class="g" cx="163.3" cy="609" r="3.7"/>
<circle class="g" cx="160.4" cy="597.6" r="3.7"/>
<circle class="g" cx="159.1" cy="579" r="3.7"/>
<circle class="g" cx="118.1" cy="602.8" r="3.7"/>
<circle class="g" cx="133" cy="642.4" r="3.7"/>
<circle class="g" cx="173.2" cy="589.7" r="3.7"/>
<circle class="g" cx="160.6" cy="597" r="3.7"/>
<circle class="g" cx="123.2" cy="569.9" r="3.7"/>
<circle class="g" cx="353.9" cy="589" r="3.7"/>
<circle class="g" cx="234" cy="607.3" r="3.7"/>
<circle class="g" cx="173.9" cy="579.8" r="3.7"/>
<circle class="g" cx="149.7" cy="622.1" r="3.7"/>
<circle class="g" cx="123.3" cy="583.6" r="3.7"/>
<circle class="g" cx="183.6" cy="595" r="3.7"/>
<circle class="g" cx="169" cy="592.6" r="3.7"/>
<circle class="g" cx="172.5" cy="589.4" r="3.7"/>
<circle class="g" cx="150" cy="611.7" r="3.7"/>
<circle class="r" cx="122.9" cy="544.2" r="3.7"/>
<circle class="r" cx="164.5" cy="618.7" r="3.7"/>
<circle class="r" cx="130.1" cy="455.1" r="3.7"/>
<circle class="r" cx="171.4" cy="542.9" r="3.7"/>
<circle class="r" cx="166.3" cy="475.9" r="3.7"/>
<circle class="r" cx="158.5" cy="560.2" r="3.7"/>
<circle class="r" cx="127.8" cy="454" r="3.7"/>
<circle class="r" cx="159.4" cy="585.4" r="3.7"/>
<circle class="r" cx="155.8" cy="566.3" r="3.7"/>
<circle class="r" cx="167.3" cy="592.6" r="3.7"/>
<circle class="r" cx="155.6" cy="584.6" r="3.7"/>
<circle class="r" cx="115.5" cy="519.8" r="3.7"/>
<circle class="r" cx="123.1" cy="577.2" r="3.7"/>
<circle class="r" cx="124" cy="532.2" r="3.7"/>
<circle class="r" cx="169" cy="568.5" r="3.7"/>
<circle class="r" cx="121.4" cy="565.5" r="3.7"/>
<circle class="r" cx="175.9" cy="581.5" r="3.7"/>
<circle class="r" cx="160.2" cy="598.7" r="3.7"/>
<circle class="r" cx="172.5" cy="549.6" r="3.7"/>
<circle class="r" cx="201.4" cy="552.2" r="3.7"/>
<circle class="r" cx="172.4" cy="594.5" r="3.7"/>
<circle class="r" cx="183.7" cy="538.5" r="3.7"/>
<circle class="r" cx="141.3" cy="464.7" r="3.7"/>
<circle class="r" cx="153.3" cy="496.1" r="3.7"/>
<circle class="r" cx="124.1" cy="487.7" r="3.7"/>
<circle class="r" cx="174.6" cy="571.7" r="3.7"/>
<circle class="r" cx="121.5" cy="593.2" r="3.7"/>
<circle class="r" cx="174.8" cy="589.7" r="3.7"/>
<circle class="r" cx="151" cy="563.2" r="3.7"/>
<circle class="r" cx="151.9" cy="579.9" r="3.7"/>
<circle class="r" cx="205.2" cy="551.3" r="3.7"/>
<circle class="r" cx="120.7" cy="515.6" r="3.7"/>
<circle class="r" cx="132.8" cy="466.1" r="3.7"/>
<circle class="r" cx="158.7" cy="504.1" r="3.7"/>
<circle class="r" cx="159.2" cy="455.7" r="3.7"/>
<circle class="r" cx="121.2" cy="497.9" r="3.7"/>
<circle class="r" cx="138.2" cy="462" r="3.7"/>
<circle class="r" cx="142.8" cy="469.6" r="3.7"/>
<circle class="r" cx="156.6" cy="415.9" r="3.7"/>
<circle class="r" cx="155.8" cy="497.3" r="3.7"/>
<circle class="r" cx="162.2" cy="541.4" r="3.7"/>
<circle class="r" cx="141.5" cy="442.9" r="3.7"/>
<circle class="b" cx="149.8" cy="515.6" r="3.7"/>
<circle class="b" cx="138.1" cy="415.9" r="3.7"/>
<circle class="b" cx="173.2" cy="444.1" r="3.7"/>
<circle class="b" cx="118.6" cy="541.8" r="3.7"/>
<circle class="b" cx="144.9" cy="478.2" r="3.7"/>
<circle class="b" cx="155.7" cy="415.9" r="3.7"/>
<circle class="b" cx="146.5" cy="430.4" r="3.7"/>
<circle class="b" cx="157.4" cy="487" r="3.7"/>
<circle class="b" cx="125.3" cy="468.7" r="3.7"/>
<circle class="b" cx="139.7" cy="444.6" r="3.7"/>
<circle class="b" cx="165.4" cy="495.5" r="3.7"/>
<circle class="b" cx="172.7" cy="415.9" r="3.7"/>
<circle class="b" cx="245.9" cy="478.5" r="3.7"/>
<circle class="b" cx="157.9" cy="493.1" r="3.7"/>
<circle class="b" cx="179.3" cy="482.5" r="3.7"/>
<circle class="r" cx="182.3" cy="415.9" r="3.7"/>
<circle class="r" cx="128.1" cy="438" r="3.7"/>
<circle class="r" cx="125.9" cy="420.1" r="3.7"/>
<circle class="r" cx="123.9" cy="495.9" r="3.7"/>
<circle class="r" cx="171.3" cy="486.7" r="3.7"/>
<circle class="r" cx="145.6" cy="443.1" r="3.7"/>
<circle class="r" cx="115.4" cy="544.4" r="3.7"/>
<circle class="r" cx="144.3" cy="478.9" r="3.7"/>
<circle class="r" cx="136.7" cy="432.1" r="3.7"/>
<circle class="r" cx="156.9" cy="493.5" r="3.7"/>
<circle class="r" cx="139.2" cy="471.7" r="3.7"/>
<circle class="r" cx="133.8" cy="447.6" r="3.7"/>
<circle class="r" cx="123.8" cy="565.6" r="3.7"/>
<circle class="r" cx="133.3" cy="415.9" r="3.7"/>
<circle class="r" cx="166.7" cy="454.1" r="3.7"/>
<circle class="r" cx="173" cy="547.3" r="3.7"/>
<circle class="b" cx="124.2" cy="535.7" r="3.7"/>
<circle class="b" cx="146" cy="415.9" r="3.7"/>
<circle class="b" cx="146.6" cy="436.2" r="3.7"/>
<circle class="b" cx="153.9" cy="515.9" r="3.7"/>
<circle class="r" cx="186.1" cy="442.2" r="3.7"/>
<circle class="r" cx="153.2" cy="469.2" r="3.7"/>
<circle class="r" cx="143.6" cy="450.8" r="3.7"/>
<circle class="r" cx="134.6" cy="430.5" r="3.7"/>
<circle class="r" cx="123.9" cy="518.1" r="3.7"/>
<circle class="r" cx="128.2" cy="415.9" r="3.7"/>
<circle class="r" cx="194.3" cy="526.8" r="3.7"/>
<circle class="r" cx="165.8" cy="456.6" r="3.7"/>
<circle class="r" cx="147.6" cy="486.9" r="3.7"/>
<circle class="r" cx="154.9" cy="491" r="3.7"/>
<circle class="r" cx="131.4" cy="439.8" r="3.7"/>
<circle class="r" cx="296.2" cy="645.1" r="3.7"/>
<circle class="r" cx="120.6" cy="415.9" r="3.7"/>
<circle class="r" cx="171" cy="505.6" r="3.7"/>
<circle class="r" cx="161.6" cy="466.5" r="3.7"/>
<circle class="r" cx="150.3" cy="456.4" r="3.7"/>
<circle class="r" cx="122.4" cy="457.1" r="3.7"/>
<circle class="r" cx="170.5" cy="450.1" r="3.7"/>
<circle class="r" cx="172.2" cy="415.9" r="3.7"/>
<circle class="r" cx="123.4" cy="415.9" r="3.7"/>
<circle class="r" cx="130.8" cy="425" r="3.7"/>
<circle class="r" cx="136.2" cy="415.9" r="3.7"/>
<circle class="r" cx="155.5" cy="502.8" r="3.7"/>
<circle class="r" cx="130.8" cy="466.5" r="3.7"/>
<circle class="r" cx="171.7" cy="423.8" r="3.7"/>
<circle class="r" cx="125" cy="423.1" r="3.7"/>
<circle class="r" cx="165.7" cy="417.2" r="3.7"/>
<circle class="r" cx="188.2" cy="532.1" r="3.7"/>
<circle class="r" cx="148.3" cy="490.1" r="3.7"/>
<circle class="r" cx="131.1" cy="453.1" r="3.7"/>
<circle class="r" cx="128.4" cy="415.9" r="3.7"/>
<circle class="r" cx="121.4" cy="479.2" r="3.7"/>
<circle class="r" cx="121" cy="432.3" r="3.7"/>
<circle class="r" cx="123.5" cy="586.5" r="3.7"/>
<circle class="r" cx="156" cy="466.2" r="3.7"/>
<circle class="r" cx="147.3" cy="437.9" r="3.7"/>
<circle class="r" cx="150" cy="447.7" r="3.7"/>
<circle class="r" cx="130.3" cy="469.3" r="3.7"/>
<circle class="r" cx="145.3" cy="415.9" r="3.7"/>
<circle class="r" cx="179.5" cy="482.9" r="3.7"/>
<circle class="r" cx="129.9" cy="473.5" r="3.7"/>
<circle class="r" cx="154.6" cy="454.2" r="3.7"/>
<circle class="r" cx="160.8" cy="541.6" r="3.7"/>
<circle class="r" cx="131" cy="438.2" r="3.7"/>
<circle class="r" cx="173.3" cy="557.4" r="3.7"/>
<circle class="r" cx="161" cy="431" r="3.7"/>
<circle class="r" cx="142.9" cy="415.9" r="3.7"/>
<circle class="r" cx="140.1" cy="475.9" r="3.7"/>
<circle class="r" cx="153" cy="484" r="3.7"/>
<circle class="r" cx="188.1" cy="493.5" r="3.7"/>
<circle class="r" cx="148.8" cy="489.1" r="3.7"/>
<circle class="r" cx="124.1" cy="497.8" r="3.7"/>
<circle class="r" cx="149.9" cy="474.9" r="3.7"/>
<circle class="r" cx="127.1" cy="415.9" r="3.7"/>
<circle class="r" cx="158.6" cy="440.3" r="3.7"/>
<circle class="r" cx="231.1" cy="453" r="3.7"/>
<circle class="b" cx="161.1" cy="415.9" r="3.7"/>
<circle class="b" cx="137" cy="415.9" r="3.7"/>
<circle class="b" cx="132" cy="470.6" r="3.7"/>
<circle class="b" cx="146.9" cy="416.4" r="3.7"/>
<circle class="b" cx="125" cy="415.9" r="3.7"/>
<circle class="b" cx="122.9" cy="548.2" r="3.7"/>
<circle class="b" cx="125.7" cy="491.6" r="3.7"/>
<circle class="b" cx="180" cy="508" r="3.7"/>
<circle class="b" cx="159.3" cy="462.8" r="3.7"/>
<circle class="b" cx="158.7" cy="486.5" r="3.7"/>
<circle class="b" cx="148.9" cy="462.4" r="3.7"/>
<circle class="b" cx="115.9" cy="510.5" r="3.7"/>
<circle class="b" cx="124" cy="487.5" r="3.7"/>
<circle class="b" cx="156.9" cy="516.9" r="3.7"/>
<circle class="b" cx="124.9" cy="496.5" r="3.7"/>
<circle class="b" cx="153.2" cy="425" r="3.7"/>
<circle class="b" cx="143.3" cy="444.4" r="3.7"/>
<circle class="b" cx="120.8" cy="460.1" r="3.7"/>
<circle class="b" cx="154.2" cy="447.4" r="3.7"/>
<circle class="b" cx="149.3" cy="463.9" r="3.7"/>
<circle class="b" cx="161.3" cy="513.1" r="3.7"/>
<circle class="b" cx="168.8" cy="523.6" r="3.7"/>
<circle class="r" cx="118.9" cy="466.5" r="3.7"/>
<circle class="r" cx="139.6" cy="425" r="3.7"/>
<circle class="r" cx="151.8" cy="429.3" r="3.7"/>
<circle class="r" cx="149.1" cy="415.9" r="3.7"/>
<circle class="r" cx="144.1" cy="419.8" r="3.7"/>
<circle class="r" cx="157.4" cy="421.5" r="3.7"/>
<circle class="r" cx="141.3" cy="415.9" r="3.7"/>
<circle class="r" cx="152.5" cy="416.7" r="3.7"/>
<circle class="r" cx="163.3" cy="455.4" r="3.7"/>
<circle class="r" cx="131.6" cy="469.8" r="3.7"/>
<circle class="r" cx="125.6" cy="415.9" r="3.7"/>
<circle class="r" cx="146.8" cy="416.6" r="3.7"/>
<circle class="r" cx="145" cy="467.5" r="3.7"/>
<circle class="r" cx="122.3" cy="464.5" r="3.7"/>
<circle class="r" cx="166.1" cy="415.9" r="3.7"/>
<circle class="r" cx="162.4" cy="483.9" r="3.7"/>
<circle class="b" cx="150.4" cy="432.2" r="3.7"/>
<circle class="b" cx="154.8" cy="527.9" r="3.7"/>
<circle class="b" cx="119.9" cy="415.9" r="3.7"/>
<circle class="b" cx="143" cy="467.6" r="3.7"/>
<circle class="r" cx="127.1" cy="439.3" r="3.7"/>
<circle class="r" cx="183.6" cy="545.2" r="3.7"/>
<circle class="r" cx="149.8" cy="456.9" r="3.7"/>
<circle class="r" cx="177" cy="415.9" r="3.7"/>
<circle class="r" cx="154.6" cy="459.8" r="3.7"/>
<circle class="r" cx="139.4" cy="415.9" r="3.7"/>
<circle class="r" cx="155.1" cy="485.6" r="3.7"/>
<circle class="g" cx="228.6" cy="602.2" r="3.7"/>
<circle class="r" cx="125.4" cy="469.4" r="3.7"/>
<circle class="r" cx="160.1" cy="477.2" r="3.7"/>
<circle class="r" cx="151.4" cy="487.6" r="3.7"/>
<circle class="r" cx="150.2" cy="415.9" r="3.7"/>
<circle class="r" cx="120.6" cy="508.8" r="3.7"/>
<circle class="r" cx="208" cy="425.1" r="3.7"/>
<circle class="b" cx="193.9" cy="479.7" r="3.7"/>
<circle class="b" cx="134.4" cy="428.5" r="3.7"/>
<circle class="b" cx="125.9" cy="415.9" r="3.7"/>
<circle class="b" cx="151.6" cy="465.2" r="3.7"/>
<circle class="b" cx="159.5" cy="419.3" r="3.7"/>
<circle class="b" cx="134.1" cy="415.9" r="3.7"/>
<circle class="b" cx="173.6" cy="459.9" r="3.7"/>
<circle class="b" cx="177.9" cy="465.2" r="3.7"/>
<circle class="b" cx="133.9" cy="416.8" r="3.7"/>
<circle class="b" cx="162.1" cy="496" r="3.7"/>
<circle class="b" cx="122.4" cy="573.9" r="3.7"/>
<circle class="b" cx="139.2" cy="434.7" r="3.7"/>
<circle class="b" cx="126.2" cy="484.7" r="3.7"/>
<circle class="b" cx="131.5" cy="415.9" r="3.7"/>
<circle class="b" cx="178.4" cy="514.3" r="3.7"/>
<circle class="r" cx="145.3" cy="438.4" r="3.7"/>
<circle class="r" cx="139.7" cy="444.8" r="3.7"/>
<circle class="r" cx="133.8" cy="470" r="3.7"/>
<circle class="r" cx="148.9" cy="496.3" r="3.7"/>
<circle class="b" cx="137.1" cy="415.9" r="3.7"/>
<circle class="b" cx="122.6" cy="436.5" r="3.7"/>
<circle class="b" cx="176" cy="530.2" r="3.7"/>
<circle class="b" cx="147.9" cy="493" r="3.7"/>
<circle class="b" cx="167.2" cy="506.2" r="3.7"/>
<circle class="b" cx="163" cy="455.4" r="3.7"/>
<circle class="b" cx="149.6" cy="497.6" r="3.7"/>
<circle class="b" cx="146.4" cy="442.9" r="3.7"/>
<circle class="b" cx="122.9" cy="552.8" r="3.7"/>
<circle class="r" cx="167.7" cy="525.3" r="3.7"/>
<circle class="r" cx="158.5" cy="559.9" r="3.7"/>
<circle class="r" cx="149.7" cy="474.3" r="3.7"/>
<circle class="r" cx="123" cy="545.8" r="3.7"/>
<circle class="r" cx="156.3" cy="415.9" r="3.7"/>
<circle class="r" cx="174.1" cy="515.5" r="3.7"/>
<circle class="r" cx="171.5" cy="486.1" r="3.7"/>
<circle class="r" cx="123.4" cy="415.9" r="3.7"/>
<circle class="r" cx="147.4" cy="506.1" r="3.7"/>
<circle class="r" cx="168.9" cy="557.7" r="3.7"/>
<circle class="r" cx="153.1" cy="523.8" r="3.7"/>
<circle class="r" cx="135.1" cy="474.4" r="3.7"/>
<circle class="r" cx="133.7" cy="460.3" r="3.7"/>
<circle class="r" cx="179.5" cy="415.9" r="3.7"/>
<circle class="r" cx="141.7" cy="467.1" r="3.7"/>
<circle class="r" cx="171.8" cy="483.6" r="3.7"/>
<circle class="r" cx="141.1" cy="440.4" r="3.7"/>
<circle class="r" cx="143.7" cy="415.9" r="3.7"/>
<circle class="r" cx="133.2" cy="455.2" r="3.7"/>
<circle class="b" cx="132.6" cy="421.5" r="3.7"/>
<circle class="b" cx="133.8" cy="431.6" r="3.7"/>
<circle class="b" cx="123.8" cy="487.3" r="3.7"/>
<circle class="b" cx="157.7" cy="432" r="3.7"/>
<circle class="b" cx="129.3" cy="435.6" r="3.7"/>
<circle class="b" cx="156.2" cy="519.8" r="3.7"/>
<circle class="b" cx="151" cy="463.1" r="3.7"/>
<circle class="b" cx="134.4" cy="415.9" r="3.7"/>
<circle class="b" cx="131" cy="478.2" r="3.7"/>
<circle class="b" cx="144.2" cy="452.1" r="3.7"/>
<circle class="b" cx="167.3" cy="450.9" r="3.7"/>
<circle class="b" cx="127.3" cy="449.8" r="3.7"/>
<circle class="b" cx="124.1" cy="507.5" r="3.7"/>
<circle class="b" cx="141.5" cy="456.3" r="3.7"/>
<circle class="b" cx="141.9" cy="433.3" r="3.7"/>
<circle class="b" cx="132" cy="475.5" r="3.7"/>
<circle class="b" cx="133.5" cy="415.9" r="3.7"/>
<circle class="r" cx="160.9" cy="440.6" r="3.7"/>
<circle class="r" cx="138.4" cy="415.9" r="3.7"/>
<circle class="r" cx="124.5" cy="415.9" r="3.7"/>
<circle class="r" cx="124.2" cy="508.9" r="3.7"/>
<circle class="r" cx="124.8" cy="477.3" r="3.7"/>
<circle class="r" cx="118.7" cy="457.9" r="3.7"/>
<circle class="r" cx="198.3" cy="536.1" r="3.7"/>
<circle class="r" cx="156.5" cy="569.2" r="3.7"/>
<circle class="r" cx="164.4" cy="564.1" r="3.7"/>
<circle class="r" cx="123.4" cy="569" r="3.7"/>
<circle class="r" cx="123.2" cy="538.6" r="3.7"/>
<circle class="r" cx="118.4" cy="435.1" r="3.7"/>
<circle class="r" cx="146.4" cy="473.1" r="3.7"/>
<circle class="r" cx="160.5" cy="586.5" r="3.7"/>
<circle class="r" cx="133.7" cy="482.8" r="3.7"/>
<circle class="r" cx="172.2" cy="584" r="3.7"/>
<circle class="r" cx="196.5" cy="447.3" r="3.7"/>
<circle class="r" cx="123" cy="486.7" r="3.7"/>
<circle class="r" cx="134.7" cy="462.4" r="3.7"/>
<circle class="r" cx="116.3" cy="577.5" r="3.7"/>
<circle class="r" cx="165.3" cy="455.1" r="3.7"/>
<circle class="r" cx="143.8" cy="467.3" r="3.7"/>
<circle class="r" cx="163.7" cy="543.8" r="3.7"/>
<circle class="r" cx="136" cy="415.9" r="3.7"/>
<circle class="r" cx="121.1" cy="538.1" r="3.7"/>
<circle class="r" cx="124.4" cy="513.5" r="3.7"/>
<circle class="r" cx="124.9" cy="479.3" r="3.7"/>
<circle class="r" cx="152.8" cy="506.7" r="3.7"/>
<circle class="r" cx="160.3" cy="576.8" r="3.7"/>
<circle class="r" cx="124.2" cy="514.3" r="3.7"/>
<circle class="r" cx="120.6" cy="536.9" r="3.7"/>
<circle class="r" cx="119.9" cy="574.8" r="3.7"/>
<circle class="r" cx="152.4" cy="504.6" r="3.7"/>
<circle class="r" cx="136.6" cy="474.2" r="3.7"/>
<circle class="r" cx="133.6" cy="415.9" r="3.7"/>
<circle class="r" cx="122.9" cy="488.8" r="3.7"/>
<circle class="r" cx="358.7" cy="503.9" r="3.7"/>
<circle class="g" cx="217.2" cy="596" r="3.7"/>
<circle class="r" cx="134.3" cy="457.9" r="3.7"/>
<circle class="r" cx="281.1" cy="522.1" r="3.7"/>
<circle class="r" cx="135.3" cy="452.2" r="3.7"/>
<circle class="r" cx="117.9" cy="559.4" r="3.7"/>
<circle class="r" cx="135.3" cy="457.7" r="3.7"/>
<circle class="r" cx="152.4" cy="496.2" r="3.7"/>
<circle class="r" cx="160.6" cy="533.8" r="3.7"/>
<circle class="r" cx="148.5" cy="462.4" r="3.7"/>
<circle class="r" cx="147.2" cy="473.7" r="3.7"/>
<circle class="r" cx="153.1" cy="473.7" r="3.7"/>
<circle class="r" cx="139.1" cy="475.2" r="3.7"/>
<circle class="r" cx="116.7" cy="566.3" r="3.7"/>
<circle class="r" cx="162.3" cy="490.9" r="3.7"/>
<circle class="r" cx="125.4" cy="442.5" r="3.7"/>
<circle class="r" cx="170.4" cy="458.7" r="3.7"/>
<circle class="r" cx="116.8" cy="577.4" r="3.7"/>
<circle class="r" cx="126" cy="471.1" r="3.7"/>
<circle class="r" cx="122.7" cy="420.4" r="3.7"/>
<circle class="r" cx="143" cy="415.9" r="3.7"/>
<circle class="r" cx="148.3" cy="520.1" r="3.7"/>
<circle class="r" cx="153.8" cy="529.9" r="3.7"/>
<circle class="r" cx="136.5" cy="415.9" r="3.7"/>
<circle class="r" cx="116.4" cy="626.3" r="3.7"/>
<circle class="r" cx="167.3" cy="572" r="3.7"/>
<circle class="r" cx="165.3" cy="441.1" r="3.7"/>
<circle class="r" cx="144.7" cy="451.9" r="3.7"/>
<circle class="r" cx="180" cy="492.5" r="3.7"/>
<circle class="r" cx="167.3" cy="484.9" r="3.7"/>
<circle class="r" cx="146.2" cy="517.6" r="3.7"/>
<circle class="r" cx="147.6" cy="432" r="3.7"/>
<circle class="r" cx="116" cy="587.2" r="3.7"/>
<circle class="r" cx="162" cy="526.2" r="3.7"/>
<circle class="g" cx="220.4" cy="612" r="3.7"/>
<circle class="r" cx="129.9" cy="442.7" r="3.7"/>
<circle class="r" cx="155.8" cy="479.6" r="3.7"/>
<circle class="r" cx="191.1" cy="593.7" r="3.7"/>
<circle class="r" cx="124.2" cy="580.1" r="3.7"/>
<circle class="r" cx="121.4" cy="522.8" r="3.7"/>
<circle class="r" cx="127.7" cy="471.4" r="3.7"/>
<circle class="r" cx="130.7" cy="457.1" r="3.7"/>
<circle class="r" cx="143.3" cy="463.8" r="3.7"/>
<circle class="r" cx="137" cy="473" r="3.7"/>
<circle class="r" cx="120.4" cy="536.7" r="3.7"/>
<circle class="r" cx="134.1" cy="457.6" r="3.7"/>
<circle class="r" cx="149.4" cy="567.8" r="3.7"/>
<circle class="r" cx="135.8" cy="479.1" r="3.7"/>
<circle class="r" cx="124.5" cy="536.3" r="3.7"/>
<circle class="r" cx="123.4" cy="481" r="3.7"/>
<circle class="r" cx="118.3" cy="602.4" r="3.7"/>
<circle class="r" cx="124.1" cy="571.4" r="3.7"/>
<circle class="r" cx="180.8" cy="499.2" r="3.7"/>
<circle class="r" cx="158.1" cy="511.4" r="3.7"/>
<circle class="r" cx="133.7" cy="478" r="3.7"/>
<circle class="r" cx="151.4" cy="588.7" r="3.7"/>
<circle class="g" cx="213.3" cy="601.7" r="3.7"/>
<circle class="r" cx="163.9" cy="531.5" r="3.7"/>
<circle class="r" cx="164.8" cy="495.6" r="3.7"/>
<circle class="g" cx="214" cy="596.9" r="3.7"/>
<circle class="r" cx="152.5" cy="572.8" r="3.7"/>
<circle class="r" cx="162.4" cy="456.5" r="3.7"/>
<circle class="r" cx="130.8" cy="430.2" r="3.7"/>
<circle class="r" cx="193.7" cy="561.6" r="3.7"/>
<circle class="r" cx="154.3" cy="523.9" r="3.7"/>
<circle class="r" cx="159.9" cy="537.2" r="3.7"/>
<circle class="r" cx="173.7" cy="498.9" r="3.7"/>
<circle class="r" cx="246.6" cy="500.4" r="3.7"/>
<circle class="r" cx="145.9" cy="415.9" r="3.7"/>
<circle class="o" cx="149.7" cy="415.9" r="3.7"/>
<circle class="o" cx="115.7" cy="516.8" r="3.7"/>
<circle class="o" cx="154.3" cy="531.8" r="3.7"/>
<circle class="o" cx="156.6" cy="575.6" r="3.7"/>
<circle class="o" cx="258.9" cy="549" r="3.7"/>
<circle class="o" cx="154.4" cy="492.8" r="3.7"/>
<circle class="o" cx="122.2" cy="415.9" r="3.7"/>
<circle class="o" cx="123.6" cy="518.6" r="3.7"/>
<circle class="o" cx="138.7" cy="426.5" r="3.7"/>
<circle class="o" cx="128.4" cy="415.9" r="3.7"/>
<circle class="o" cx="142.1" cy="473.4" r="3.7"/>
<circle class="o" cx="134.8" cy="415.9" r="3.7"/>
<circle class="o" cx="116.1" cy="512" r="3.7"/>
<circle class="o" cx="147.4" cy="496" r="3.7"/>
<circle class="o" cx="166.1" cy="529.3" r="3.7"/>
<circle class="o" cx="128.2" cy="489" r="3.7"/>
<circle class="o" cx="161.2" cy="550" r="3.7"/>
<circle class="o" cx="128.7" cy="480.7" r="3.7"/>
<circle class="o" cx="116.3" cy="522.6" r="3.7"/>
<circle class="o" cx="123.4" cy="514.1" r="3.7"/>
<circle class="o" cx="139.8" cy="415.9" r="3.7"/>
<circle class="o" cx="166.7" cy="538.7" r="3.7"/>
<circle class="o" cx="163.4" cy="463.9" r="3.7"/>
<circle class="o" cx="147.2" cy="479" r="3.7"/>
<circle class="o" cx="115.7" cy="561.2" r="3.7"/>
<circle class="o" cx="157.9" cy="504.4" r="3.7"/>
<circle class="o" cx="153.1" cy="533.9" r="3.7"/>
<circle class="o" cx="157.5" cy="532.1" r="3.7"/>
<circle class="o" cx="127.4" cy="451.3" r="3.7"/>
<circle class="o" cx="147.7" cy="450.3" r="3.7"/>
<circle class="o" cx="149.3" cy="506.2" r="3.7"/>
<circle class="o" cx="121.5" cy="523.7" r="3.7"/>
<circle class="o" cx="127" cy="440.2" r="3.7"/>
<circle class="o" cx="186.9" cy="537.8" r="3.7"/>
<circle class="o" cx="129.4" cy="415.9" r="3.7"/>
<circle class="o" cx="148.4" cy="415.9" r="3.7"/>
<circle class="o" cx="147.2" cy="492.7" r="3.7"/>
<circle class="o" cx="136" cy="449.1" r="3.7"/>
<circle class="o" cx="161.8" cy="485.7" r="3.7"/>
<circle class="o" cx="156.6" cy="569.2" r="3.7"/>
<circle class="o" cx="193.5" cy="508.9" r="3.7"/>
<circle class="o" cx="169" cy="505.7" r="3.7"/>
<circle class="b" cx="151.6" cy="415.9" r="3.7"/>
<circle class="b" cx="165.7" cy="415.9" r="3.7"/>
<circle class="b" cx="156.6" cy="505" r="3.7"/>
<circle class="b" cx="117.8" cy="472.8" r="3.7"/>
<circle class="b" cx="149.2" cy="502.3" r="3.7"/>
<circle class="b" cx="144.6" cy="516.3" r="3.7"/>
<circle class="b" cx="131.7" cy="476.9" r="3.7"/>
<circle class="b" cx="127.1" cy="458.3" r="3.7"/>
<circle class="b" cx="150" cy="487.7" r="3.7"/>
<circle class="b" cx="118.1" cy="423.6" r="3.7"/>
<circle class="b" cx="140.7" cy="449.4" r="3.7"/>
<circle class="b" cx="190.1" cy="493.3" r="3.7"/>
<circle class="b" cx="123" cy="515.7" r="3.7"/>
<circle class="b" cx="124.6" cy="579.7" r="3.7"/>
<circle class="o" cx="183.8" cy="568.5" r="3.7"/>
<circle class="o" cx="133.2" cy="434" r="3.7"/>
<circle class="o" cx="134.8" cy="436.4" r="3.7"/>
<circle class="o" cx="151.7" cy="511.8" r="3.7"/>
<circle class="o" cx="147.5" cy="451.9" r="3.7"/>
<circle class="o" cx="138.9" cy="466.3" r="3.7"/>
<circle class="o" cx="126.9" cy="490" r="3.7"/>
<circle class="o" cx="124.7" cy="570.4" r="3.7"/>
<circle class="o" cx="126.2" cy="509.3" r="3.7"/>
<circle class="o" cx="121.3" cy="528.1" r="3.7"/>
<circle class="o" cx="155.3" cy="510.8" r="3.7"/>
<circle class="o" cx="198.7" cy="543" r="3.7"/>
<circle class="o" cx="154.3" cy="509.3" r="3.7"/>
<circle class="o" cx="117.2" cy="577.4" r="3.7"/>
<circle class="o" cx="142" cy="415.9" r="3.7"/>
<circle class="o" cx="169.7" cy="482.4" r="3.7"/>
<circle class="o" cx="174.2" cy="510.5" r="3.7"/>
<circle class="o" cx="153" cy="445.8" r="3.7"/>
<circle class="o" cx="166.6" cy="446.8" r="3.7"/>
<circle class="o" cx="131.4" cy="415.9" r="3.7"/>
<circle class="o" cx="148.8" cy="499.9" r="3.7"/>
<circle class="o" cx="143.3" cy="468.1" r="3.7"/>
<circle class="o" cx="124.2" cy="539.1" r="3.7"/>
<circle class="o" cx="168.8" cy="510" r="3.7"/>
<circle class="o" cx="175.8" cy="511.9" r="3.7"/>
<circle class="o" cx="194.7" cy="496.6" r="3.7"/>
<circle class="o" cx="135.7" cy="474.7" r="3.7"/>
<circle class="o" cx="140" cy="415.9" r="3.7"/>
<circle class="o" cx="195.8" cy="559.9" r="3.7"/>
<circle class="o" cx="173.8" cy="508.4" r="3.7"/>
<circle class="o" cx="140" cy="492.9" r="3.7"/>
<circle class="o" cx="160" cy="527.1" r="3.7"/>
<circle class="o" cx="159.4" cy="504.5" r="3.7"/>
<circle class="o" cx="151.9" cy="484.5" r="3.7"/>
<circle class="o" cx="160.2" cy="541.8" r="3.7"/>
<circle class="o" cx="128.1" cy="486.6" r="3.7"/>
<circle class="o" cx="161.3" cy="508.7" r="3.7"/>
<circle class="o" cx="129.7" cy="468.6" r="3.7"/>
<circle class="o" cx="148" cy="520.9" r="3.7"/>
<circle class="o" cx="159.9" cy="547.6" r="3.7"/>
<circle class="o" cx="134.4" cy="436.8" r="3.7"/>
<circle class="o" cx="121.5" cy="553.5" r="3.7"/>
<circle class="o" cx="151.3" cy="455" r="3.7"/>
<circle class="o" cx="143.9" cy="497.7" r="3.7"/>
<circle class="o" cx="144.1" cy="520.3" r="3.7"/>
<circle class="o" cx="121.1" cy="482" r="3.7"/>
<circle class="o" cx="125.5" cy="431.9" r="3.7"/>
<circle class="o" cx="158.1" cy="415.9" r="3.7"/>
<circle class="o" cx="144.4" cy="415.9" r="3.7"/>
<circle class="o" cx="135.5" cy="475.4" r="3.7"/>
<circle class="o" cx="293.7" cy="533.4" r="3.7"/>
<circle class="o" cx="177.4" cy="577.1" r="3.7"/>
<circle class="o" cx="178.4" cy="550" r="3.7"/>
<circle class="o" cx="144.4" cy="441.2" r="3.7"/>
<circle class="o" cx="151.2" cy="509.4" r="3.7"/>
<circle class="o" cx="159.3" cy="473.1" r="3.7"/>
<circle class="o" cx="161" cy="457.5" r="3.7"/>
<circle class="o" cx="130.5" cy="476.7" r="3.7"/>
<circle class="o" cx="142.3" cy="415.9" r="3.7"/>
<circle class="o" cx="176" cy="582.4" r="3.7"/>
<circle class="o" cx="126" cy="503.9" r="3.7"/>
<circle class="o" cx="118.2" cy="525.8" r="3.7"/>
<circle class="o" cx="158.8" cy="415.9" r="3.7"/>
<circle class="o" cx="158.3" cy="510.8" r="3.7"/>
<circle class="o" cx="129.5" cy="508.4" r="3.7"/>
<circle class="o" cx="135.3" cy="474.4" r="3.7"/>
<circle class="o" cx="151.2" cy="489" r="3.7"/>
<circle class="o" cx="154.1" cy="459.4" r="3.7"/>
<circle class="o" cx="151.4" cy="497.2" r="3.7"/>
<circle class="o" cx="143.7" cy="480.4" r="3.7"/>
<circle class="o" cx="170.1" cy="506.9" r="3.7"/>
<circle class="o" cx="166.9" cy="582.9" r="3.7"/>
<circle class="o" cx="150.6" cy="592.6" r="3.7"/>
<circle class="o" cx="129.5" cy="504.8" r="3.7"/>
<circle class="o" cx="125.1" cy="518" r="3.7"/>
<circle class="o" cx="145.2" cy="478.5" r="3.7"/>
<circle class="o" cx="187.4" cy="415.9" r="3.7"/>
<circle class="o" cx="131.1" cy="462" r="3.7"/>
<circle class="o" cx="139.8" cy="469.4" r="3.7"/>
<circle class="o" cx="137.7" cy="472.5" r="3.7"/>
<circle class="o" cx="179" cy="513.3" r="3.7"/>
<circle class="o" cx="171.8" cy="524.5" r="3.7"/>
<circle class="o" cx="129" cy="415.9" r="3.7"/>
<circle class="o" cx="137.3" cy="494.4" r="3.7"/>
<circle class="o" cx="178.9" cy="527" r="3.7"/>
<circle class="o" cx="159.8" cy="422.7" r="3.7"/>
<circle class="o" cx="123" cy="565.5" r="3.7"/>
<circle class="o" cx="157" cy="544" r="3.7"/>
<circle class="o" cx="199.3" cy="551.7" r="3.7"/>
<circle class="o" cx="135.4" cy="488.2" r="3.7"/>
<circle class="o" cx="144.1" cy="415.9" r="3.7"/>
<circle class="o" cx="170.1" cy="436.8" r="3.7"/>
<circle class="o" cx="148.8" cy="484.7" r="3.7"/>
<circle class="o" cx="158.9" cy="509.2" r="3.7"/>
<circle class="o" cx="117.1" cy="520.7" r="3.7"/>
<circle class="o" cx="150.7" cy="568.7" r="3.7"/>
<circle class="o" cx="133.4" cy="487.6" r="3.7"/>
<circle class="b" cx="147.3" cy="468" r="3.7"/>
<circle class="b" cx="141.3" cy="449.9" r="3.7"/>
<circle class="b" cx="140.5" cy="415.9" r="3.7"/>
<circle class="b" cx="134.3" cy="492.4" r="3.7"/>
<circle class="b" cx="150.7" cy="455" r="3.7"/>
<circle class="b" cx="145.4" cy="415.9" r="3.7"/>
<circle class="b" cx="137.5" cy="415.9" r="3.7"/>
<circle class="o" cx="118.6" cy="559" r="3.7"/>
<circle class="o" cx="146.3" cy="463.6" r="3.7"/>
<circle class="o" cx="201.1" cy="508" r="3.7"/>
<circle class="o" cx="121.7" cy="557.6" r="3.7"/>
<circle class="o" cx="164.3" cy="442.1" r="3.7"/>
<circle class="o" cx="127" cy="496.2" r="3.7"/>
<circle class="o" cx="142.9" cy="428.3" r="3.7"/>
<circle class="o" cx="126.8" cy="507.8" r="3.7"/>
<circle class="o" cx="119.1" cy="521.3" r="3.7"/>
<circle class="o" cx="151.8" cy="484.4" r="3.7"/>
<circle class="o" cx="133" cy="468.2" r="3.7"/>
<circle class="o" cx="157.6" cy="542.1" r="3.7"/>
<circle class="o" cx="138.1" cy="473.8" r="3.7"/>
<circle class="o" cx="131.4" cy="491.3" r="3.7"/>
<circle class="o" cx="184.1" cy="530.2" r="3.7"/>
<circle class="o" cx="136.1" cy="472.4" r="3.7"/>
<circle class="o" cx="121.3" cy="476.7" r="3.7"/>
<circle class="o" cx="143.9" cy="498.8" r="3.7"/>
<circle class="o" cx="118.1" cy="526.4" r="3.7"/>
<circle class="o" cx="166.3" cy="527.8" r="3.7"/>
<circle class="o" cx="151.2" cy="523" r="3.7"/>
<circle class="o" cx="124.8" cy="537.5" r="3.7"/>
<circle class="o" cx="159.8" cy="567.2" r="3.7"/>
<circle class="o" cx="125.1" cy="447.2" r="3.7"/>
<circle class="o" cx="180.4" cy="564.6" r="3.7"/>
<circle class="o" cx="149.2" cy="569" r="3.7"/>
<circle class="o" cx="155.2" cy="538.6" r="3.7"/>
<circle class="o" cx="145.1" cy="446.3" r="3.7"/>
<circle class="o" cx="130.4" cy="504.2" r="3.7"/>
<circle class="o" cx="150.8" cy="559.5" r="3.7"/>
<circle class="o" cx="143.1" cy="491.9" r="3.7"/>
<circle class="o" cx="122.4" cy="516.5" r="3.7"/>
<circle class="o" cx="143.9" cy="415.9" r="3.7"/>
<circle class="o" cx="154.9" cy="517.3" r="3.7"/>
<circle class="o" cx="118.5" cy="428.3" r="3.7"/>
<circle class="o" cx="123.4" cy="435.1" r="3.7"/>
<circle class="o" cx="127.4" cy="415.9" r="3.7"/>
<circle class="o" cx="124.8" cy="574.5" r="3.7"/>
<circle class="o" cx="138.6" cy="487.5" r="3.7"/>
<circle class="o" cx="206.5" cy="514.4" r="3.7"/>
<circle class="o" cx="165.1" cy="518.2" r="3.7"/>
<circle class="o" cx="249.1" cy="486.4" r="3.7"/>
<circle class="o" cx="150.1" cy="546.6" r="3.7"/>
<circle class="o" cx="158.2" cy="536.2" r="3.7"/>
<circle class="o" cx="134.6" cy="501.5" r="3.7"/>
<circle class="o" cx="127.9" cy="429.9" r="3.7"/>
<circle class="o" cx="156.5" cy="524.8" r="3.7"/>
<circle class="b" cx="172" cy="472" r="3.7"/>
<circle class="b" cx="134.5" cy="498.7" r="3.7"/>
<circle class="b" cx="143.6" cy="485.9" r="3.7"/>
<circle class="b" cx="118.3" cy="544.1" r="3.7"/>
<circle class="b" cx="151.1" cy="523.5" r="3.7"/>
<circle class="b" cx="191.7" cy="526.9" r="3.7"/>
<circle class="b" cx="131.8" cy="475.7" r="3.7"/>
<circle class="o" cx="155.7" cy="448.1" r="3.7"/>
<circle class="o" cx="137.3" cy="469.2" r="3.7"/>
<circle class="o" cx="127" cy="494.4" r="3.7"/>
<circle class="o" cx="135.3" cy="442.6" r="3.7"/>
<circle class="o" cx="139.5" cy="415.9" r="3.7"/>
<circle class="g" cx="229.2" cy="601.7" r="3.7"/>
<circle class="o" cx="172.1" cy="563.1" r="3.7"/>
<circle class="o" cx="120.4" cy="446.4" r="3.7"/>
<circle class="o" cx="157.8" cy="533.6" r="3.7"/>
<circle class="o" cx="133.4" cy="466.5" r="3.7"/>
<circle class="o" cx="126.7" cy="512.8" r="3.7"/>
<circle class="o" cx="118.5" cy="587.9" r="3.7"/>
<circle class="o" cx="145.6" cy="598.9" r="3.7"/>
<circle class="o" cx="135.8" cy="497.1" r="3.7"/>
<circle class="o" cx="154.9" cy="435.7" r="3.7"/>
<circle class="o" cx="152.4" cy="455.7" r="3.7"/>
<circle class="o" cx="143.7" cy="496.8" r="3.7"/>
<circle class="o" cx="133.2" cy="501" r="3.7"/>
<circle class="o" cx="154.3" cy="492.5" r="3.7"/>
<circle class="o" cx="158" cy="490.3" r="3.7"/>
<circle class="o" cx="130.7" cy="422.1" r="3.7"/>
<circle class="o" cx="124.2" cy="497.4" r="3.7"/>
<circle class="o" cx="134.3" cy="480.7" r="3.7"/>
<circle class="o" cx="166" cy="548.7" r="3.7"/>
<circle class="o" cx="128.6" cy="440.9" r="3.7"/>
<circle class="o" cx="130.5" cy="491.1" r="3.7"/>
<circle class="o" cx="138.5" cy="494.8" r="3.7"/>
<circle class="o" cx="123.4" cy="495.7" r="3.7"/>
<circle class="o" cx="121.4" cy="513.8" r="3.7"/>
<circle class="o" cx="152.4" cy="544.1" r="3.7"/>
<circle class="o" cx="132" cy="498.1" r="3.7"/>
<circle class="o" cx="154.7" cy="503" r="3.7"/>
<circle class="o" cx="119.8" cy="591.4" r="3.7"/>
<circle class="o" cx="139.7" cy="462.1" r="3.7"/>
<circle class="o" cx="122.1" cy="565.4" r="3.7"/>
<circle class="o" cx="139.2" cy="469.1" r="3.7"/>
<circle class="o" cx="135.8" cy="444.5" r="3.7"/>
<circle class="o" cx="143.9" cy="489.1" r="3.7"/>
<circle class="o" cx="176" cy="508.1" r="3.7"/>
<circle class="o" cx="118.7" cy="586.7" r="3.7"/>
<circle class="o" cx="115.4" cy="572.2" r="3.7"/>
<circle class="o" cx="136" cy="458.2" r="3.7"/>
<circle class="o" cx="146.7" cy="530.8" r="3.7"/>
<circle class="o" cx="158.6" cy="545.1" r="3.7"/>
<circle class="o" cx="128.8" cy="499" r="3.7"/>
<circle class="o" cx="125.7" cy="415.9" r="3.7"/>
<circle class="o" cx="165.4" cy="552" r="3.7"/>
<circle class="o" cx="124.9" cy="499.9" r="3.7"/>
<circle class="o" cx="195.1" cy="507.9" r="3.7"/>
<circle class="o" cx="166.3" cy="525" r="3.7"/>
<circle class="o" cx="129" cy="490.7" r="3.7"/>
<circle class="o" cx="146.2" cy="448.8" r="3.7"/>
<circle class="o" cx="153.4" cy="514.2" r="3.7"/>
<circle class="o" cx="173.2" cy="491" r="3.7"/>
<circle class="o" cx="118.4" cy="562.7" r="3.7"/>
<circle class="o" cx="126.8" cy="419.2" r="3.7"/>
<circle class="o" cx="130.8" cy="480.4" r="3.7"/>
<circle class="o" cx="141" cy="442.5" r="3.7"/>
<circle class="o" cx="135.2" cy="490.7" r="3.7"/>
<circle class="o" cx="129.4" cy="454.7" r="3.7"/>
<circle class="o" cx="153.9" cy="499.7" r="3.7"/>
<circle class="o" cx="129" cy="459.9" r="3.7"/>
<circle class="o" cx="129.1" cy="447.1" r="3.7"/>
<circle class="o" cx="126.8" cy="488.6" r="3.7"/>
<circle class="o" cx="129.8" cy="446.1" r="3.7"/>
<circle class="o" cx="148.5" cy="474.9" r="3.7"/>
<circle class="o" cx="145" cy="495.7" r="3.7"/>
<circle class="o" cx="130.5" cy="415.9" r="3.7"/>
<circle class="o" cx="150.2" cy="426.4" r="3.7"/>
<circle class="o" cx="194.9" cy="521.9" r="3.7"/>
<circle class="o" cx="141.9" cy="557.7" r="3.7"/>
<circle class="o" cx="168" cy="520.6" r="3.7"/>
<circle class="o" cx="148.4" cy="430.3" r="3.7"/>
<circle class="b" cx="135.2" cy="485.5" r="3.7"/>
<circle class="b" cx="125.5" cy="454" r="3.7"/>
<circle class="b" cx="117.3" cy="523.2" r="3.7"/>
<circle class="b" cx="124.9" cy="514.7" r="3.7"/>
<circle class="o" cx="173" cy="489.9" r="3.7"/>
<circle class="o" cx="129.8" cy="494.7" r="3.7"/>
<circle class="o" cx="123.9" cy="474.7" r="3.7"/>
<circle class="o" cx="150" cy="531.7" r="3.7"/>
<circle class="o" cx="137.5" cy="438.4" r="3.7"/>
<circle class="o" cx="116.9" cy="577.3" r="3.7"/>
<circle class="o" cx="143.6" cy="444.6" r="3.7"/>
<circle class="o" cx="131.2" cy="482.3" r="3.7"/>
<circle class="o" cx="117.2" cy="528.9" r="3.7"/>
<circle class="o" cx="167.9" cy="549.2" r="3.7"/>
<circle class="o" cx="124.9" cy="484.5" r="3.7"/>
<circle class="o" cx="173.7" cy="541" r="3.7"/>
<circle class="o" cx="162.2" cy="566.3" r="3.7"/>
<circle class="o" cx="138.3" cy="463.6" r="3.7"/>
<circle class="o" cx="154.6" cy="474.2" r="3.7"/>
<circle class="o" cx="128.6" cy="511.2" r="3.7"/>
<circle class="o" cx="135.5" cy="470.5" r="3.7"/>
<circle class="o" cx="133.2" cy="505.2" r="3.7"/>
<circle class="o" cx="158.3" cy="455" r="3.7"/>
<circle class="o" cx="122.3" cy="503.9" r="3.7"/>
<circle class="o" cx="153.1" cy="530.3" r="3.7"/>
<circle class="o" cx="195.4" cy="536.2" r="3.7"/>
<circle class="o" cx="147.3" cy="490" r="3.7"/>
<circle class="o" cx="129.5" cy="435.7" r="3.7"/>
<circle class="o" cx="146.4" cy="477.2" r="3.7"/>
<circle class="o" cx="158" cy="478.8" r="3.7"/>
<circle class="o" cx="136.6" cy="483.5" r="3.7"/>
<circle class="o" cx="144.6" cy="483.9" r="3.7"/>
<circle class="o" cx="156.4" cy="561.4" r="3.7"/>
<circle class="o" cx="126.5" cy="470.3" r="3.7"/>
<circle class="o" cx="138.5" cy="452.8" r="3.7"/>
<circle class="o" cx="139.4" cy="467.1" r="3.7"/>
<circle class="o" cx="121" cy="460.3" r="3.7"/>
<circle class="o" cx="129.8" cy="509.7" r="3.7"/>
<circle class="o" cx="137.7" cy="514.4" r="3.7"/>
<circle class="o" cx="122.5" cy="521.6" r="3.7"/>
<circle class="o" cx="128.7" cy="472.1" r="3.7"/>
<circle class="o" cx="153.8" cy="505.4" r="3.7"/>
<circle class="o" cx="152.8" cy="513.9" r="3.7"/>
<circle class="o" cx="162.5" cy="516" r="3.7"/>
<circle class="o" cx="255.1" cy="532.4" r="3.7"/>
<circle class="o" cx="121.4" cy="527.7" r="3.7"/>
<circle class="o" cx="153.3" cy="458.4" r="3.7"/>
<circle class="o" cx="181" cy="533" r="3.7"/>
<circle class="o" cx="135.4" cy="495.3" r="3.7"/>
<circle class="o" cx="145.4" cy="513.5" r="3.7"/>
<circle class="b" cx="154.8" cy="528.6" r="3.7"/>
<circle class="b" cx="142.7" cy="518.5" r="3.7"/>
<circle class="b" cx="144.3" cy="487" r="3.7"/>
<circle class="b" cx="156.2" cy="545.8" r="3.7"/>
<circle class="b" cx="148.7" cy="443.4" r="3.7"/>
<circle class="b" cx="138.6" cy="466.6" r="3.7"/>
<circle class="b" cx="119.8" cy="486.7" r="3.7"/>
<circle class="b" cx="121.3" cy="588.7" r="3.7"/>
<circle class="b" cx="145" cy="440.6" r="3.7"/>
<circle class="b" cx="168.4" cy="563.1" r="3.7"/>
<circle class="b" cx="147.9" cy="532.3" r="3.7"/>
<circle class="b" cx="179.3" cy="582.8" r="3.7"/>
<circle class="b" cx="164.1" cy="446.8" r="3.7"/>
<circle class="b" cx="122.9" cy="569.1" r="3.7"/>
<circle class="b" cx="175.6" cy="585.3" r="3.7"/>
<circle class="o" cx="122.9" cy="509.2" r="3.7"/>
<circle class="o" cx="137" cy="495.2" r="3.7"/>
<circle class="o" cx="134.5" cy="466.8" r="3.7"/>
<circle class="o" cx="169.1" cy="545.3" r="3.7"/>
<circle class="o" cx="129.9" cy="505.3" r="3.7"/>
<circle class="o" cx="153" cy="470.7" r="3.7"/>
<circle class="o" cx="124.9" cy="415.9" r="3.7"/>
<circle class="o" cx="120.4" cy="415.9" r="3.7"/>
<circle class="o" cx="194" cy="523.4" r="3.7"/>
<circle class="o" cx="124.7" cy="507.3" r="3.7"/>
<circle class="o" cx="165.9" cy="525.1" r="3.7"/>
<circle class="o" cx="165.2" cy="487.4" r="3.7"/>
<circle class="o" cx="134.1" cy="451.6" r="3.7"/>
<circle class="o" cx="187.3" cy="415.9" r="3.7"/>
<circle class="o" cx="132.5" cy="415.9" r="3.7"/>
<circle class="o" cx="171.4" cy="415.9" r="3.7"/>
<circle class="o" cx="156.2" cy="583.5" r="3.7"/>
<circle class="o" cx="125.3" cy="566.3" r="3.7"/>
<circle class="o" cx="148.6" cy="418.8" r="3.7"/>
<circle class="o" cx="152.1" cy="415.9" r="3.7"/>
<circle class="o" cx="133.9" cy="457.7" r="3.7"/>
<circle class="o" cx="139.6" cy="492.2" r="3.7"/>
<circle class="o" cx="124.4" cy="540.7" r="3.7"/>
<circle class="o" cx="176" cy="518" r="3.7"/>
<circle class="o" cx="154.6" cy="513.4" r="3.7"/>
<circle class="o" cx="168.8" cy="546.6" r="3.7"/>
<circle class="o" cx="157.3" cy="590.5" r="3.7"/>
<circle class="o" cx="130.5" cy="479.4" r="3.7"/>
<circle class="o" cx="132.5" cy="432.5" r="3.7"/>
<circle class="b" cx="124.3" cy="547.9" r="3.7"/>
<circle class="b" cx="157.1" cy="544.6" r="3.7"/>
<circle class="b" cx="154.2" cy="505.4" r="3.7"/>
<circle class="b" cx="162.2" cy="512.5" r="3.7"/>
<circle class="b" cx="128.1" cy="480.3" r="3.7"/>
<circle class="b" cx="164.3" cy="513.9" r="3.7"/>
<circle class="o" cx="122.6" cy="594.6" r="3.7"/>
<circle class="o" cx="136.8" cy="440.3" r="3.7"/>
<circle class="o" cx="147.8" cy="543.7" r="3.7"/>
<circle class="o" cx="171.8" cy="499.6" r="3.7"/>
<circle class="o" cx="138.7" cy="510.4" r="3.7"/>
<circle class="o" cx="138.7" cy="495.8" r="3.7"/>
<circle class="o" cx="123.8" cy="524.8" r="3.7"/>
<circle class="o" cx="139.4" cy="415.9" r="3.7"/>
<circle class="o" cx="123.9" cy="576.2" r="3.7"/>
<circle class="o" cx="185.4" cy="527.9" r="3.7"/>
<circle class="o" cx="127.4" cy="415.9" r="3.7"/>
<circle class="o" cx="200.8" cy="518.1" r="3.7"/>
<circle class="o" cx="148.1" cy="565" r="3.7"/>
<circle class="o" cx="137.1" cy="512.2" r="3.7"/>
<circle class="o" cx="164.9" cy="489" r="3.7"/>
<circle class="o" cx="133.2" cy="485.9" r="3.7"/>
<circle class="o" cx="140.6" cy="427.4" r="3.7"/>
<circle class="o" cx="170.1" cy="474.3" r="3.7"/>
<circle class="o" cx="158.7" cy="544.9" r="3.7"/>
<circle class="o" cx="150.6" cy="565.2" r="3.7"/>
<circle class="o" cx="139.3" cy="483.1" r="3.7"/>
<circle class="o" cx="176.3" cy="562.9" r="3.7"/>
<circle class="o" cx="166.3" cy="518.1" r="3.7"/>
<circle class="o" cx="134.3" cy="509.1" r="3.7"/>
<circle class="o" cx="125.9" cy="521.2" r="3.7"/>
<circle class="o" cx="169.8" cy="513.6" r="3.7"/>
<circle class="o" cx="156.8" cy="555" r="3.7"/>
<circle class="o" cx="159.7" cy="493.6" r="3.7"/>
<circle class="o" cx="131.3" cy="507.1" r="3.7"/>
<circle class="o" cx="122" cy="546.5" r="3.7"/>
<circle class="o" cx="125.1" cy="491.1" r="3.7"/>
<circle class="o" cx="156" cy="596.1" r="3.7"/>
<circle class="o" cx="180.7" cy="504.2" r="3.7"/>
<circle class="o" cx="199.9" cy="542.3" r="3.7"/>
<circle class="o" cx="144.2" cy="508.4" r="3.7"/>
<circle class="o" cx="142.6" cy="519.6" r="3.7"/>
<circle class="o" cx="180" cy="511" r="3.7"/>
<circle class="o" cx="136.2" cy="423.4" r="3.7"/>
<circle class="o" cx="156.4" cy="490.1" r="3.7"/>
<circle class="o" cx="122.2" cy="458" r="3.7"/>
<circle class="o" cx="144.6" cy="443.5" r="3.7"/>
<circle class="o" cx="158.5" cy="524.3" r="3.7"/>
<circle class="o" cx="150.8" cy="525" r="3.7"/>
<circle class="o" cx="178.2" cy="528" r="3.7"/>
<circle class="o" cx="147.5" cy="415.9" r="3.7"/>
<circle class="o" cx="141.1" cy="499.5" r="3.7"/>
<circle class="o" cx="124.1" cy="542.5" r="3.7"/>
<circle class="o" cx="163.4" cy="565" r="3.7"/>
<circle class="o" cx="124.9" cy="454.4" r="3.7"/>
<circle class="o" cx="133.7" cy="509.8" r="3.7"/>
<circle class="g" cx="210.9" cy="599.1" r="3.7"/>
<circle class="o" cx="129.5" cy="524.6" r="3.7"/>
<circle class="o" cx="172.2" cy="530.5" r="3.7"/>
<circle class="o" cx="138.9" cy="489.6" r="3.7"/>
<circle class="o" cx="216.2" cy="442.5" r="3.7"/>
<circle class="o" cx="127" cy="517.2" r="3.7"/>
<circle class="o" cx="182.5" cy="484.1" r="3.7"/>
<circle class="o" cx="137.5" cy="487.4" r="3.7"/>
<circle class="o" cx="139.8" cy="497" r="3.7"/>
<circle class="o" cx="141.4" cy="462.4" r="3.7"/>
<circle class="o" cx="143.4" cy="495.8" r="3.7"/>
<circle class="o" cx="140.2" cy="501.9" r="3.7"/>
<circle class="o" cx="147.4" cy="478.8" r="3.7"/>
<circle class="o" cx="148.9" cy="467.8" r="3.7"/>
<circle class="o" cx="168.9" cy="483.1" r="3.7"/>
<circle class="o" cx="131.2" cy="527.4" r="3.7"/>
<circle class="o" cx="120" cy="535.8" r="3.7"/>
<circle class="o" cx="185.1" cy="540.5" r="3.7"/>
<circle class="o" cx="159.4" cy="441.2" r="3.7"/>
<circle class="o" cx="127.6" cy="485.5" r="3.7"/>
<circle class="o" cx="133.2" cy="510.3" r="3.7"/>
<circle class="o" cx="117.3" cy="511.1" r="3.7"/>
<circle class="o" cx="140.1" cy="415.9" r="3.7"/>
<circle class="o" cx="131.3" cy="440.9" r="3.7"/>
<circle class="o" cx="153.1" cy="538.6" r="3.7"/>
<circle class="o" cx="130.2" cy="512.3" r="3.7"/>
<circle class="b" cx="141.7" cy="497.4" r="3.7"/>
<circle class="b" cx="153" cy="553.6" r="3.7"/>
<circle class="b" cx="123.1" cy="532.7" r="3.7"/>
<circle class="b" cx="117.2" cy="465.3" r="3.7"/>
<circle class="b" cx="122.3" cy="524.3" r="3.7"/>
<circle class="b" cx="131.5" cy="486.1" r="3.7"/>
<circle class="b" cx="148.7" cy="570.6" r="3.7"/>
<circle class="b" cx="121.9" cy="559.8" r="3.7"/>
<circle class="b" cx="149.6" cy="554.8" r="3.7"/>
<circle class="b" cx="146.2" cy="516.2" r="3.7"/>
<circle class="b" cx="123.4" cy="515.5" r="3.7"/>
<circle class="b" cx="177.8" cy="519.7" r="3.7"/>
<circle class="b" cx="142.7" cy="477.3" r="3.7"/>
<circle class="b" cx="164.1" cy="544.1" r="3.7"/>
<circle class="b" cx="156.4" cy="560" r="3.7"/>
<circle class="b" cx="131.7" cy="515.7" r="3.7"/>
<circle class="b" cx="155.9" cy="550.3" r="3.7"/>
<circle class="b" cx="150.7" cy="477.9" r="3.7"/>
<circle class="b" cx="133.8" cy="494.2" r="3.7"/>
<circle class="b" cx="135.7" cy="480.6" r="3.7"/>
<circle class="b" cx="145.9" cy="510.6" r="3.7"/>
<circle class="b" cx="155.2" cy="493.2" r="3.7"/>
<circle class="b" cx="127.9" cy="513.4" r="3.7"/>
<circle class="b" cx="127" cy="529.5" r="3.7"/>
<circle class="b" cx="146.6" cy="477.1" r="3.7"/>
<circle class="b" cx="131.5" cy="460.1" r="3.7"/>
<circle class="b" cx="123.2" cy="456.9" r="3.7"/>
<circle class="b" cx="149.4" cy="522.3" r="3.7"/>
<circle class="b" cx="137.4" cy="527.1" r="3.7"/>
<circle class="b" cx="147.3" cy="419.7" r="3.7"/>
<circle class="b" cx="125.7" cy="503.6" r="3.7"/>
<circle class="b" cx="130.7" cy="507.3" r="3.7"/>
<circle class="b" cx="163.2" cy="503" r="3.7"/>
<circle class="b" cx="127.7" cy="479.9" r="3.7"/>
<circle class="b" cx="122.5" cy="500.5" r="3.7"/>
<circle class="b" cx="149.4" cy="513.1" r="3.7"/>
<circle class="b" cx="126.5" cy="516.3" r="3.7"/>
<circle class="b" cx="145.5" cy="482.4" r="3.7"/>
<circle class="b" cx="128.1" cy="470.8" r="3.7"/>
<circle class="b" cx="124.7" cy="464.2" r="3.7"/>
<circle class="b" cx="154" cy="431.7" r="3.7"/>
<circle class="b" cx="124.8" cy="465" r="3.7"/>
<circle class="b" cx="165.1" cy="501.4" r="3.7"/>
<circle class="b" cx="129.1" cy="440.2" r="3.7"/>
<circle class="b" cx="144.2" cy="415.9" r="3.7"/>
<circle class="b" cx="144.1" cy="525.9" r="3.7"/>
<circle class="b" cx="140" cy="469.8" r="3.7"/>
<circle class="b" cx="122.3" cy="558.7" r="3.7"/>
<circle class="b" cx="133.7" cy="447.2" r="3.7"/>
<circle class="o" cx="124.9" cy="471.7" r="3.7"/>
<circle class="o" cx="150.6" cy="508.5" r="3.7"/>
<circle class="o" cx="144.5" cy="493.1" r="3.7"/>
<circle class="o" cx="153.8" cy="527.1" r="3.7"/>
<circle class="o" cx="125" cy="536.8" r="3.7"/>
<circle class="o" cx="149.3" cy="499.3" r="3.7"/>
<circle class="o" cx="147.4" cy="500.9" r="3.7"/>
<circle class="o" cx="161" cy="508.3" r="3.7"/>
<circle class="o" cx="128.8" cy="510.4" r="3.7"/>
<circle class="g" cx="212.6" cy="601.2" r="3.7"/>
<circle class="o" cx="136.4" cy="445" r="3.7"/>
<circle class="o" cx="201" cy="510.9" r="3.7"/>
<circle class="o" cx="122" cy="559.6" r="3.7"/>
<circle class="o" cx="137.4" cy="484.3" r="3.7"/>
<circle class="o" cx="162.6" cy="463.5" r="3.7"/>
<circle class="o" cx="150.4" cy="551.1" r="3.7"/>
<circle class="o" cx="160.2" cy="496.3" r="3.7"/>
<circle class="o" cx="146.6" cy="505.4" r="3.7"/>
<circle class="o" cx="132.2" cy="506" r="3.7"/>
<circle class="o" cx="138.2" cy="526.2" r="3.7"/>
<circle class="o" cx="135.6" cy="517.5" r="3.7"/>
<circle class="o" cx="172" cy="568.8" r="3.7"/>
<circle class="o" cx="138.9" cy="485" r="3.7"/>
<circle class="o" cx="141.3" cy="447.6" r="3.7"/>
<circle class="o" cx="160.4" cy="508" r="3.7"/>
<circle class="o" cx="153.3" cy="594.9" r="3.7"/>
<circle class="o" cx="136.3" cy="500.4" r="3.7"/>
<circle class="o" cx="134.6" cy="467.3" r="3.7"/>
<circle class="o" cx="128.2" cy="519.6" r="3.7"/>
<circle class="o" cx="135.9" cy="415.9" r="3.7"/>
<circle class="o" cx="135.4" cy="433.3" r="3.7"/>
<circle class="o" cx="130" cy="415.9" r="3.7"/>
<circle class="o" cx="116.6" cy="513.6" r="3.7"/>
<circle class="o" cx="144" cy="451.8" r="3.7"/>
<circle class="o" cx="134.7" cy="516.6" r="3.7"/>
<circle class="o" cx="136.8" cy="517.5" r="3.7"/>
<circle class="o" cx="175.5" cy="423.6" r="3.7"/>
<circle class="o" cx="140.4" cy="525.9" r="3.7"/>
<circle class="o" cx="156.6" cy="514.3" r="3.7"/>
<circle class="o" cx="159" cy="463.1" r="3.7"/>
<circle class="o" cx="149.7" cy="569.1" r="3.7"/>
<circle class="o" cx="133.8" cy="415.9" r="3.7"/>
<circle class="o" cx="128.6" cy="496.4" r="3.7"/>
<circle class="o" cx="138.1" cy="423.1" r="3.7"/>
<circle class="o" cx="127.4" cy="532.1" r="3.7"/>
<circle class="o" cx="129.5" cy="492.3" r="3.7"/>
<circle class="o" cx="167.8" cy="536.6" r="3.7"/>
<circle class="o" cx="133.9" cy="515.9" r="3.7"/>
<circle class="o" cx="135" cy="506.1" r="3.7"/>
<circle class="o" cx="145.1" cy="512" r="3.7"/>
<circle class="o" cx="137.5" cy="519.4" r="3.7"/>
<circle class="o" cx="188.9" cy="506" r="3.7"/>
<circle class="o" cx="148.5" cy="547.8" r="3.7"/>
<circle class="o" cx="125.2" cy="537.6" r="3.7"/>
<circle class="o" cx="166.9" cy="517.5" r="3.7"/>
<circle class="o" cx="162.4" cy="497.5" r="3.7"/>
<circle class="o" cx="136.2" cy="529.4" r="3.7"/>
<circle class="o" cx="143.2" cy="524.5" r="3.7"/>
<circle class="o" cx="140.5" cy="509.1" r="3.7"/>
<circle class="o" cx="125" cy="545.6" r="3.7"/>
<circle class="o" cx="144.1" cy="529.1" r="3.7"/>
<circle class="o" cx="157.9" cy="502.7" r="3.7"/>
<circle class="o" cx="124.1" cy="524" r="3.7"/>
<circle class="o" cx="130.5" cy="522.6" r="3.7"/>
<circle class="o" cx="125.7" cy="478.8" r="3.7"/>
<circle class="o" cx="128.2" cy="515.5" r="3.7"/>
<circle class="o" cx="129" cy="488.5" r="3.7"/>
<circle class="o" cx="149.2" cy="460.6" r="3.7"/>
<circle class="o" cx="129.5" cy="415.9" r="3.7"/>
<circle class="o" cx="125.5" cy="457.8" r="3.7"/>
<circle class="o" cx="143" cy="521" r="3.7"/>
<circle class="o" cx="178.8" cy="493.4" r="3.7"/>
<circle class="o" cx="132.2" cy="415.9" r="3.7"/>
<circle class="o" cx="135.2" cy="449.7" r="3.7"/>
<circle class="o" cx="158.1" cy="567.9" r="3.7"/>
<circle class="r" cx="116.6" cy="497.4" r="3.7"/>
<circle class="r" cx="167.1" cy="524.1" r="3.7"/>
<circle class="r" cx="142.5" cy="474.2" r="3.7"/>
<circle class="r" cx="139.8" cy="499.1" r="3.7"/>
<circle class="r" cx="157.4" cy="473.1" r="3.7"/>
<circle class="r" cx="132.4" cy="494.9" r="3.7"/>
<circle class="r" cx="128" cy="486.9" r="3.7"/>
<circle class="r" cx="140" cy="415.9" r="3.7"/>
<circle class="r" cx="129.2" cy="484.5" r="3.7"/>
<circle class="r" cx="151" cy="540" r="3.7"/>
<circle class="r" cx="124.6" cy="474.3" r="3.7"/>
<circle class="r" cx="147.8" cy="572.9" r="3.7"/>
<circle class="r" cx="146.2" cy="547.4" r="3.7"/>
<circle class="r" cx="174.3" cy="481.1" r="3.7"/>
<circle class="r" cx="149.6" cy="571.4" r="3.7"/>
<circle class="r" cx="126.3" cy="494" r="3.7"/>
<circle class="r" cx="139.7" cy="527.2" r="3.7"/>
<circle class="r" cx="150.2" cy="415.9" r="3.7"/>
<circle class="r" cx="141.6" cy="511.6" r="3.7"/>
<circle class="r" cx="135.9" cy="525.4" r="3.7"/>
<circle class="r" cx="170.4" cy="556.7" r="3.7"/>
<circle class="r" cx="166.4" cy="558.6" r="3.7"/>
<circle class="r" cx="117.6" cy="573.6" r="3.7"/>
<circle class="r" cx="127" cy="425.4" r="3.7"/>
<circle class="r" cx="155.9" cy="554.9" r="3.7"/>
<circle class="r" cx="124.2" cy="466" r="3.7"/>
<circle class="r" cx="143.6" cy="506.3" r="3.7"/>
<circle class="r" cx="138.6" cy="445.4" r="3.7"/>
<circle class="r" cx="146.1" cy="502.3" r="3.7"/>
<circle class="r" cx="115.9" cy="608.6" r="3.7"/>
<circle class="r" cx="124.6" cy="567.4" r="3.7"/>
<circle class="r" cx="135.3" cy="490.8" r="3.7"/>
<circle class="r" cx="149.6" cy="551.1" r="3.7"/>
<circle class="r" cx="157" cy="552.5" r="3.7"/>
<circle class="r" cx="127.6" cy="484.6" r="3.7"/>
<circle class="r" cx="139.8" cy="446.1" r="3.7"/>
<circle class="r" cx="151" cy="503.7" r="3.7"/>
<circle class="r" cx="160.7" cy="524.3" r="3.7"/>
<circle class="r" cx="145.4" cy="535.2" r="3.7"/>
<circle class="r" cx="127.5" cy="519.6" r="3.7"/>
<circle class="r" cx="141.4" cy="503.3" r="3.7"/>
<circle class="r" cx="137.5" cy="510.8" r="3.7"/>
<circle class="r" cx="152.5" cy="538.3" r="3.7"/>
<circle class="r" cx="154.6" cy="501.6" r="3.7"/>
<circle class="r" cx="135.9" cy="502.1" r="3.7"/>
<circle class="r" cx="164" cy="542.4" r="3.7"/>
<circle class="r" cx="157" cy="459.5" r="3.7"/>
<circle class="r" cx="123.4" cy="496.6" r="3.7"/>
<circle class="r" cx="140.2" cy="501.4" r="3.7"/>
<circle class="r" cx="137.8" cy="555.9" r="3.7"/>
<circle class="r" cx="139.4" cy="533" r="3.7"/>
<circle class="r" cx="150.8" cy="571.7" r="3.7"/>
<circle class="r" cx="154.3" cy="424.7" r="3.7"/>
<circle class="r" cx="188.8" cy="495.4" r="3.7"/>
<circle class="r" cx="125.3" cy="536.9" r="3.7"/>
<circle class="r" cx="128.4" cy="529.4" r="3.7"/>
<circle class="r" cx="125" cy="542.3" r="3.7"/>
<circle class="r" cx="180.1" cy="465" r="3.7"/>
<circle class="r" cx="205.4" cy="519.3" r="3.7"/>
<circle class="r" cx="123.7" cy="534.4" r="3.7"/>
<circle class="r" cx="133.9" cy="541" r="3.7"/>
<circle class="r" cx="137.8" cy="507.3" r="3.7"/>
<circle class="r" cx="165.5" cy="449.8" r="3.7"/>
<circle class="r" cx="181.4" cy="500.6" r="3.7"/>
<circle class="r" cx="277.8" cy="415.9" r="3.7"/>
<circle class="r" cx="154.5" cy="520" r="3.7"/>
<circle class="r" cx="139.7" cy="479" r="3.7"/>
<circle class="r" cx="174.4" cy="541" r="3.7"/>
<circle class="r" cx="165.2" cy="474.9" r="3.7"/>
<circle class="r" cx="153.4" cy="559" r="3.7"/>
<circle class="r" cx="144.8" cy="491.6" r="3.7"/>
<circle class="r" cx="137.3" cy="540.3" r="3.7"/>
<circle class="r" cx="156.5" cy="567.9" r="3.7"/>
<circle class="r" cx="175.5" cy="527.3" r="3.7"/>
<circle class="r" cx="133.9" cy="514.7" r="3.7"/>
<circle class="r" cx="126.1" cy="540.7" r="3.7"/>
<circle class="r" cx="128.3" cy="481.1" r="3.7"/>
<circle class="r" cx="134.9" cy="497" r="3.7"/>
<circle class="r" cx="135.4" cy="525.6" r="3.7"/>
<circle class="r" cx="138.2" cy="498.2" r="3.7"/>
<circle class="r" cx="137.6" cy="506.1" r="3.7"/>
<circle class="r" cx="139.4" cy="497" r="3.7"/>
<circle class="r" cx="147.4" cy="487.9" r="3.7"/>
<circle class="r" cx="121.7" cy="527.4" r="3.7"/>
<circle class="r" cx="191.5" cy="527.6" r="3.7"/>
<circle class="r" cx="160.3" cy="524.5" r="3.7"/>
<circle class="r" cx="131.9" cy="530.3" r="3.7"/>
<circle class="r" cx="142.3" cy="523.2" r="3.7"/>
<circle class="r" cx="130.2" cy="542.1" r="3.7"/>
<circle class="r" cx="159.9" cy="552" r="3.7"/>
<circle class="r" cx="156.2" cy="598.7" r="3.7"/>
<circle class="r" cx="122.9" cy="522.9" r="3.7"/>
<circle class="r" cx="129.3" cy="543.6" r="3.7"/>
<circle class="r" cx="136.4" cy="532.4" r="3.7"/>
<circle class="r" cx="131.5" cy="529.5" r="3.7"/>
<circle class="r" cx="144.4" cy="531.6" r="3.7"/>
<circle class="r" cx="171" cy="516.6" r="3.7"/>
<circle class="r" cx="145.7" cy="558.8" r="3.7"/>
<circle class="r" cx="149.2" cy="525.7" r="3.7"/>
<circle class="r" cx="134.7" cy="502.5" r="3.7"/>
<circle class="r" cx="165.2" cy="563.4" r="3.7"/>
<circle class="r" cx="190.6" cy="524.9" r="3.7"/>
<circle class="r" cx="147.5" cy="557.6" r="3.7"/>
<circle class="r" cx="153.5" cy="432.4" r="3.7"/>
<circle class="r" cx="268.3" cy="439.5" r="3.7"/>
<circle class="r" cx="126.8" cy="504.4" r="3.7"/>
<circle class="r" cx="143.8" cy="532.6" r="3.7"/>
<circle class="r" cx="148.9" cy="566.7" r="3.7"/>
<circle class="r" cx="145.4" cy="531.4" r="3.7"/>
<circle class="r" cx="164.4" cy="574.3" r="3.7"/>
<circle class="g" cx="152.8" cy="580.9" r="3.7"/>
<circle class="g" cx="136.4" cy="642.8" r="3.7"/>
<circle class="g" cx="146.9" cy="635.6" r="3.7"/>
<circle class="g" cx="149.2" cy="635.4" r="3.7"/>
<circle class="g" cx="119.5" cy="613.3" r="3.7"/>
<circle class="g" cx="121.4" cy="633.4" r="3.7"/>
<circle class="g" cx="271.3" cy="595.7" r="3.7"/>
<circle class="g" cx="172.9" cy="597" r="3.7"/>
<circle class="g" cx="116.4" cy="620.2" r="3.7"/>
<circle class="g" cx="125.1" cy="641" r="3.7"/>
<circle class="g" cx="192.2" cy="613.3" r="3.7"/>
<circle class="g" cx="175.3" cy="630.4" r="3.7"/>
<circle class="g" cx="192.8" cy="604.3" r="3.7"/>
<circle class="g" cx="154" cy="615.9" r="3.7"/>
<circle class="g" cx="150" cy="626.7" r="3.7"/>
<circle class="g" cx="171.7" cy="607.2" r="3.7"/>
<circle class="g" cx="169.9" cy="607.9" r="3.7"/>
<circle class="g" cx="166.6" cy="631.3" r="3.7"/>
<circle class="g" cx="123.4" cy="636.7" r="3.7"/>
<circle class="g" cx="164.7" cy="623.4" r="3.7"/>
<circle class="g" cx="182.1" cy="597.5" r="3.7"/>
<circle class="g" cx="156.8" cy="626" r="3.7"/>
<circle class="g" cx="141.1" cy="638.8" r="3.7"/>
<circle class="g" cx="117.9" cy="644.7" r="3.7"/>
<circle class="g" cx="122.9" cy="631.1" r="3.7"/>
<circle class="g" cx="140.8" cy="638" r="3.7"/>
<circle class="g" cx="158.5" cy="622.2" r="3.7"/>
<circle class="g" cx="154.9" cy="566" r="3.7"/>
<circle class="g" cx="139.8" cy="640.2" r="3.7"/>
<circle class="g" cx="121.9" cy="620.5" r="3.7"/>
<circle class="g" cx="120.3" cy="616.7" r="3.7"/>
<circle class="g" cx="204.7" cy="595.1" r="3.7"/>
<circle class="g" cx="240.9" cy="487.2" r="3.7"/>
<circle class="g" cx="121.9" cy="638" r="3.7"/>
<circle class="g" cx="200.3" cy="603.8" r="3.7"/>
<circle class="g" cx="151.9" cy="583.8" r="3.7"/>
<circle class="g" cx="127.8" cy="644.9" r="3.7"/>
<circle class="g" cx="121.7" cy="642" r="3.7"/>
<circle class="g" cx="147.3" cy="568.3" r="3.7"/>
<circle class="g" cx="321.8" cy="576.6" r="3.7"/>
<circle class="g" cx="186.4" cy="564.8" r="3.7"/>
<circle class="g" cx="160.6" cy="607.6" r="3.7"/>
<circle class="g" cx="216.1" cy="580.2" r="3.7"/>
<circle class="g" cx="115.6" cy="599.1" r="3.7"/>
<circle class="g" cx="122" cy="627.7" r="3.7"/>
<circle class="g" cx="155.7" cy="621.6" r="3.7"/>
<circle class="g" cx="155.3" cy="595" r="3.7"/>
<circle class="g" cx="125.4" cy="641.2" r="3.7"/>
<circle class="g" cx="214.9" cy="597.5" r="3.7"/>
<circle class="g" cx="151.3" cy="579.2" r="3.7"/>
<circle class="g" cx="286.8" cy="485.4" r="3.7"/>
<circle class="g" cx="133.3" cy="640.4" r="3.7"/>
<circle class="g" cx="160.8" cy="615.3" r="3.7"/>
<circle class="g" cx="130.8" cy="641.4" r="3.7"/>
<circle class="g" cx="127.4" cy="642.1" r="3.7"/>
<circle class="g" cx="162.6" cy="618.9" r="3.7"/>
<circle class="g" cx="160.1" cy="599.9" r="3.7"/>
<circle class="g" cx="136.6" cy="636.4" r="3.7"/>
<circle class="g" cx="128.5" cy="645.3" r="3.7"/>
<circle class="g" cx="118.8" cy="615.4" r="3.7"/>
<circle class="g" cx="124.8" cy="635.8" r="3.7"/>
<circle class="g" cx="153.6" cy="629.9" r="3.7"/>
<circle class="g" cx="123.4" cy="619.6" r="3.7"/>
<circle class="g" cx="182.4" cy="568.2" r="3.7"/>
<circle class="g" cx="139.6" cy="641.5" r="3.7"/>
<circle class="g" cx="164.7" cy="611.2" r="3.7"/>
<circle class="g" cx="145.1" cy="561.6" r="3.7"/>
<circle class="g" cx="124.7" cy="635.6" r="3.7"/>
<circle class="g" cx="160.6" cy="598" r="3.7"/>
<circle class="g" cx="136.1" cy="642.4" r="3.7"/>
<circle class="g" cx="150.3" cy="627.3" r="3.7"/>
<circle class="g" cx="179.3" cy="606.1" r="3.7"/>
<circle class="g" cx="146.3" cy="530.2" r="3.7"/>
<circle class="g" cx="129.4" cy="535.7" r="3.7"/>
<circle class="g" cx="125.6" cy="567.3" r="3.7"/>
<circle class="g" cx="250.2" cy="547.8" r="3.7"/>
<circle class="g" cx="162.8" cy="585.9" r="3.7"/>
<circle class="g" cx="126.8" cy="555.3" r="3.7"/>
<circle class="g" cx="123.7" cy="588.9" r="3.7"/>
<circle class="g" cx="118" cy="580.1" r="3.7"/>
<circle class="g" cx="171.9" cy="586.6" r="3.7"/>
<circle class="g" cx="164.3" cy="559.2" r="3.7"/>
<circle class="g" cx="156" cy="571.6" r="3.7"/>
<circle class="g" cx="152" cy="554.8" r="3.7"/>
<circle class="g" cx="127.7" cy="556.3" r="3.7"/>
<circle class="b" cx="143.8" cy="561.1" r="3.7"/>
<circle class="b" cx="154.9" cy="574" r="3.7"/>
<circle class="b" cx="157.7" cy="574.4" r="3.7"/>
<circle class="b" cx="145.8" cy="506.6" r="3.7"/>
<circle class="b" cx="148.2" cy="579" r="3.7"/>
<circle class="b" cx="137.3" cy="534.1" r="3.7"/>
<circle class="b" cx="120" cy="630.9" r="3.7"/>
<circle class="b" cx="161.1" cy="450.1" r="3.7"/>
<circle class="b" cx="145.3" cy="562.8" r="3.7"/>
<circle class="b" cx="118.8" cy="572.6" r="3.7"/>
<circle class="g" cx="117.8" cy="568.8" r="3.7"/>
<circle class="g" cx="173.5" cy="574.1" r="3.7"/>
<circle class="g" cx="152.7" cy="584.9" r="3.7"/>
<circle class="g" cx="142.2" cy="590.6" r="3.7"/>
<circle class="g" cx="153" cy="560.4" r="3.7"/>
<circle class="g" cx="122" cy="594.8" r="3.7"/>
<circle class="g" cx="143.7" cy="561.6" r="3.7"/>
<circle class="g" cx="122.6" cy="620.3" r="3.7"/>
<circle class="g" cx="125.4" cy="561.9" r="3.7"/>
<circle class="g" cx="152.1" cy="581.5" r="3.7"/>
<circle class="g" cx="192.3" cy="566.2" r="3.7"/>
<circle class="g" cx="124" cy="562.1" r="3.7"/>
<circle class="g" cx="121.2" cy="600.3" r="3.7"/>
<circle class="g" cx="117.3" cy="628.2" r="3.7"/>
<circle class="g" cx="163.8" cy="580.4" r="3.7"/>
<circle class="g" cx="147.1" cy="580.6" r="3.7"/>
<circle class="g" cx="148.1" cy="594.3" r="3.7"/>
<circle class="g" cx="161" cy="564.9" r="3.7"/>
<circle class="g" cx="177" cy="568.3" r="3.7"/>
<circle class="b" cx="172.1" cy="573.8" r="3.7"/>
<circle class="b" cx="146" cy="569.3" r="3.7"/>
<circle class="b" cx="147.8" cy="594.2" r="3.7"/>
<circle class="b" cx="162.7" cy="583.1" r="3.7"/>
<circle class="b" cx="146.1" cy="569.1" r="3.7"/>
<circle class="b" cx="172.4" cy="574.4" r="3.7"/>
<circle class="b" cx="125.7" cy="570.9" r="3.7"/>
<circle class="b" cx="149.6" cy="541.4" r="3.7"/>
<circle class="b" cx="158.4" cy="587.5" r="3.7"/>
<circle class="b" cx="143.7" cy="562.6" r="3.7"/>
<circle class="b" cx="159.4" cy="563.9" r="3.7"/>
<circle class="b" cx="165.9" cy="574.8" r="3.7"/>
<circle class="b" cx="145" cy="588.8" r="3.7"/>
<circle class="g" cx="159.2" cy="577.9" r="3.7"/>
<circle class="g" cx="115.5" cy="617.8" r="3.7"/>
<circle class="g" cx="123.6" cy="553.5" r="3.7"/>
<circle class="g" cx="216.8" cy="647.5" r="3.7"/>
<circle class="g" cx="145.8" cy="571.5" r="3.7"/>
<circle class="g" cx="178.5" cy="592.9" r="3.7"/>
<circle class="g" cx="126.9" cy="549.2" r="3.7"/>
<circle class="g" cx="153.3" cy="587.9" r="3.7"/>
<circle class="g" cx="175.3" cy="570.1" r="3.7"/>
<circle class="g" cx="116.8" cy="601.8" r="3.7"/>
<circle class="g" cx="152" cy="566" r="3.7"/>
<circle class="g" cx="122.4" cy="551.1" r="3.7"/>
<circle class="g" cx="122.6" cy="556.4" r="3.7"/>
<circle class="g" cx="148.2" cy="573.8" r="3.7"/>
<circle class="g" cx="162.5" cy="561.5" r="3.7"/>
<circle class="g" cx="134.7" cy="561.9" r="3.7"/>
<circle class="g" cx="155.2" cy="548.8" r="3.7"/>
<circle class="g" cx="151.7" cy="540.6" r="3.7"/>
<circle class="g" cx="146.4" cy="555.8" r="3.7"/>
<circle class="g" cx="144.9" cy="547.7" r="3.7"/>
<circle class="g" cx="153.7" cy="581.7" r="3.7"/>
<circle class="g" cx="124.3" cy="590.7" r="3.7"/>
<circle class="g" cx="122.7" cy="604.6" r="3.7"/>
<circle class="g" cx="171.3" cy="573.9" r="3.7"/>
<circle class="g" cx="140" cy="587.5" r="3.7"/>
<circle class="g" cx="154.1" cy="580.8" r="3.7"/>
<circle class="g" cx="144.1" cy="594.1" r="3.7"/>
<circle class="g" cx="176.9" cy="575.3" r="3.7"/>
<circle class="g" cx="155.5" cy="580.1" r="3.7"/>
<circle class="g" cx="155.7" cy="586.8" r="3.7"/>
<circle class="g" cx="136.1" cy="558.2" r="3.7"/>
<circle class="g" cx="210.7" cy="590.8" r="3.7"/>
<circle class="g" cx="158.8" cy="578" r="3.7"/>
<circle class="g" cx="144.8" cy="415.9" r="3.7"/>
<circle class="g" cx="135.1" cy="415.9" r="3.7"/>
<circle class="g" cx="160.4" cy="548.4" r="3.7"/>
<circle class="g" cx="159.3" cy="578.8" r="3.7"/>
<circle class="g" cx="146.1" cy="602.2" r="3.7"/>
<circle class="g" cx="157.4" cy="586.4" r="3.7"/>
<circle class="g" cx="153.4" cy="597.1" r="3.7"/>
<circle class="g" cx="148.6" cy="585.6" r="3.7"/>
<circle class="g" cx="165.3" cy="569.5" r="3.7"/>
<circle class="o" cx="157.5" cy="608.6" r="3.7"/>
<circle class="o" cx="142.7" cy="569.6" r="3.7"/>
<circle class="o" cx="128.3" cy="500" r="3.7"/>
<circle class="o" cx="124.4" cy="530" r="3.7"/>
<circle class="o" cx="134.5" cy="548.5" r="3.7"/>
<circle class="o" cx="144.7" cy="558.6" r="3.7"/>
<circle class="o" cx="140.6" cy="506.4" r="3.7"/>
<circle class="o" cx="158.7" cy="582" r="3.7"/>
<circle class="o" cx="132.5" cy="525.7" r="3.7"/>
<circle class="o" cx="136" cy="429.4" r="3.7"/>
<circle class="o" cx="137.9" cy="521.6" r="3.7"/>
<circle class="o" cx="150.1" cy="581" r="3.7"/>
<circle class="g" cx="220.7" cy="611.3" r="3.7"/>
<circle class="b" cx="162.1" cy="543.4" r="3.7"/>
<circle class="b" cx="202" cy="574.2" r="3.7"/>
<circle class="b" cx="160.4" cy="505.8" r="3.7"/>
<circle class="b" cx="139.5" cy="560.8" r="3.7"/>
<circle class="o" cx="189.1" cy="535.6" r="3.7"/>
<circle class="o" cx="146.7" cy="546.8" r="3.7"/>
<circle class="o" cx="138.6" cy="535.8" r="3.7"/>
<circle class="o" cx="143.4" cy="506.5" r="3.7"/>
<circle class="o" cx="124.9" cy="573" r="3.7"/>
<circle class="o" cx="125.5" cy="579.2" r="3.7"/>
<circle class="o" cx="160.1" cy="587.7" r="3.7"/>
<circle class="o" cx="174.9" cy="491.4" r="3.7"/>
<circle class="o" cx="128.2" cy="542.9" r="3.7"/>
<circle class="o" cx="144.8" cy="554.1" r="3.7"/>
<circle class="o" cx="148.4" cy="590.7" r="3.7"/>
<circle class="o" cx="165.8" cy="574.6" r="3.7"/>
<circle class="o" cx="140.4" cy="593.1" r="3.7"/>
<circle class="o" cx="144.9" cy="583.1" r="3.7"/>
<circle class="o" cx="119.9" cy="585.8" r="3.7"/>
<circle class="o" cx="174.4" cy="455.8" r="3.7"/>
<circle class="o" cx="123.7" cy="552.1" r="3.7"/>
<circle class="o" cx="146.9" cy="580.8" r="3.7"/>
<circle class="o" cx="117.6" cy="529.5" r="3.7"/>
<circle class="o" cx="130.1" cy="542.8" r="3.7"/>
<circle class="o" cx="126.1" cy="528.6" r="3.7"/>
<circle class="o" cx="126.7" cy="566.4" r="3.7"/>
<circle class="o" cx="139.3" cy="548.6" r="3.7"/>
<circle class="o" cx="171.9" cy="468.2" r="3.7"/>
<circle class="g" cx="210.9" cy="589.1" r="3.7"/>
<circle class="o" cx="141.7" cy="564.3" r="3.7"/>
<circle class="o" cx="135.4" cy="561.1" r="3.7"/>
<circle class="o" cx="158" cy="518" r="3.7"/>
<circle class="o" cx="184.2" cy="547.5" r="3.7"/>
<circle class="o" cx="177" cy="574.7" r="3.7"/>
<circle class="o" cx="116.1" cy="562.8" r="3.7"/>
<circle class="o" cx="143.6" cy="551.8" r="3.7"/>
<circle class="o" cx="141.2" cy="567.6" r="3.7"/>
<circle class="o" cx="143.9" cy="491.4" r="3.7"/>
<circle class="o" cx="145.3" cy="580.2" r="3.7"/>
<circle class="o" cx="197.5" cy="560.4" r="3.7"/>
<circle class="o" cx="143.7" cy="488.8" r="3.7"/>
<circle class="o" cx="119.5" cy="528.1" r="3.7"/>
<circle class="o" cx="127.5" cy="497.3" r="3.7"/>
<circle class="o" cx="125.8" cy="573.3" r="3.7"/>
<circle class="o" cx="159.7" cy="519.9" r="3.7"/>
<circle class="o" cx="142" cy="482" r="3.7"/>
<circle class="o" cx="120.2" cy="557.1" r="3.7"/>
<circle class="o" cx="166.3" cy="525.1" r="3.7"/>
<circle class="o" cx="166.3" cy="561.2" r="3.7"/>
<circle class="o" cx="144.3" cy="585.2" r="3.7"/>
<circle class="o" cx="143.9" cy="593.4" r="3.7"/>
<circle class="o" cx="192.5" cy="523.6" r="3.7"/>
<circle class="o" cx="291.8" cy="502.7" r="3.7"/>
<circle class="o" cx="165.4" cy="599.6" r="3.7"/>
<circle class="o" cx="158.2" cy="548" r="3.7"/>
<circle class="o" cx="129.4" cy="557.4" r="3.7"/>
<circle class="o" cx="161.5" cy="536.7" r="3.7"/>
<circle class="o" cx="147.5" cy="590.2" r="3.7"/>
<circle class="o" cx="123.4" cy="571.3" r="3.7"/>
<circle class="o" cx="182" cy="567.1" r="3.7"/>
<circle class="o" cx="147.8" cy="576.6" r="3.7"/>
<circle class="o" cx="136.1" cy="499.9" r="3.7"/>
<circle class="o" cx="125.3" cy="590" r="3.7"/>
<circle class="o" cx="145.9" cy="531.8" r="3.7"/>
<circle class="o" cx="134.9" cy="546.5" r="3.7"/>
<circle class="o" cx="132.1" cy="515.4" r="3.7"/>
<circle class="b" cx="245.9" cy="529.2" r="3.7"/>
<circle class="b" cx="117.1" cy="548.6" r="3.7"/>
<circle class="b" cx="204.8" cy="507.1" r="3.7"/>
<circle class="b" cx="143.8" cy="536.6" r="3.7"/>
<circle class="b" cx="137.2" cy="559.8" r="3.7"/>
<circle class="b" cx="144.7" cy="532.9" r="3.7"/>
<circle class="b" cx="154.1" cy="576.9" r="3.7"/>
<circle class="b" cx="149.4" cy="579.2" r="3.7"/>
<circle class="b" cx="147" cy="592.2" r="3.7"/>
<circle class="b" cx="125.5" cy="593.9" r="3.7"/>
<circle class="b" cx="138.8" cy="565.8" r="3.7"/>
<circle class="b" cx="155.7" cy="415.9" r="3.7"/>
<circle class="b" cx="144" cy="439.8" r="3.7"/>
<circle class="b" cx="118.3" cy="607" r="3.7"/>
<circle class="b" cx="178.1" cy="564.3" r="3.7"/>
<circle class="b" cx="143.3" cy="573.2" r="3.7"/>
<circle class="b" cx="147.8" cy="512" r="3.7"/>
<circle class="b" cx="169.3" cy="559.6" r="3.7"/>
<circle class="b" cx="148.8" cy="567.9" r="3.7"/>
<circle class="b" cx="132.5" cy="542.2" r="3.7"/>
<circle class="b" cx="143.8" cy="568.8" r="3.7"/>
<circle class="b" cx="146" cy="502.5" r="3.7"/>
<circle class="b" cx="115.7" cy="579.2" r="3.7"/>
<circle class="b" cx="124.9" cy="544.7" r="3.7"/>
<circle class="b" cx="145.2" cy="579.3" r="3.7"/>
<circle class="g" cx="212.6" cy="592.9" r="3.7"/>
<circle class="b" cx="133.4" cy="583.3" r="3.7"/>
<circle class="b" cx="153.7" cy="599.2" r="3.7"/>
<circle class="b" cx="159.8" cy="559.5" r="3.7"/>
<circle class="b" cx="127.9" cy="498" r="3.7"/>
<circle class="b" cx="158.5" cy="565.2" r="3.7"/>
<circle class="b" cx="144.4" cy="584" r="3.7"/>
<circle class="b" cx="125.5" cy="559.1" r="3.7"/>
<circle class="b" cx="149.6" cy="492.7" r="3.7"/>
<circle class="b" cx="152" cy="533.7" r="3.7"/>
<circle class="b" cx="204.3" cy="487.2" r="3.7"/>
<circle class="o" cx="121.8" cy="539.2" r="3.7"/>
<circle class="o" cx="152.4" cy="558.4" r="3.7"/>
<circle class="o" cx="160" cy="505.3" r="3.7"/>
<circle class="o" cx="155.4" cy="498.5" r="3.7"/>
<circle class="o" cx="136.2" cy="577" r="3.7"/>
<circle class="o" cx="146.2" cy="541.8" r="3.7"/>
<circle class="o" cx="158.6" cy="535.9" r="3.7"/>
<circle class="o" cx="170.6" cy="550.7" r="3.7"/>
<circle class="o" cx="189.4" cy="581.9" r="3.7"/>
<circle class="o" cx="176.3" cy="507.1" r="3.7"/>
<circle class="o" cx="138.4" cy="485.8" r="3.7"/>
<circle class="o" cx="149.2" cy="581.4" r="3.7"/>
<circle class="o" cx="154.8" cy="574.7" r="3.7"/>
<circle class="o" cx="125.3" cy="562.2" r="3.7"/>
<circle class="o" cx="140.8" cy="574.4" r="3.7"/>
<circle class="o" cx="132.6" cy="559" r="3.7"/>
<circle class="o" cx="145.1" cy="586.9" r="3.7"/>
<circle class="o" cx="149.8" cy="523.3" r="3.7"/>
<circle class="o" cx="123.1" cy="548.7" r="3.7"/>
<circle class="o" cx="129" cy="489.8" r="3.7"/>
<circle class="o" cx="121.5" cy="537.5" r="3.7"/>
<circle class="o" cx="122.2" cy="555.2" r="3.7"/>
<circle class="o" cx="132.8" cy="478.3" r="3.7"/>
<circle class="o" cx="130.5" cy="584.4" r="3.7"/>
<circle class="o" cx="125.6" cy="572.4" r="3.7"/>
<circle class="o" cx="132.1" cy="528.4" r="3.7"/>
<circle class="o" cx="136.2" cy="575.6" r="3.7"/>
<circle class="o" cx="163.2" cy="537.1" r="3.7"/>
<circle class="o" cx="132.5" cy="578.8" r="3.7"/>
<circle class="o" cx="157.9" cy="568.3" r="3.7"/>
<circle class="o" cx="165.2" cy="509.1" r="3.7"/>
<circle class="o" cx="154.8" cy="553.4" r="3.7"/>
<circle class="o" cx="146.7" cy="542" r="3.7"/>
<circle class="b" cx="143.5" cy="543.4" r="3.7"/>
<circle class="b" cx="145.2" cy="486.4" r="3.7"/>
<circle class="b" cx="142.7" cy="534.4" r="3.7"/>
<circle class="b" cx="167.9" cy="590.4" r="3.7"/>
<circle class="b" cx="125.2" cy="543.5" r="3.7"/>
<circle class="b" cx="125.8" cy="554.1" r="3.7"/>
<circle class="b" cx="172.9" cy="487.9" r="3.7"/>
<circle class="b" cx="136.9" cy="580.5" r="3.7"/>
<circle class="b" cx="149.1" cy="529.8" r="3.7"/>
<circle class="b" cx="133.9" cy="558.8" r="3.7"/>
<circle class="b" cx="125.9" cy="573.7" r="3.7"/>
<circle class="b" cx="122.5" cy="554.5" r="3.7"/>
<circle class="b" cx="135.2" cy="538.5" r="3.7"/>
<circle class="b" cx="141.3" cy="560.8" r="3.7"/>
<circle class="o" cx="120.9" cy="607.2" r="3.7"/>
<circle class="o" cx="160.5" cy="558.6" r="3.7"/>
<circle class="o" cx="242.2" cy="551" r="3.7"/>
<circle class="o" cx="151.9" cy="591.7" r="3.7"/>
<circle class="o" cx="134.7" cy="577" r="3.7"/>
<circle class="o" cx="115.9" cy="537" r="3.7"/>
<circle class="o" cx="124.2" cy="516.9" r="3.7"/>
<circle class="o" cx="147.4" cy="521.3" r="3.7"/>
<circle class="o" cx="121.3" cy="609.4" r="3.7"/>
<circle class="o" cx="138.3" cy="566.1" r="3.7"/>
<circle class="o" cx="132.6" cy="564.3" r="3.7"/>
<circle class="o" cx="147.5" cy="562.5" r="3.7"/>
<circle class="o" cx="121.6" cy="578.5" r="3.7"/>
<circle class="o" cx="154.9" cy="550.1" r="3.7"/>
<circle class="o" cx="142.4" cy="560.5" r="3.7"/>
<circle class="o" cx="134" cy="554.3" r="3.7"/>
<circle class="o" cx="161.5" cy="567.6" r="3.7"/>
<circle class="o" cx="123.4" cy="601.7" r="3.7"/>
<circle class="o" cx="135.1" cy="566" r="3.7"/>
<circle class="o" cx="139.3" cy="589.4" r="3.7"/>
<circle class="o" cx="124.6" cy="536.4" r="3.7"/>
<circle class="o" cx="123.8" cy="554" r="3.7"/>
<circle class="o" cx="128.6" cy="547.1" r="3.7"/>
<circle class="o" cx="173.9" cy="468.8" r="3.7"/>
<circle class="o" cx="123.1" cy="611.6" r="3.7"/>
<circle class="o" cx="136.3" cy="548.8" r="3.7"/>
<circle class="o" cx="134.9" cy="582.5" r="3.7"/>
<circle class="o" cx="126.4" cy="576.2" r="3.7"/>
<circle class="o" cx="129.7" cy="531.3" r="3.7"/>
<circle class="o" cx="144.1" cy="572.6" r="3.7"/>
<circle class="o" cx="141" cy="495.8" r="3.7"/>
<circle class="o" cx="138.9" cy="528.1" r="3.7"/>
<circle class="o" cx="134.2" cy="516.9" r="3.7"/>
<circle class="o" cx="141.5" cy="582.5" r="3.7"/>
<circle class="o" cx="123.5" cy="582.1" r="3.7"/>
<circle class="b" cx="116.9" cy="603" r="3.7"/>
<circle class="b" cx="153.5" cy="595.7" r="3.7"/>
<circle class="b" cx="128" cy="576.8" r="3.7"/>
<circle class="b" cx="139.2" cy="540.9" r="3.7"/>
<circle class="b" cx="170.9" cy="494.5" r="3.7"/>
<circle class="b" cx="133.8" cy="573.7" r="3.7"/>
<circle class="b" cx="134.6" cy="567.6" r="3.7"/>
<circle class="b" cx="143.3" cy="575.1" r="3.7"/>
<circle class="b" cx="137.6" cy="583.8" r="3.7"/>
<circle class="b" cx="139.8" cy="570.4" r="3.7"/>
<circle class="b" cx="143.2" cy="581.8" r="3.7"/>
<circle class="b" cx="124.4" cy="528.4" r="3.7"/>
<circle class="o" cx="130.7" cy="589.7" r="3.7"/>
<circle class="o" cx="123.7" cy="582.6" r="3.7"/>
<circle class="o" cx="138.4" cy="569.1" r="3.7"/>
<circle class="o" cx="164.8" cy="586.3" r="3.7"/>
<circle class="o" cx="216.4" cy="530.2" r="3.7"/>
<circle class="o" cx="174.2" cy="559.8" r="3.7"/>
<circle class="o" cx="159.2" cy="585.2" r="3.7"/>
<circle class="g" cx="151.1" cy="589.4" r="3.7"/>
<circle class="g" cx="127.4" cy="638.7" r="3.7"/>
<circle class="g" cx="122.9" cy="617.5" r="3.7"/>
<circle class="g" cx="199" cy="585.8" r="3.7"/>
<circle class="g" cx="128.1" cy="590.3" r="3.7"/>
<circle class="g" cx="156" cy="589.1" r="3.7"/>
<circle class="g" cx="123.9" cy="591.1" r="3.7"/>
<circle class="g" cx="133.9" cy="587.8" r="3.7"/>
<circle class="g" cx="117.8" cy="562.5" r="3.7"/>
<circle class="g" cx="151" cy="608" r="3.7"/>
<circle class="g" cx="159.3" cy="585.9" r="3.7"/>
<circle class="g" cx="119.3" cy="627.7" r="3.7"/>
<circle class="g" cx="200.8" cy="583.4" r="3.7"/>
<circle class="g" cx="139.3" cy="575.7" r="3.7"/>
<circle class="g" cx="132.1" cy="643" r="3.7"/>
<circle class="g" cx="235.7" cy="612.3" r="3.7"/>
<circle class="g" cx="146.8" cy="583" r="3.7"/>
<circle class="g" cx="225.3" cy="602.1" r="3.7"/>
<circle class="g" cx="150.4" cy="585.1" r="3.7"/>
<circle class="g" cx="154.8" cy="606.9" r="3.7"/>
<circle class="g" cx="124.6" cy="587.2" r="3.7"/>
<circle class="g" cx="179.1" cy="596.1" r="3.7"/>
<circle class="g" cx="131.3" cy="579.1" r="3.7"/>
<circle class="g" cx="122.8" cy="593.1" r="3.7"/>
<circle class="g" cx="115.9" cy="607.2" r="3.7"/>
<circle class="g" cx="216.4" cy="590.3" r="3.7"/>
<circle class="g" cx="161.1" cy="580" r="3.7"/>
<circle class="g" cx="127.7" cy="573.5" r="3.7"/>
<circle class="g" cx="170.2" cy="556.2" r="3.7"/>
<circle class="g" cx="150.9" cy="602.7" r="3.7"/>
<circle class="g" cx="142.5" cy="585.5" r="3.7"/>
<circle class="g" cx="138.8" cy="591.6" r="3.7"/>
<circle class="g" cx="148.8" cy="588.8" r="3.7"/>
<circle class="g" cx="119.3" cy="612.6" r="3.7"/>
<circle class="g" cx="195.3" cy="582.8" r="3.7"/>
<circle class="g" cx="154.3" cy="604.2" r="3.7"/>
<circle class="g" cx="125.9" cy="581.2" r="3.7"/>
<circle class="g" cx="144.9" cy="582.2" r="3.7"/>
<circle class="g" cx="147.2" cy="626.2" r="3.7"/>
<circle class="g" cx="147.5" cy="626.3" r="3.7"/>
<circle class="g" cx="174.5" cy="572.7" r="3.7"/>
<circle class="g" cx="167.7" cy="598.3" r="3.7"/>
<circle class="g" cx="156.4" cy="608.7" r="3.7"/>
<circle class="g" cx="123.1" cy="623.2" r="3.7"/>
<circle class="g" cx="162.4" cy="600.2" r="3.7"/>
<circle class="g" cx="130.1" cy="573.3" r="3.7"/>
<circle class="g" cx="193.6" cy="584.8" r="3.7"/>
<circle class="g" cx="171.8" cy="598.7" r="3.7"/>
<circle class="g" cx="119.1" cy="607.2" r="3.7"/>
<circle class="g" cx="149" cy="573.7" r="3.7"/>
<circle class="g" cx="133.9" cy="582.9" r="3.7"/>
<circle class="g" cx="155.4" cy="570.7" r="3.7"/>
<circle class="g" cx="149.9" cy="612.6" r="3.7"/>
<circle class="g" cx="154.4" cy="598.2" r="3.7"/>
<circle class="g" cx="155.9" cy="608.2" r="3.7"/>
<circle class="g" cx="122.1" cy="608.8" r="3.7"/>
<circle class="g" cx="122.8" cy="607.3" r="3.7"/>
<circle class="g" cx="166" cy="590.9" r="3.7"/>
<circle class="g" cx="159.7" cy="601.7" r="3.7"/>
<circle class="g" cx="132" cy="568.2" r="3.7"/>
<circle class="g" cx="164.3" cy="604.9" r="3.7"/>
<circle class="g" cx="155.9" cy="550.3" r="3.7"/>
<circle class="g" cx="122.5" cy="584.2" r="3.7"/>
<circle class="g" cx="124" cy="606.4" r="3.7"/>
<circle class="g" cx="229.7" cy="603.1" r="3.7"/>
<circle class="g" cx="118.8" cy="622.5" r="3.7"/>
<circle class="g" cx="123.8" cy="595.4" r="3.7"/>
<circle class="g" cx="126.3" cy="593.6" r="3.7"/>
<circle class="g" cx="165.1" cy="606" r="3.7"/>
<circle class="g" cx="217.9" cy="593.4" r="3.7"/>
<circle class="g" cx="140.6" cy="572.1" r="3.7"/>
<circle class="g" cx="147.8" cy="602.9" r="3.7"/>
<circle class="g" cx="133.1" cy="642.8" r="3.7"/>
<circle class="g" cx="134.8" cy="585" r="3.7"/>
<circle class="g" cx="122.3" cy="599.5" r="3.7"/>
<circle class="g" cx="142" cy="575.1" r="3.7"/>
<circle class="g" cx="131.6" cy="585.4" r="3.7"/>
<circle class="g" cx="143.2" cy="633.9" r="3.7"/>
<circle class="g" cx="138.5" cy="602" r="3.7"/>
<circle class="g" cx="151.3" cy="607.2" r="3.7"/>
<circle class="g" cx="151" cy="575.1" r="3.7"/>
<circle class="g" cx="127.3" cy="591.8" r="3.7"/>
<circle class="g" cx="135.3" cy="596.5" r="3.7"/>
<circle class="g" cx="147.3" cy="600.6" r="3.7"/>
<circle class="g" cx="143.1" cy="584.2" r="3.7"/>
<circle class="g" cx="163.1" cy="600.1" r="3.7"/>
<circle class="g" cx="136.3" cy="545" r="3.7"/>
<circle class="g" cx="163.1" cy="561.1" r="3.7"/>
<circle class="g" cx="125.8" cy="634.9" r="3.7"/>
<circle class="g" cx="139.9" cy="592.4" r="3.7"/>
<circle class="g" cx="157.4" cy="616.5" r="3.7"/>
<circle class="g" cx="164.3" cy="600" r="3.7"/>
<circle class="g" cx="173.9" cy="602.6" r="3.7"/>
<circle class="g" cx="120.5" cy="613.5" r="3.7"/>
<circle class="g" cx="154.3" cy="562" r="3.7"/>
<circle class="g" cx="124.4" cy="607.9" r="3.7"/>
<circle class="g" cx="146.4" cy="618.1" r="3.7"/>
<circle class="g" cx="145.1" cy="605.7" r="3.7"/>
<circle class="g" cx="126.7" cy="587.1" r="3.7"/>
<circle class="g" cx="127.1" cy="592.7" r="3.7"/>
<circle class="g" cx="135.9" cy="588.3" r="3.7"/>
<circle class="g" cx="163.7" cy="596.4" r="3.7"/>
<circle class="g" cx="149.2" cy="605.1" r="3.7"/>
<circle class="g" cx="138.1" cy="544.3" r="3.7"/>
<circle class="g" cx="168.4" cy="608.4" r="3.7"/>
<circle class="g" cx="151" cy="620" r="3.7"/>
<circle class="g" cx="123.3" cy="604.3" r="3.7"/>
<circle class="g" cx="183.5" cy="589.7" r="3.7"/>
<circle class="g" cx="159.5" cy="542.5" r="3.7"/>
<circle class="g" cx="135.4" cy="569.7" r="3.7"/>
<circle class="g" cx="145.5" cy="616.1" r="3.7"/>
<circle class="g" cx="132" cy="593.3" r="3.7"/>
<circle class="g" cx="147.5" cy="605" r="3.7"/>
<circle class="g" cx="146.2" cy="600.1" r="3.7"/>
<circle class="g" cx="125.2" cy="552.9" r="3.7"/>
<circle class="g" cx="124.3" cy="612.3" r="3.7"/>
<circle class="g" cx="126.7" cy="636.6" r="3.7"/>
<circle class="g" cx="148.8" cy="588.2" r="3.7"/>
<circle class="g" cx="131.2" cy="548.2" r="3.7"/>
<circle class="g" cx="124.5" cy="633.6" r="3.7"/>
<circle class="g" cx="124.8" cy="568.1" r="3.7"/>
<circle class="g" cx="134.7" cy="573.1" r="3.7"/>
<circle class="g" cx="168" cy="542.7" r="3.7"/>
<circle class="g" cx="148.2" cy="581.8" r="3.7"/>
<circle class="g" cx="166.1" cy="596.5" r="3.7"/>
<circle class="g" cx="136.7" cy="595.2" r="3.7"/>
<circle class="g" cx="142.8" cy="584.6" r="3.7"/>
<circle class="g" cx="123.9" cy="617.7" r="3.7"/>
<circle class="g" cx="135.9" cy="603" r="3.7"/>
<circle class="g" cx="143.2" cy="602.4" r="3.7"/>
<circle class="g" cx="121.9" cy="624.2" r="3.7"/>
<circle class="g" cx="141.4" cy="580.3" r="3.7"/>
<circle class="g" cx="171.8" cy="577.8" r="3.7"/>
<circle class="g" cx="125.8" cy="639.5" r="3.7"/>
<circle class="g" cx="125.1" cy="595.9" r="3.7"/>
<circle class="g" cx="144.1" cy="632.4" r="3.7"/>
<circle class="g" cx="127" cy="581.2" r="3.7"/>
<circle class="g" cx="148" cy="593" r="3.7"/>
<circle class="g" cx="146.1" cy="577" r="3.7"/>
<circle class="g" cx="177.7" cy="595.3" r="3.7"/>
<circle class="g" cx="147.9" cy="616.6" r="3.7"/>
<circle class="g" cx="338.7" cy="585.2" r="3.7"/>
<circle class="g" cx="127.5" cy="584.6" r="3.7"/>
<circle class="g" cx="288" cy="595.4" r="3.7"/>
<circle class="g" cx="172" cy="593.8" r="3.7"/>
<circle class="g" cx="147.5" cy="624.1" r="3.7"/>
<circle class="g" cx="124.9" cy="606.6" r="3.7"/>
<circle class="g" cx="121.1" cy="598.4" r="3.7"/>
<circle class="g" cx="141.1" cy="584.2" r="3.7"/>
<circle class="g" cx="139" cy="605.5" r="3.7"/>
<circle class="g" cx="162.7" cy="604.7" r="3.7"/>
<circle class="g" cx="150.8" cy="602" r="3.7"/>
<circle class="g" cx="140.4" cy="598.3" r="3.7"/>
<circle class="g" cx="117.9" cy="541.2" r="3.7"/>
<circle class="g" cx="220.2" cy="592.8" r="3.7"/>
<circle class="g" cx="136.1" cy="604.2" r="3.7"/>
<circle class="g" cx="124.9" cy="608.6" r="3.7"/>
<circle class="g" cx="149.4" cy="604.3" r="3.7"/>
<circle class="g" cx="154.8" cy="612.5" r="3.7"/>
<circle class="g" cx="138.5" cy="579.5" r="3.7"/>
<circle class="g" cx="135.9" cy="584.3" r="3.7"/>
<circle class="g" cx="174.3" cy="592.4" r="3.7"/>
<circle class="g" cx="152.9" cy="597.3" r="3.7"/>
<circle class="g" cx="151.4" cy="594.7" r="3.7"/>
<circle class="g" cx="135" cy="601.4" r="3.7"/>
<circle class="g" cx="140.7" cy="591.1" r="3.7"/>
<circle class="g" cx="150.7" cy="601.6" r="3.7"/>
<circle class="g" cx="129.6" cy="594.5" r="3.7"/>
<circle class="g" cx="122.7" cy="573.6" r="3.7"/>
<circle class="g" cx="116.3" cy="605" r="3.7"/>
<circle class="g" cx="158.8" cy="611.9" r="3.7"/>
<circle class="g" cx="200.1" cy="579.5" r="3.7"/>
<circle class="g" cx="271.8" cy="543.6" r="3.7"/>
<circle class="g" cx="115.3" cy="627.3" r="3.7"/>
<circle class="g" cx="140.8" cy="605.3" r="3.7"/>
<circle class="g" cx="125.5" cy="627.1" r="3.7"/>
<circle class="g" cx="134.9" cy="619.5" r="3.7"/>
<circle class="g" cx="125.3" cy="603.7" r="3.7"/>
<circle class="g" cx="116.1" cy="621.1" r="3.7"/>
<circle class="g" cx="154.3" cy="595" r="3.7"/>
<circle class="g" cx="130.9" cy="592" r="3.7"/>
<circle class="g" cx="131.3" cy="594.4" r="3.7"/>
<circle class="g" cx="132.6" cy="595.8" r="3.7"/>
<circle class="g" cx="137.8" cy="588.2" r="3.7"/>
<circle class="g" cx="131.9" cy="641.9" r="3.7"/>
<circle class="g" cx="117.5" cy="603.8" r="3.7"/>
<circle class="g" cx="124.2" cy="626.2" r="3.7"/>
<circle class="g" cx="163.7" cy="559.2" r="3.7"/>
<circle class="g" cx="140.7" cy="594.1" r="3.7"/>
<circle class="g" cx="136.8" cy="595.9" r="3.7"/>
<circle class="g" cx="165.6" cy="591.8" r="3.7"/>
<circle class="g" cx="123.5" cy="608.7" r="3.7"/>
<circle class="g" cx="148.5" cy="629" r="3.7"/>
<circle class="g" cx="141.8" cy="594.5" r="3.7"/>
<circle class="g" cx="141.9" cy="578.6" r="3.7"/>
<circle class="g" cx="136.5" cy="607.1" r="3.7"/>
<circle class="g" cx="176.3" cy="596.6" r="3.7"/>
<circle class="g" cx="121.7" cy="600.3" r="3.7"/>
<circle class="g" cx="169.9" cy="583.9" r="3.7"/>
<circle class="g" cx="130.1" cy="600.8" r="3.7"/>
<circle class="g" cx="158.5" cy="600.9" r="3.7"/>
<circle class="g" cx="193.3" cy="598" r="3.7"/>
<circle class="g" cx="146" cy="587.5" r="3.7"/>
<circle class="g" cx="125.4" cy="604.9" r="3.7"/>
<circle class="g" cx="139.4" cy="608.3" r="3.7"/>
<circle class="g" cx="158.3" cy="593.2" r="3.7"/>
<circle class="g" cx="161" cy="600.6" r="3.7"/>
<circle class="g" cx="128.1" cy="606.9" r="3.7"/>
<circle class="g" cx="142.7" cy="614.4" r="3.7"/>
<circle class="g" cx="131" cy="608.6" r="3.7"/>
<circle class="g" cx="125" cy="614.5" r="3.7"/>
<circle class="g" cx="153.8" cy="609" r="3.7"/>
<circle class="g" cx="139.7" cy="588.7" r="3.7"/>
<circle class="g" cx="126.2" cy="596.1" r="3.7"/>
<circle class="g" cx="124.8" cy="604.2" r="3.7"/>
<circle class="g" cx="134.9" cy="603.1" r="3.7"/>
<circle class="g" cx="136.1" cy="565.7" r="3.7"/>
<circle class="g" cx="124.6" cy="630.2" r="3.7"/>
<circle class="g" cx="149.8" cy="599.6" r="3.7"/>
<circle class="g" cx="124.5" cy="600.5" r="3.7"/>
<circle class="g" cx="175.8" cy="598.6" r="3.7"/>
<circle class="g" cx="173.3" cy="604.4" r="3.7"/>
<circle class="g" cx="125" cy="627.3" r="3.7"/>
<circle class="g" cx="151" cy="602.6" r="3.7"/>
<circle class="g" cx="144.1" cy="602.6" r="3.7"/>
<circle class="g" cx="136.4" cy="594.3" r="3.7"/>
<circle class="g" cx="139.1" cy="609.9" r="3.7"/>
<circle class="g" cx="131.9" cy="600" r="3.7"/>
<circle class="g" cx="132.5" cy="587.9" r="3.7"/>
<circle class="g" cx="140.4" cy="595.5" r="3.7"/>
<circle class="g" cx="130.2" cy="608" r="3.7"/>
<circle class="g" cx="141.4" cy="616.2" r="3.7"/>
<circle class="g" cx="124.5" cy="583.3" r="3.7"/>
<circle class="g" cx="127.7" cy="597.9" r="3.7"/>
<circle class="g" cx="138.1" cy="586.9" r="3.7"/>
<circle class="g" cx="141.9" cy="600.8" r="3.7"/>
<circle class="g" cx="143.9" cy="596.6" r="3.7"/>
<circle class="g" cx="159.2" cy="591.1" r="3.7"/>
<circle class="g" cx="126.6" cy="635.8" r="3.7"/>
<circle class="g" cx="179.7" cy="549.6" r="3.7"/>
<circle class="g" cx="143.9" cy="560.7" r="3.7"/>
<circle class="g" cx="117.8" cy="609.7" r="3.7"/>
<circle class="g" cx="192.6" cy="589.4" r="3.7"/>
<circle class="g" cx="138.9" cy="600.8" r="3.7"/>
<circle class="g" cx="165.6" cy="590.1" r="3.7"/>
<circle class="g" cx="160.1" cy="603.9" r="3.7"/>
<circle class="g" cx="134.8" cy="595.9" r="3.7"/>
<circle class="g" cx="123.3" cy="641.9" r="3.7"/>
<circle class="g" cx="142.2" cy="578" r="3.7"/>
<circle class="g" cx="152.8" cy="634.7" r="3.7"/>
<circle class="g" cx="140.3" cy="623.6" r="3.7"/>
<circle class="g" cx="141.6" cy="597.9" r="3.7"/>
<circle class="g" cx="128.4" cy="594.7" r="3.7"/>
<circle class="g" cx="152.4" cy="622.1" r="3.7"/>
<circle class="g" cx="124.4" cy="622.9" r="3.7"/>
<circle class="g" cx="306.6" cy="580.8" r="3.7"/>
<circle class="g" cx="186.1" cy="607.4" r="3.7"/>
<circle class="g" cx="155.8" cy="614.7" r="3.7"/>
<circle class="g" cx="128" cy="610.9" r="3.7"/>
<circle class="g" cx="129.2" cy="640.2" r="3.7"/>
<circle class="g" cx="146.7" cy="626.3" r="3.7"/>
<circle class="g" cx="130.1" cy="641.4" r="3.7"/>
<circle class="g" cx="130" cy="638.7" r="3.7"/>
<circle class="g" cx="155.1" cy="605.9" r="3.7"/>
<circle class="g" cx="125.7" cy="629.2" r="3.7"/>
<circle class="g" cx="137.6" cy="622.1" r="3.7"/>
<circle class="g" cx="145.5" cy="631.9" r="3.7"/>
<circle class="g" cx="124.3" cy="620.3" r="3.7"/>
<circle class="g" cx="124.2" cy="634.1" r="3.7"/>
<circle class="g" cx="150.2" cy="619.6" r="3.7"/>
<circle class="g" cx="127.5" cy="636.3" r="3.7"/>
<circle class="g" cx="161" cy="613.1" r="3.7"/>
<circle class="g" cx="134.2" cy="641.4" r="3.7"/>
<circle class="g" cx="138.7" cy="635.9" r="3.7"/>
<circle class="g" cx="123.3" cy="640" r="3.7"/>
<circle class="g" cx="141.8" cy="630.9" r="3.7"/>
<circle class="g" cx="188.2" cy="590.3" r="3.7"/>
<circle class="g" cx="147.5" cy="612.9" r="3.7"/>
<circle class="g" cx="151.3" cy="617.8" r="3.7"/>
<circle class="g" cx="130.6" cy="631.9" r="3.7"/>
<circle class="g" cx="221" cy="577.7" r="3.7"/>
<circle class="g" cx="142.7" cy="615.3" r="3.7"/>
<circle class="g" cx="199.7" cy="615.8" r="3.7"/>
<circle class="g" cx="146" cy="606.2" r="3.7"/>
<circle class="g" cx="192.1" cy="589.5" r="3.7"/>
<circle class="g" cx="147.5" cy="631" r="3.7"/>
<circle class="g" cx="129.9" cy="595.6" r="3.7"/>
<circle class="g" cx="136.2" cy="633.4" r="3.7"/>
<circle class="g" cx="147.3" cy="619.6" r="3.7"/>
<circle class="g" cx="135.1" cy="610.1" r="3.7"/>
<circle class="g" cx="146.2" cy="631.6" r="3.7"/>
<circle class="g" cx="161.9" cy="623.3" r="3.7"/>
<circle class="g" cx="130.6" cy="611.7" r="3.7"/>
<circle class="g" cx="137.2" cy="636.8" r="3.7"/>
<circle class="g" cx="134.9" cy="618" r="3.7"/>
<circle class="g" cx="121.9" cy="644.1" r="3.7"/>
<circle class="g" cx="128.1" cy="611.4" r="3.7"/>
<circle class="g" cx="146.1" cy="626.4" r="3.7"/>
<circle class="g" cx="144.5" cy="606.3" r="3.7"/>
<circle class="g" cx="148.3" cy="597" r="3.7"/>
<circle class="g" cx="174.5" cy="635.4" r="3.7"/>
<circle class="g" cx="155.4" cy="617.9" r="3.7"/>
<circle class="g" cx="185.2" cy="580.8" r="3.7"/>
<circle class="g" cx="157.5" cy="622.4" r="3.7"/>
<circle class="g" cx="122.1" cy="646.2" r="3.7"/>
<circle class="g" cx="126.5" cy="647.8" r="3.7"/>
<circle class="g" cx="141.4" cy="619.6" r="3.7"/>
<circle class="g" cx="157" cy="616.1" r="3.7"/>
<circle class="g" cx="133" cy="631.5" r="3.7"/>
<circle class="g" cx="127.2" cy="640.9" r="3.7"/>
<circle class="g" cx="131.9" cy="633.2" r="3.7"/>
<circle class="g" cx="149.5" cy="553.2" r="3.7"/>
<circle class="g" cx="115.6" cy="630.7" r="3.7"/>
<circle class="g" cx="140.5" cy="567.6" r="3.7"/>
<circle class="g" cx="120.5" cy="619.5" r="3.7"/>
<circle class="g" cx="166.8" cy="617.5" r="3.7"/>
<circle class="g" cx="183.6" cy="641" r="3.7"/>
<circle class="g" cx="118.2" cy="617.5" r="3.7"/>
<circle class="g" cx="141.1" cy="625.6" r="3.7"/>
<circle class="g" cx="115.9" cy="646.8" r="3.7"/>
<circle class="g" cx="130.6" cy="628.1" r="3.7"/>
<circle class="g" cx="146.7" cy="574.8" r="3.7"/>
<circle class="g" cx="130.9" cy="598.8" r="3.7"/>
<circle class="g" cx="126.6" cy="633.9" r="3.7"/>
<circle class="g" cx="130.4" cy="626.4" r="3.7"/>
<circle class="g" cx="131.2" cy="627.9" r="3.7"/>
<circle class="g" cx="127.7" cy="608.1" r="3.7"/>
<circle class="g" cx="169.7" cy="615.9" r="3.7"/>
<circle class="g" cx="170.6" cy="595.5" r="3.7"/>
<circle class="g" cx="144.4" cy="617.1" r="3.7"/>
<circle class="g" cx="135.4" cy="587.6" r="3.7"/>
<circle class="g" cx="134" cy="628.8" r="3.7"/>
<circle class="g" cx="131.6" cy="604.7" r="3.7"/>
<circle class="g" cx="144.8" cy="620.4" r="3.7"/>
<circle class="g" cx="156.9" cy="595.8" r="3.7"/>
<circle class="g" cx="191.3" cy="603.2" r="3.7"/>
<circle class="g" cx="134.3" cy="628.6" r="3.7"/>
<circle class="g" cx="150.9" cy="608.5" r="3.7"/>
<circle class="g" cx="135.2" cy="618.2" r="3.7"/>
<circle class="g" cx="140.6" cy="624.4" r="3.7"/>
<circle class="g" cx="131.7" cy="632.6" r="3.7"/>
<circle class="g" cx="116.7" cy="643" r="3.7"/>
<circle class="g" cx="143.3" cy="620.3" r="3.7"/>
<circle class="g" cx="149" cy="591.5" r="3.7"/>
<circle class="g" cx="142.7" cy="617.1" r="3.7"/>
<circle class="g" cx="136.7" cy="598.5" r="3.7"/>
<circle class="g" cx="167.6" cy="624.9" r="3.7"/>
<circle class="g" cx="147.1" cy="588.8" r="3.7"/>
<circle class="g" cx="156.9" cy="602" r="3.7"/>
<circle class="g" cx="136.5" cy="624.7" r="3.7"/>
<circle class="g" cx="141.2" cy="631" r="3.7"/>
<circle class="g" cx="125.2" cy="623.4" r="3.7"/>
<circle class="g" cx="142.5" cy="627.6" r="3.7"/>
<circle class="g" cx="174.7" cy="574.7" r="3.7"/>
<circle class="g" cx="133.3" cy="617.7" r="3.7"/>
<circle class="g" cx="123.7" cy="618.6" r="3.7"/>
<circle class="g" cx="141.2" cy="613.1" r="3.7"/>
<circle class="g" cx="143.9" cy="604" r="3.7"/>
<circle class="g" cx="124.2" cy="625.2" r="3.7"/>
<circle class="g" cx="157.9" cy="625.8" r="3.7"/>
<circle class="g" cx="134.8" cy="627" r="3.7"/>
<circle class="g" cx="148.2" cy="625.1" r="3.7"/>
<circle class="g" cx="184.3" cy="600.4" r="3.7"/>
<circle class="g" cx="180.2" cy="594.6" r="3.7"/>
<circle class="g" cx="158.4" cy="630.7" r="3.7"/>
<circle class="g" cx="175.4" cy="593.1" r="3.7"/>
<circle class="g" cx="143.4" cy="635.5" r="3.7"/>
<circle class="g" cx="137.2" cy="619.7" r="3.7"/>
<circle class="g" cx="126.6" cy="635.6" r="3.7"/>
<circle class="g" cx="134.5" cy="603.5" r="3.7"/>
<circle class="g" cx="160.6" cy="612.5" r="3.7"/>
<circle class="g" cx="136.4" cy="624.2" r="3.7"/>
<circle class="g" cx="124.5" cy="610.8" r="3.7"/>
<circle class="g" cx="139.6" cy="637.2" r="3.7"/>
<circle class="g" cx="310.1" cy="582" r="3.7"/>
<circle class="g" cx="132.3" cy="627" r="3.7"/>
<circle class="g" cx="133.7" cy="624.3" r="3.7"/>
<circle class="g" cx="132.3" cy="613.3" r="3.7"/>
<circle class="g" cx="129.8" cy="642.1" r="3.7"/>
<circle class="g" cx="125.7" cy="634" r="3.7"/>
<circle class="g" cx="147.1" cy="629.6" r="3.7"/>
<circle class="g" cx="142.3" cy="609.8" r="3.7"/>
<circle class="g" cx="170.3" cy="592" r="3.7"/>
<circle class="g" cx="135.7" cy="616.7" r="3.7"/>
<circle class="g" cx="134.8" cy="633.1" r="3.7"/>
<circle class="g" cx="128.2" cy="613.8" r="3.7"/>
<circle class="g" cx="136.4" cy="612.7" r="3.7"/>
<circle class="g" cx="149.2" cy="620.8" r="3.7"/>
<circle class="g" cx="152.6" cy="630.2" r="3.7"/>
<circle class="g" cx="132.8" cy="615.5" r="3.7"/>
<circle class="g" cx="135.2" cy="627.2" r="3.7"/>
<circle class="g" cx="127.7" cy="628.2" r="3.7"/>
<circle class="g" cx="138.7" cy="630.8" r="3.7"/>
<circle class="g" cx="126.7" cy="637.6" r="3.7"/>
<circle class="g" cx="141.6" cy="633.2" r="3.7"/>
<circle class="g" cx="128.1" cy="625.1" r="3.7"/>
<circle class="g" cx="159.2" cy="569.4" r="3.7"/>
<circle class="g" cx="139.8" cy="636.3" r="3.7"/>
<circle class="g" cx="139.9" cy="630.7" r="3.7"/>
<circle class="g" cx="131.5" cy="619.9" r="3.7"/>
<circle class="g" cx="156.1" cy="586.5" r="3.7"/>
<circle class="g" cx="199.4" cy="608.4" r="3.7"/>
<circle class="g" cx="156.8" cy="624.7" r="3.7"/>
<circle class="g" cx="124.8" cy="585.2" r="3.7"/>
<circle class="g" cx="123.4" cy="626.7" r="3.7"/>
<circle class="g" cx="142" cy="623.7" r="3.7"/>
<circle class="g" cx="155.5" cy="637.5" r="3.7"/>
<circle class="g" cx="137.3" cy="631.1" r="3.7"/>
<circle class="g" cx="152.7" cy="635.1" r="3.7"/>
<circle class="g" cx="167.3" cy="619.5" r="3.7"/>
<circle class="g" cx="145.3" cy="638.3" r="3.7"/>
<circle class="g" cx="149.3" cy="622.7" r="3.7"/>
<circle class="g" cx="150.9" cy="619.2" r="3.7"/>
<circle class="g" cx="170" cy="614.2" r="3.7"/>
<circle class="g" cx="139.2" cy="628.8" r="3.7"/>
<circle class="g" cx="128" cy="616.2" r="3.7"/>
<circle class="g" cx="145.1" cy="622.3" r="3.7"/>
<circle class="g" cx="133.3" cy="639.7" r="3.7"/>
<circle class="g" cx="170.8" cy="594.3" r="3.7"/>
<circle class="g" cx="136.9" cy="623" r="3.7"/>
<circle class="g" cx="139.6" cy="626.3" r="3.7"/>
<circle class="g" cx="137.4" cy="593.1" r="3.7"/>
<circle class="g" cx="129.6" cy="639" r="3.7"/>
<circle class="g" cx="214.9" cy="602.9" r="3.7"/>
<circle class="g" cx="133.4" cy="639.6" r="3.7"/>
<circle class="g" cx="143.1" cy="627.3" r="3.7"/>
<circle class="g" cx="127.3" cy="636" r="3.7"/>
<circle class="g" cx="157.5" cy="608.7" r="3.7"/>
<circle class="g" cx="130.3" cy="615.3" r="3.7"/>
<circle class="g" cx="140.2" cy="595.8" r="3.7"/>
<circle class="g" cx="147.5" cy="625.9" r="3.7"/>
<circle class="g" cx="144.8" cy="624.7" r="3.7"/>
<circle class="g" cx="140" cy="617.5" r="3.7"/>
<circle class="g" cx="168.4" cy="610.8" r="3.7"/>
<circle class="g" cx="149.8" cy="614.4" r="3.7"/>
<circle class="g" cx="160.7" cy="615.2" r="3.7"/>
<circle class="g" cx="133.8" cy="639" r="3.7"/>
<circle class="g" cx="135.2" cy="638.2" r="3.7"/>
<circle class="g" cx="155.6" cy="621.9" r="3.7"/>
<circle class="g" cx="126.2" cy="624.4" r="3.7"/>
<circle class="g" cx="126.5" cy="615" r="3.7"/>
<circle class="g" cx="142" cy="626.7" r="3.7"/>
<circle class="g" cx="133.7" cy="614.3" r="3.7"/>
<circle class="g" cx="186.4" cy="587.1" r="3.7"/>
<circle class="g" cx="126" cy="628.9" r="3.7"/>
<circle class="g" cx="122.8" cy="597.2" r="3.7"/>
<circle class="g" cx="180.4" cy="607.4" r="3.7"/>
<circle class="g" cx="141.6" cy="632.4" r="3.7"/>
<circle class="g" cx="157.9" cy="623.8" r="3.7"/>
<circle class="g" cx="149.9" cy="613.8" r="3.7"/>
<circle class="g" cx="171.5" cy="596" r="3.7"/>
<circle class="g" cx="140.6" cy="627" r="3.7"/>
<circle class="g" cx="126.6" cy="614.6" r="3.7"/>
<circle class="g" cx="148.8" cy="590.7" r="3.7"/>
<circle class="g" cx="124.2" cy="619.7" r="3.7"/>
<circle class="g" cx="127.2" cy="623" r="3.7"/>
<circle class="g" cx="154.4" cy="619.4" r="3.7"/>
<circle class="g" cx="132.1" cy="630.2" r="3.7"/>
<circle class="g" cx="156.4" cy="636.2" r="3.7"/>
<circle class="g" cx="131.3" cy="602.2" r="3.7"/>
<circle class="g" cx="133" cy="638" r="3.7"/>
<circle class="g" cx="133.4" cy="623.1" r="3.7"/>
<circle class="g" cx="143.7" cy="622.4" r="3.7"/>
<circle class="g" cx="122.9" cy="613.7" r="3.7"/>
<circle class="g" cx="180.9" cy="611.7" r="3.7"/>
<circle class="g" cx="170" cy="610.5" r="3.7"/>
<circle class="g" cx="141.4" cy="608.7" r="3.7"/>
<circle class="g" cx="136.3" cy="613.3" r="3.7"/>
<circle class="g" cx="135.9" cy="596" r="3.7"/>
<circle class="g" cx="135.1" cy="635.9" r="3.7"/>
<circle class="g" cx="124.3" cy="616.2" r="3.7"/>
<circle class="g" cx="137.6" cy="591.7" r="3.7"/>
<circle class="g" cx="138.6" cy="614.2" r="3.7"/>
<circle class="g" cx="132.1" cy="599" r="3.7"/>
<circle class="g" cx="124.3" cy="608.8" r="3.7"/>
<circle class="g" cx="175.7" cy="617.1" r="3.7"/>
<circle class="g" cx="142.2" cy="605.1" r="3.7"/>
<circle class="g" cx="134.4" cy="636" r="3.7"/>
<circle class="g" cx="147.8" cy="635.4" r="3.7"/>
<circle class="g" cx="129" cy="622.3" r="3.7"/>
<circle class="g" cx="143.4" cy="613.1" r="3.7"/>
<circle class="g" cx="132.7" cy="638.2" r="3.7"/>
<circle class="g" cx="133.7" cy="611.7" r="3.7"/>
<circle class="g" cx="130.2" cy="595.4" r="3.7"/>
<circle class="o" cx="163" cy="532.9" r="3.7"/>
<circle class="o" cx="151.5" cy="527.7" r="3.7"/>
<circle class="o" cx="178.1" cy="480.9" r="3.7"/>
<circle class="o" cx="135.9" cy="551" r="3.7"/>
<circle class="o" cx="139.5" cy="515.5" r="3.7"/>
<circle class="o" cx="120.4" cy="564.5" r="3.7"/>
<circle class="o" cx="167.1" cy="476.9" r="3.7"/>
<circle class="o" cx="141.3" cy="532.2" r="3.7"/>
<circle class="o" cx="140.6" cy="560" r="3.7"/>
<circle class="o" cx="130.4" cy="570.3" r="3.7"/>
<circle class="o" cx="124.6" cy="566.3" r="3.7"/>
<circle class="o" cx="138.3" cy="539.1" r="3.7"/>
<circle class="o" cx="130.4" cy="521.4" r="3.7"/>
<circle class="o" cx="125.8" cy="544.4" r="3.7"/>
<circle class="o" cx="126.4" cy="562.6" r="3.7"/>
<circle class="o" cx="130.4" cy="524.5" r="3.7"/>
<circle class="o" cx="133.8" cy="566" r="3.7"/>
<circle class="o" cx="128.5" cy="498.7" r="3.7"/>
<circle class="o" cx="264.3" cy="485.7" r="3.7"/>
<circle class="o" cx="128.3" cy="513.3" r="3.7"/>
<circle class="o" cx="330.3" cy="529.9" r="3.7"/>
<circle class="o" cx="132.7" cy="581.5" r="3.7"/>
<circle class="o" cx="124.8" cy="531.7" r="3.7"/>
<circle class="o" cx="126.1" cy="584.8" r="3.7"/>
<circle class="o" cx="128.1" cy="565.9" r="3.7"/>
<circle class="o" cx="146.3" cy="560.5" r="3.7"/>
<circle class="o" cx="123.7" cy="563.2" r="3.7"/>
<circle class="o" cx="148.3" cy="545.8" r="3.7"/>
<circle class="o" cx="133.8" cy="522.3" r="3.7"/>
<circle class="o" cx="175.5" cy="576.4" r="3.7"/>
<circle class="o" cx="120.9" cy="560.7" r="3.7"/>
<circle class="o" cx="117.2" cy="517.3" r="3.7"/>
<circle class="o" cx="153.3" cy="503.5" r="3.7"/>
<circle class="o" cx="142.9" cy="510.7" r="3.7"/>
<circle class="o" cx="136.9" cy="569.1" r="3.7"/>
<circle class="o" cx="147.1" cy="442.2" r="3.7"/>
<circle class="o" cx="131.5" cy="549.8" r="3.7"/>
<circle class="o" cx="123.8" cy="553.5" r="3.7"/>
<circle class="r" cx="118.9" cy="537.1" r="3.7"/>
<circle class="r" cx="134.6" cy="518.5" r="3.7"/>
<circle class="r" cx="137.2" cy="521.1" r="3.7"/>
<circle class="o" cx="129.9" cy="566.4" r="3.7"/>
<circle class="o" cx="135" cy="572.1" r="3.7"/>
<circle class="o" cx="146.4" cy="531.9" r="3.7"/>
<circle class="o" cx="130.2" cy="566.1" r="3.7"/>
<circle class="o" cx="137.5" cy="556" r="3.7"/>
<circle class="o" cx="179.6" cy="512.4" r="3.7"/>
<circle class="o" cx="127.1" cy="563" r="3.7"/>
<circle class="o" cx="158.9" cy="568.6" r="3.7"/>
<circle class="o" cx="159.9" cy="552.4" r="3.7"/>
<circle class="o" cx="148.6" cy="505.9" r="3.7"/>
<circle class="o" cx="158" cy="550.9" r="3.7"/>
<circle class="o" cx="137.2" cy="517.3" r="3.7"/>
<circle class="o" cx="129" cy="569.5" r="3.7"/>
<circle class="o" cx="122.8" cy="546.3" r="3.7"/>
<circle class="o" cx="126.9" cy="496.8" r="3.7"/>
<circle class="o" cx="140.6" cy="510.1" r="3.7"/>
<circle class="o" cx="132.1" cy="557.5" r="3.7"/>
<circle class="o" cx="129.3" cy="574.3" r="3.7"/>
<circle class="o" cx="149.6" cy="552.5" r="3.7"/>
<circle class="o" cx="167.4" cy="543.5" r="3.7"/>
<circle class="o" cx="130.5" cy="576.5" r="3.7"/>
<circle class="o" cx="131.8" cy="562.8" r="3.7"/>
<circle class="o" cx="130.2" cy="544.4" r="3.7"/>
<circle class="o" cx="126.1" cy="516.7" r="3.7"/>
<circle class="o" cx="133.1" cy="548.9" r="3.7"/>
<circle class="o" cx="141.6" cy="537.9" r="3.7"/>
<circle class="o" cx="134.5" cy="537.5" r="3.7"/>
<circle class="o" cx="139.2" cy="544.5" r="3.7"/>
<circle class="o" cx="150.1" cy="541.5" r="3.7"/>
<circle class="o" cx="143.1" cy="579.3" r="3.7"/>
<circle class="o" cx="130.2" cy="574.7" r="3.7"/>
<circle class="o" cx="180.2" cy="496.8" r="3.7"/>
<circle class="o" cx="166.8" cy="490.5" r="3.7"/>
<circle class="o" cx="148.1" cy="512.3" r="3.7"/>
<circle class="o" cx="141.7" cy="541.3" r="3.7"/>
<circle class="o" cx="165.7" cy="555.1" r="3.7"/>
<circle class="o" cx="144.7" cy="551.4" r="3.7"/>
<circle class="o" cx="126.1" cy="530.4" r="3.7"/>
<circle class="o" cx="123.9" cy="477.8" r="3.7"/>
<circle class="o" cx="133" cy="533.9" r="3.7"/>
<circle class="o" cx="129.7" cy="521.3" r="3.7"/>
<circle class="o" cx="157.1" cy="510.8" r="3.7"/>
<circle class="o" cx="282.3" cy="482.4" r="3.7"/>
<circle class="o" cx="138.4" cy="579.7" r="3.7"/>
<circle class="o" cx="131.7" cy="552.1" r="3.7"/>
<circle class="o" cx="125.8" cy="549.4" r="3.7"/>
<circle class="o" cx="127.2" cy="586.5" r="3.7"/>
<circle class="o" cx="127.2" cy="573.9" r="3.7"/>
<circle class="o" cx="130.1" cy="536" r="3.7"/>
<circle class="o" cx="164.2" cy="526.2" r="3.7"/>
<circle class="o" cx="121.5" cy="512.2" r="3.7"/>
<circle class="o" cx="158.7" cy="550.2" r="3.7"/>
<circle class="o" cx="167.7" cy="533.2" r="3.7"/>
<circle class="o" cx="130.6" cy="561.4" r="3.7"/>
<circle class="o" cx="136.8" cy="554.9" r="3.7"/>
<circle class="o" cx="136.7" cy="498.9" r="3.7"/>
<circle class="o" cx="278.6" cy="498.2" r="3.7"/>
<circle class="o" cx="133.6" cy="535.5" r="3.7"/>
<circle class="o" cx="131.4" cy="553" r="3.7"/>
<circle class="o" cx="132.5" cy="555.4" r="3.7"/>
<circle class="o" cx="149.3" cy="562.3" r="3.7"/>
<circle class="o" cx="165.9" cy="551.6" r="3.7"/>
<circle class="o" cx="157.9" cy="517.2" r="3.7"/>
<circle class="o" cx="135.6" cy="556.2" r="3.7"/>
<circle class="o" cx="138.6" cy="523" r="3.7"/>
<circle class="o" cx="125.4" cy="541.2" r="3.7"/>
<circle class="o" cx="155" cy="547.1" r="3.7"/>
<circle class="o" cx="126.5" cy="561.7" r="3.7"/>
<circle class="o" cx="145.8" cy="532" r="3.7"/>
<circle class="o" cx="142.1" cy="543.7" r="3.7"/>
<circle class="o" cx="130.6" cy="547.4" r="3.7"/>
<circle class="o" cx="158.3" cy="558.1" r="3.7"/>
<circle class="o" cx="125.7" cy="483.6" r="3.7"/>
<circle class="o" cx="149.6" cy="559.8" r="3.7"/>
<circle class="o" cx="134.5" cy="576.7" r="3.7"/>
<circle class="o" cx="137.4" cy="542.8" r="3.7"/>
<circle class="o" cx="139.3" cy="508.3" r="3.7"/>
<circle class="o" cx="123.8" cy="545.8" r="3.7"/>
<circle class="o" cx="130.7" cy="580" r="3.7"/>
<circle class="o" cx="154.9" cy="521.5" r="3.7"/>
<circle class="o" cx="128.7" cy="535" r="3.7"/>
<circle class="o" cx="138.9" cy="565.1" r="3.7"/>
<circle class="o" cx="147.4" cy="566.1" r="3.7"/>
<circle class="o" cx="188" cy="546.5" r="3.7"/>
<circle class="o" cx="146.9" cy="492.8" r="3.7"/>
<circle class="o" cx="161.8" cy="514.6" r="3.7"/>
<circle class="o" cx="121.3" cy="503.1" r="3.7"/>
<circle class="o" cx="122" cy="579.8" r="3.7"/>
<circle class="o" cx="150.3" cy="494" r="3.7"/>
<circle class="o" cx="156" cy="558.7" r="3.7"/>
<circle class="o" cx="141.5" cy="540.9" r="3.7"/>
<circle class="o" cx="123.1" cy="598.4" r="3.7"/>
<circle class="o" cx="141.5" cy="532.6" r="3.7"/>
<circle class="o" cx="142.6" cy="479.1" r="3.7"/>
<circle class="o" cx="128.1" cy="533.9" r="3.7"/>
<circle class="o" cx="124.4" cy="544.7" r="3.7"/>
<circle class="o" cx="143.1" cy="547.3" r="3.7"/>
<circle class="o" cx="139.3" cy="490.4" r="3.7"/>
<circle class="o" cx="137.9" cy="551.8" r="3.7"/>
<circle class="o" cx="140.9" cy="507.9" r="3.7"/>
<circle class="o" cx="120.7" cy="562.2" r="3.7"/>
<circle class="o" cx="142.8" cy="574.1" r="3.7"/>
<circle class="o" cx="152.4" cy="536.4" r="3.7"/>
<circle class="o" cx="135.2" cy="568.3" r="3.7"/>
<circle class="o" cx="144.3" cy="552.2" r="3.7"/>
<circle class="o" cx="157.5" cy="566.9" r="3.7"/>
<circle class="o" cx="162.9" cy="505.2" r="3.7"/>
<circle class="o" cx="126" cy="488.8" r="3.7"/>
<circle class="o" cx="148.9" cy="566" r="3.7"/>
<circle class="o" cx="150.3" cy="538.9" r="3.7"/>
<circle class="o" cx="158.4" cy="533.4" r="3.7"/>
<circle class="o" cx="138.5" cy="523.4" r="3.7"/>
<circle class="o" cx="140.5" cy="549.7" r="3.7"/>
<circle class="o" cx="138.5" cy="570.6" r="3.7"/>
<circle class="o" cx="129" cy="567" r="3.7"/>
<circle class="o" cx="133.5" cy="552.9" r="3.7"/>
<circle class="o" cx="144.7" cy="542.4" r="3.7"/>
<circle class="o" cx="136.1" cy="533.9" r="3.7"/>
<circle class="o" cx="139.8" cy="495.9" r="3.7"/>
<circle class="o" cx="157.5" cy="559.7" r="3.7"/>
<circle class="o" cx="195.3" cy="506.2" r="3.7"/>
<circle class="o" cx="127.9" cy="534.8" r="3.7"/>
<circle class="o" cx="129.9" cy="562.3" r="3.7"/>
<circle class="o" cx="117" cy="526.8" r="3.7"/>
<circle class="o" cx="136.8" cy="496.1" r="3.7"/>
<circle class="o" cx="139.4" cy="544.5" r="3.7"/>
<circle class="o" cx="131.2" cy="486.2" r="3.7"/>
<circle class="o" cx="168.1" cy="553.5" r="3.7"/>
<circle class="o" cx="134.2" cy="510" r="3.7"/>
<circle class="o" cx="130.4" cy="535.6" r="3.7"/>
<circle class="o" cx="131.6" cy="531.1" r="3.7"/>
<circle class="o" cx="125.6" cy="544.9" r="3.7"/>
<circle class="o" cx="147.8" cy="502.9" r="3.7"/>
<circle class="o" cx="161.4" cy="537.6" r="3.7"/>
<circle class="o" cx="135.5" cy="590.7" r="3.7"/>
<circle class="o" cx="151.7" cy="541.8" r="3.7"/>
<circle class="o" cx="128" cy="551.5" r="3.7"/>
<circle class="o" cx="134.8" cy="519.7" r="3.7"/>
<circle class="o" cx="136.2" cy="507.3" r="3.7"/>
<circle class="o" cx="181.9" cy="539.4" r="3.7"/>
<circle class="o" cx="129.6" cy="515.5" r="3.7"/>
<circle class="o" cx="130.7" cy="524.6" r="3.7"/>
<circle class="o" cx="156.6" cy="558.5" r="3.7"/>
<circle class="o" cx="131.8" cy="562.8" r="3.7"/>
<circle class="o" cx="145.7" cy="539.8" r="3.7"/>
<circle class="o" cx="136.1" cy="504.2" r="3.7"/>
<circle class="o" cx="129.8" cy="519.6" r="3.7"/>
<circle class="o" cx="138.1" cy="537.1" r="3.7"/>
<circle class="o" cx="126.7" cy="542.6" r="3.7"/>
<circle class="o" cx="154.7" cy="537.9" r="3.7"/>
<circle class="o" cx="132.1" cy="526.3" r="3.7"/>
<circle class="o" cx="152.6" cy="537.4" r="3.7"/>
<circle class="o" cx="148.2" cy="523.7" r="3.7"/>
<circle class="o" cx="137" cy="523.5" r="3.7"/>
<circle class="o" cx="126" cy="571.1" r="3.7"/>
<circle class="o" cx="141.5" cy="518.5" r="3.7"/>
<circle class="o" cx="142.1" cy="558.8" r="3.7"/>
<circle class="o" cx="142.9" cy="537.3" r="3.7"/>
<circle class="o" cx="171.5" cy="536.3" r="3.7"/>
<circle class="o" cx="152.8" cy="536.6" r="3.7"/>
<circle class="o" cx="131.5" cy="545.1" r="3.7"/>
<circle class="o" cx="140.3" cy="524.5" r="3.7"/>
<circle class="o" cx="144.5" cy="547.2" r="3.7"/>
<circle class="o" cx="124.2" cy="550.9" r="3.7"/>
<circle class="o" cx="137.8" cy="543.2" r="3.7"/>
<circle class="o" cx="130" cy="580.5" r="3.7"/>
<circle class="o" cx="146" cy="541" r="3.7"/>
<circle class="o" cx="166" cy="489" r="3.7"/>
<circle class="o" cx="138.9" cy="564.2" r="3.7"/>
<circle class="o" cx="126.9" cy="554.6" r="3.7"/>
<circle class="o" cx="135.6" cy="521.7" r="3.7"/>
<circle class="o" cx="138.8" cy="548" r="3.7"/>
<circle class="o" cx="147.9" cy="533.8" r="3.7"/>
<circle class="o" cx="130" cy="520.6" r="3.7"/>
<circle class="o" cx="125.8" cy="543.8" r="3.7"/>
<circle class="o" cx="135.4" cy="496.5" r="3.7"/>
<circle class="o" cx="142.5" cy="504.3" r="3.7"/>
<circle class="o" cx="134.7" cy="523.2" r="3.7"/>
<circle class="o" cx="130.1" cy="557.2" r="3.7"/>
<circle class="o" cx="131" cy="531.6" r="3.7"/>
<circle class="o" cx="116.5" cy="603" r="3.7"/>
<circle class="o" cx="141.2" cy="567.9" r="3.7"/>
<circle class="o" cx="159.7" cy="539.7" r="3.7"/>
<circle class="o" cx="128.1" cy="516" r="3.7"/>
<circle class="o" cx="309.1" cy="532.4" r="3.7"/>
<circle class="o" cx="147.6" cy="521.3" r="3.7"/>
<circle class="o" cx="143.8" cy="517.6" r="3.7"/>
<circle class="o" cx="141.2" cy="562.9" r="3.7"/>
<circle class="o" cx="145.1" cy="536.8" r="3.7"/>
<circle class="o" cx="127.7" cy="587.7" r="3.7"/>
<circle class="o" cx="131.4" cy="557.5" r="3.7"/>
<circle class="o" cx="132.7" cy="484.8" r="3.7"/>
<circle class="o" cx="132.5" cy="561.5" r="3.7"/>
<circle class="o" cx="142.6" cy="514.2" r="3.7"/>
<circle class="o" cx="129.8" cy="551.7" r="3.7"/>
<circle class="o" cx="151.2" cy="537.3" r="3.7"/>
<circle class="o" cx="141.4" cy="547.3" r="3.7"/>
<circle class="o" cx="146.1" cy="578.4" r="3.7"/>
<circle class="o" cx="152.4" cy="475.8" r="3.7"/>
<circle class="g" cx="220.1" cy="586.7" r="3.7"/>
<circle class="o" cx="144.6" cy="528.6" r="3.7"/>
<circle class="o" cx="144.4" cy="552.8" r="3.7"/>
<circle class="o" cx="137.4" cy="530.1" r="3.7"/>
<circle class="o" cx="140.5" cy="541.6" r="3.7"/>
<circle class="o" cx="145.4" cy="525.7" r="3.7"/>
<circle class="o" cx="140.1" cy="548.2" r="3.7"/>
<circle class="o" cx="148.1" cy="498.1" r="3.7"/>
<circle class="o" cx="152.7" cy="524.1" r="3.7"/>
<circle class="o" cx="141.6" cy="578.3" r="3.7"/>
<circle class="o" cx="142.2" cy="585.3" r="3.7"/>
<circle class="o" cx="132.4" cy="529.8" r="3.7"/>
<circle class="o" cx="140.3" cy="558.1" r="3.7"/>
<circle class="o" cx="133" cy="551.9" r="3.7"/>
<circle class="o" cx="274.1" cy="415.9" r="3.7"/>
<circle class="o" cx="130.4" cy="557.2" r="3.7"/>
<circle class="o" cx="149.2" cy="458.8" r="3.7"/>
<circle class="o" cx="132.8" cy="535.3" r="3.7"/>
<circle class="o" cx="130.7" cy="531.3" r="3.7"/>
<circle class="o" cx="121.4" cy="502.1" r="3.7"/>
<circle class="o" cx="150" cy="547.9" r="3.7"/>
<circle class="o" cx="132.3" cy="514.6" r="3.7"/>
<circle class="o" cx="139.8" cy="559.6" r="3.7"/>
<circle class="o" cx="131.6" cy="571.1" r="3.7"/>
<circle class="o" cx="199.7" cy="533.5" r="3.7"/>
<circle class="o" cx="152.2" cy="530.5" r="3.7"/>
<circle class="o" cx="145.2" cy="512.6" r="3.7"/>
<circle class="o" cx="130.2" cy="552.1" r="3.7"/>
<circle class="o" cx="136.5" cy="500.6" r="3.7"/>
<circle class="o" cx="131.5" cy="503.9" r="3.7"/>
<circle class="o" cx="146.5" cy="533.3" r="3.7"/>
<circle class="o" cx="129" cy="528.8" r="3.7"/>
<circle class="o" cx="116.7" cy="529.4" r="3.7"/>
<circle class="o" cx="147.7" cy="513" r="3.7"/>
<circle class="o" cx="121.2" cy="561.5" r="3.7"/>
<circle class="o" cx="144" cy="553.7" r="3.7"/>
<circle class="o" cx="133.7" cy="516.7" r="3.7"/>
<circle class="o" cx="127.7" cy="553.5" r="3.7"/>
<circle class="o" cx="151.7" cy="511.8" r="3.7"/>
<circle class="o" cx="151.2" cy="522" r="3.7"/>
<circle class="o" cx="140" cy="486.6" r="3.7"/>
<circle class="o" cx="180.2" cy="537.5" r="3.7"/>
<circle class="o" cx="124.2" cy="524.6" r="3.7"/>
<circle class="o" cx="132.6" cy="555.4" r="3.7"/>
<circle class="o" cx="143" cy="537.5" r="3.7"/>
<circle class="o" cx="126.6" cy="543.5" r="3.7"/>
<circle class="r" cx="132.1" cy="581.2" r="3.7"/>
<circle class="r" cx="143.7" cy="517.1" r="3.7"/>
<circle class="r" cx="123.8" cy="502.3" r="3.7"/>
<circle class="r" cx="130.3" cy="488.4" r="3.7"/>
<circle class="r" cx="126.7" cy="577.5" r="3.7"/>
<circle class="r" cx="155.6" cy="503.8" r="3.7"/>
<circle class="r" cx="153.2" cy="559.8" r="3.7"/>
<circle class="r" cx="201.1" cy="499.8" r="3.7"/>
<circle class="r" cx="142.3" cy="514.4" r="3.7"/>
<circle class="r" cx="129.2" cy="539.2" r="3.7"/>
<circle class="r" cx="139" cy="471.2" r="3.7"/>
<circle class="r" cx="150.7" cy="544.7" r="3.7"/>
<circle class="r" cx="151.2" cy="514" r="3.7"/>
<circle class="r" cx="133" cy="581.1" r="3.7"/>
<circle class="r" cx="135.5" cy="508" r="3.7"/>
<circle class="r" cx="121.2" cy="585.8" r="3.7"/>
<circle class="r" cx="121.8" cy="529.1" r="3.7"/>
<circle class="r" cx="137.5" cy="571" r="3.7"/>
<circle class="r" cx="132.2" cy="561.7" r="3.7"/>
<circle class="r" cx="153.6" cy="553.1" r="3.7"/>
<circle class="r" cx="294.3" cy="415.9" r="3.7"/>
<circle class="r" cx="125.3" cy="573.6" r="3.7"/>
<circle class="r" cx="140.9" cy="551.9" r="3.7"/>
<circle class="r" cx="125.8" cy="502.8" r="3.7"/>
<circle class="r" cx="131.7" cy="557.5" r="3.7"/>
<circle class="r" cx="130.4" cy="572.5" r="3.7"/>
<circle class="r" cx="141.7" cy="541.7" r="3.7"/>
<circle class="r" cx="131.1" cy="520.7" r="3.7"/>
<circle class="r" cx="142.8" cy="540" r="3.7"/>
<circle class="r" cx="172.2" cy="510.3" r="3.7"/>
<circle class="r" cx="128" cy="498.2" r="3.7"/>
<circle class="r" cx="151.5" cy="535.4" r="3.7"/>
<circle class="r" cx="142.1" cy="524.5" r="3.7"/>
<circle class="r" cx="155.6" cy="486.7" r="3.7"/>
<circle class="r" cx="123.7" cy="462.5" r="3.7"/>
<circle class="r" cx="147.8" cy="494.3" r="3.7"/>
<circle class="r" cx="150.6" cy="519" r="3.7"/>
<circle class="r" cx="128.8" cy="548.8" r="3.7"/>
<circle class="r" cx="147.4" cy="518.8" r="3.7"/>
<circle class="r" cx="145" cy="431.2" r="3.7"/>
<circle class="r" cx="140.8" cy="518.1" r="3.7"/>
<circle class="r" cx="122.5" cy="561.3" r="3.7"/>
<circle class="r" cx="132.3" cy="525.9" r="3.7"/>
<circle class="r" cx="131.8" cy="563.5" r="3.7"/>
<circle class="r" cx="146.1" cy="535.7" r="3.7"/>
<circle class="r" cx="152.6" cy="512.4" r="3.7"/>
<circle class="r" cx="141.3" cy="545.9" r="3.7"/>
<circle class="r" cx="157.3" cy="511.5" r="3.7"/>
<circle class="r" cx="137.8" cy="518.7" r="3.7"/>
<circle class="r" cx="131.6" cy="558.8" r="3.7"/>
<circle class="r" cx="142.8" cy="565.9" r="3.7"/>
<circle class="r" cx="178.5" cy="518.2" r="3.7"/>
<circle class="r" cx="153.6" cy="532.3" r="3.7"/>
<circle class="r" cx="121" cy="560.1" r="3.7"/>
<circle class="r" cx="143.9" cy="551" r="3.7"/>
<circle class="r" cx="133" cy="558.2" r="3.7"/>
<circle class="r" cx="125" cy="524.7" r="3.7"/>
<circle class="r" cx="125.2" cy="558.1" r="3.7"/>
<circle class="r" cx="148.3" cy="573.4" r="3.7"/>
<circle class="o" cx="132.7" cy="539.1" r="3.7"/>
<circle class="o" cx="158.2" cy="563.3" r="3.7"/>
<circle class="o" cx="151.3" cy="525.7" r="3.7"/>
<circle class="o" cx="137.5" cy="556.4" r="3.7"/>
<circle class="o" cx="156.8" cy="540" r="3.7"/>
<circle class="o" cx="119" cy="533.3" r="3.7"/>
<circle class="o" cx="125.4" cy="568.8" r="3.7"/>
<circle class="o" cx="126.2" cy="579.2" r="3.7"/>
<circle class="o" cx="145.4" cy="523.2" r="3.7"/>
<circle class="o" cx="144.1" cy="548.3" r="3.7"/>
<circle class="o" cx="147.1" cy="553.8" r="3.7"/>
<circle class="o" cx="141.9" cy="563" r="3.7"/>
<circle class="o" cx="131.5" cy="531" r="3.7"/>
<circle class="o" cx="149.6" cy="551.1" r="3.7"/>
<circle class="o" cx="130.4" cy="508.6" r="3.7"/>
<circle class="o" cx="141.7" cy="522.7" r="3.7"/>
<circle class="o" cx="130.7" cy="560.7" r="3.7"/>
<circle class="o" cx="137.8" cy="509.4" r="3.7"/>
<circle class="o" cx="119" cy="472.1" r="3.7"/>
<circle class="o" cx="125.7" cy="509.8" r="3.7"/>
<circle class="o" cx="118.1" cy="593.4" r="3.7"/>
<circle class="o" cx="132.7" cy="525.5" r="3.7"/>
<circle class="o" cx="148.7" cy="574.8" r="3.7"/>
<circle class="o" cx="158.2" cy="468.2" r="3.7"/>
<circle class="o" cx="134.7" cy="544.7" r="3.7"/>
<circle class="o" cx="131.9" cy="534.9" r="3.7"/>
<circle class="o" cx="133.7" cy="533.2" r="3.7"/>
<circle class="o" cx="140" cy="574.3" r="3.7"/>
<circle class="o" cx="126.6" cy="521.6" r="3.7"/>
<circle class="o" cx="124" cy="551.9" r="3.7"/>
<circle class="o" cx="143.3" cy="501.7" r="3.7"/>
<circle class="o" cx="185.2" cy="511.4" r="3.7"/>
<circle class="o" cx="156.1" cy="496.5" r="3.7"/>
<circle class="o" cx="147.4" cy="569.6" r="3.7"/>
<circle class="o" cx="139.1" cy="544" r="3.7"/>
<circle class="o" cx="163.4" cy="490.7" r="3.7"/>
<circle class="o" cx="139.6" cy="543.7" r="3.7"/>
<circle class="o" cx="187.1" cy="545.8" r="3.7"/>
<circle class="o" cx="152.3" cy="523.4" r="3.7"/>
<circle class="o" cx="140" cy="549.2" r="3.7"/>
<circle class="o" cx="124.9" cy="569.8" r="3.7"/>
<circle class="o" cx="143.3" cy="575.1" r="3.7"/>
<circle class="o" cx="128.3" cy="576.3" r="3.7"/>
<circle class="o" cx="129.5" cy="557.6" r="3.7"/>
<circle class="o" cx="136.5" cy="542.3" r="3.7"/>
<circle class="o" cx="125.6" cy="518.2" r="3.7"/>
<circle class="o" cx="128.9" cy="537.7" r="3.7"/>
<circle class="o" cx="132.9" cy="506.3" r="3.7"/>
<circle class="o" cx="181.3" cy="540" r="3.7"/>
<circle class="o" cx="160.5" cy="542.9" r="3.7"/>
<circle class="o" cx="141.4" cy="571.8" r="3.7"/>
<circle class="o" cx="123.9" cy="553.1" r="3.7"/>
<circle class="o" cx="152.2" cy="511.7" r="3.7"/>
<circle class="o" cx="139.9" cy="565.2" r="3.7"/>
<circle class="o" cx="156.2" cy="528.3" r="3.7"/>
<circle class="o" cx="150.1" cy="516.6" r="3.7"/>
<circle class="o" cx="139.6" cy="553.3" r="3.7"/>
<circle class="o" cx="156.2" cy="472.3" r="3.7"/>
<circle class="o" cx="132.9" cy="532.3" r="3.7"/>
<circle class="o" cx="154.1" cy="473.2" r="3.7"/>
<circle class="g" cx="126.6" cy="578.9" r="3.7"/>
<circle class="g" cx="151.2" cy="616.3" r="3.7"/>
<circle class="g" cx="125.4" cy="601" r="3.7"/>
<circle class="g" cx="136.5" cy="609.6" r="3.7"/>
<circle class="g" cx="122.6" cy="622.2" r="3.7"/>
<circle class="g" cx="148.5" cy="609.7" r="3.7"/>
<circle class="g" cx="145.9" cy="577.3" r="3.7"/>
<circle class="g" cx="125.3" cy="612.6" r="3.7"/>
<circle class="g" cx="140.7" cy="616.8" r="3.7"/>
<circle class="g" cx="132.8" cy="609" r="3.7"/>
<circle class="g" cx="141.2" cy="616.9" r="3.7"/>
<circle class="g" cx="150.3" cy="616.4" r="3.7"/>
<circle class="g" cx="147" cy="608.3" r="3.7"/>
<circle class="g" cx="131.4" cy="617.6" r="3.7"/>
<circle class="g" cx="117.3" cy="626.2" r="3.7"/>
<circle class="g" cx="127" cy="600.6" r="3.7"/>
<circle class="g" cx="158.4" cy="605.8" r="3.7"/>
<circle class="g" cx="199.3" cy="586.3" r="3.7"/>
<circle class="g" cx="148.6" cy="611.6" r="3.7"/>
<circle class="g" cx="150.2" cy="611.8" r="3.7"/>
<circle class="g" cx="144.3" cy="610.6" r="3.7"/>
<circle class="g" cx="154.4" cy="598.2" r="3.7"/>
<circle class="g" cx="132.1" cy="623.4" r="3.7"/>
<circle class="g" cx="133.5" cy="616.2" r="3.7"/>
<circle class="g" cx="155.9" cy="609.8" r="3.7"/>
<circle class="g" cx="116.8" cy="598.2" r="3.7"/>
<circle class="g" cx="151.2" cy="556.9" r="3.7"/>
<circle class="g" cx="124.4" cy="630.7" r="3.7"/>
<circle class="g" cx="126.1" cy="605.4" r="3.7"/>
<circle class="g" cx="136.9" cy="577.5" r="3.7"/>
<circle class="g" cx="138.3" cy="627.3" r="3.7"/>
<circle class="g" cx="130.8" cy="609.6" r="3.7"/>
<circle class="g" cx="125.7" cy="588.7" r="3.7"/>
<circle class="g" cx="124.6" cy="624.1" r="3.7"/>
<circle class="g" cx="125.5" cy="611.4" r="3.7"/>
<circle class="g" cx="143.8" cy="599.4" r="3.7"/>
<circle class="g" cx="130.4" cy="594.5" r="3.7"/>
<circle class="g" cx="125.3" cy="617.6" r="3.7"/>
<circle class="g" cx="175.8" cy="608" r="3.7"/>
<circle class="g" cx="140.9" cy="600.7" r="3.7"/>
<circle class="g" cx="143.9" cy="598" r="3.7"/>
<circle class="g" cx="166" cy="573.9" r="3.7"/>
<circle class="g" cx="171.8" cy="590.2" r="3.7"/>
<circle class="g" cx="166.1" cy="603.7" r="3.7"/>
<circle class="g" cx="146.5" cy="576.9" r="3.7"/>
<circle class="g" cx="130" cy="607.5" r="3.7"/>
<circle class="g" cx="154.7" cy="615.7" r="3.7"/>
<circle class="g" cx="157.5" cy="589.1" r="3.7"/>
<circle class="g" cx="124.6" cy="608.3" r="3.7"/>
<circle class="g" cx="225.7" cy="609.7" r="3.7"/>
<circle class="g" cx="134.8" cy="632.3" r="3.7"/>
<circle class="g" cx="125.9" cy="612.6" r="3.7"/>
<circle class="g" cx="164.4" cy="601.3" r="3.7"/>
<circle class="g" cx="132.2" cy="607" r="3.7"/>
<circle class="g" cx="149.4" cy="619.1" r="3.7"/>
<circle class="g" cx="129.4" cy="636.7" r="3.7"/>
<circle class="g" cx="125.4" cy="617.2" r="3.7"/>
<circle class="g" cx="124.2" cy="604.6" r="3.7"/>
<circle class="g" cx="139.9" cy="615.3" r="3.7"/>
<circle class="g" cx="146.3" cy="610.4" r="3.7"/>
<circle class="g" cx="137.2" cy="609" r="3.7"/>
<circle class="g" cx="141.1" cy="599" r="3.7"/>
<circle class="g" cx="125" cy="594.3" r="3.7"/>
<circle class="g" cx="121.5" cy="611.4" r="3.7"/>
<circle class="g" cx="144.4" cy="607.9" r="3.7"/>
<circle class="g" cx="159" cy="596.6" r="3.7"/>
<circle class="g" cx="129.6" cy="618.4" r="3.7"/>
<circle class="g" cx="140.9" cy="613.9" r="3.7"/>
<circle class="g" cx="137.3" cy="586.9" r="3.7"/>
<circle class="g" cx="143.8" cy="625.6" r="3.7"/>
<circle class="g" cx="128.1" cy="623.5" r="3.7"/>
<circle class="g" cx="137.5" cy="604.3" r="3.7"/>
<circle class="g" cx="125.5" cy="628.3" r="3.7"/>
<circle class="g" cx="130" cy="623.9" r="3.7"/>
<circle class="g" cx="136.7" cy="625.7" r="3.7"/>
<circle class="g" cx="128.9" cy="632.6" r="3.7"/>
<circle class="g" cx="127.7" cy="622.8" r="3.7"/>
<circle class="g" cx="142.8" cy="595.1" r="3.7"/>
<circle class="g" cx="144.9" cy="607.6" r="3.7"/>
<circle class="g" cx="130.9" cy="602.6" r="3.7"/>
<circle class="g" cx="131.8" cy="617.9" r="3.7"/>
<circle class="g" cx="170.3" cy="603.2" r="3.7"/>
<circle class="g" cx="146.3" cy="608.1" r="3.7"/>
<circle class="g" cx="156.3" cy="607.6" r="3.7"/>
<circle class="g" cx="142.9" cy="571.9" r="3.7"/>
<circle class="g" cx="129.8" cy="620.2" r="3.7"/>
<circle class="g" cx="181.9" cy="595.5" r="3.7"/>
<circle class="g" cx="137.7" cy="616.5" r="3.7"/>
<circle class="g" cx="131.5" cy="596.2" r="3.7"/>
<circle class="g" cx="125.5" cy="620.9" r="3.7"/>
<circle class="g" cx="180.5" cy="596.5" r="3.7"/>
<circle class="g" cx="130" cy="617.4" r="3.7"/>
<circle class="g" cx="137.9" cy="625.4" r="3.7"/>
<circle class="g" cx="153.2" cy="603.8" r="3.7"/>
<circle class="g" cx="136" cy="610.8" r="3.7"/>
<circle class="g" cx="137.3" cy="613.7" r="3.7"/>
<circle class="g" cx="125.7" cy="612.7" r="3.7"/>
<circle class="g" cx="145.3" cy="622.1" r="3.7"/>
<circle class="g" cx="195.6" cy="585.9" r="3.7"/>
<circle class="g" cx="133.7" cy="618.9" r="3.7"/>
<circle class="g" cx="135.4" cy="625.1" r="3.7"/>
<circle class="g" cx="141.3" cy="589.6" r="3.7"/>
<circle class="g" cx="132.5" cy="606.8" r="3.7"/>
<circle class="g" cx="150.3" cy="615.5" r="3.7"/>
<circle class="g" cx="143" cy="612.2" r="3.7"/>
<circle class="g" cx="134.6" cy="588.4" r="3.7"/>
<circle class="g" cx="125.7" cy="633.5" r="3.7"/>
<circle class="g" cx="132" cy="612.5" r="3.7"/>
<circle class="g" cx="123.7" cy="593.1" r="3.7"/>
<circle class="g" cx="140.8" cy="597.4" r="3.7"/>
<circle class="g" cx="202.4" cy="593.6" r="3.7"/>
<circle class="g" cx="132.9" cy="617.8" r="3.7"/>
<circle class="g" cx="163.7" cy="564.7" r="3.7"/>
<circle class="g" cx="180.2" cy="595.4" r="3.7"/>
<circle class="g" cx="134" cy="632" r="3.7"/>
<circle class="g" cx="133.4" cy="603.5" r="3.7"/>
<circle class="g" cx="152.5" cy="586.2" r="3.7"/>
<circle class="g" cx="126.8" cy="595.2" r="3.7"/>
<circle class="g" cx="119.1" cy="632.4" r="3.7"/>
<circle class="g" cx="134.6" cy="610" r="3.7"/>
<circle class="g" cx="158.3" cy="607.4" r="3.7"/>
<circle class="g" cx="126" cy="589.1" r="3.7"/>
<circle class="g" cx="154.3" cy="596" r="3.7"/>
<circle class="g" cx="138.6" cy="589" r="3.7"/>
<circle class="g" cx="122.9" cy="615.1" r="3.7"/>
<circle class="g" cx="131.8" cy="606.3" r="3.7"/>
<circle class="g" cx="127.8" cy="587.3" r="3.7"/>
<circle class="g" cx="123.7" cy="601.9" r="3.7"/>
<circle class="g" cx="155.3" cy="603.7" r="3.7"/>
<circle class="g" cx="139.8" cy="565.2" r="3.7"/>
<circle class="r" cx="116.8" cy="415.9" r="3.7"/>
<circle class="o" cx="120.4" cy="415.9" r="3.7"/>
<circle class="o" cx="124.2" cy="415.9" r="3.7"/>
<circle class="o" cx="127.9" cy="415.9" r="3.7"/>
<circle class="b" cx="134.4" cy="415.9" r="3.7"/>
<circle class="b" cx="140" cy="415.9" r="3.7"/>
<circle class="r" cx="140" cy="415.9" r="3.7"/>
<circle class="o" cx="146.6" cy="415.9" r="3.7"/>
<circle class="b" cx="153.1" cy="415.9" r="3.7"/>
<circle class="r" cx="161.4" cy="415.9" r="3.7"/>
<circle class="r" cx="168.9" cy="415.9" r="3.7"/>
<circle class="r" cx="174.6" cy="415.9" r="3.7"/>
<circle class="o" cx="178.2" cy="415.9" r="3.7"/>
<circle class="r" cx="182.8" cy="415.9" r="3.7"/>
<circle class="r" cx="187.9" cy="415.9" r="3.7"/>
<circle class="r" cx="191.2" cy="415.9" r="3.7"/>
<circle class="b" cx="196.1" cy="415.9" r="3.7"/>
<circle class="r" cx="196.1" cy="415.9" r="3.7"/>
<circle class="r" cx="199.6" cy="415.9" r="3.7"/>
<circle class="r" cx="205.2" cy="415.9" r="3.7"/>
<circle class="o" cx="211.7" cy="415.9" r="3.7"/>
<circle class="o" cx="217.3" cy="415.9" r="3.7"/>
<circle class="g" cx="233.6" cy="415.9" r="3.7"/>
<circle class="r" cx="229.4" cy="415.9" r="3.7"/>
<circle class="b" cx="229.9" cy="415.9" r="3.7"/>
<circle class="b" cx="230.1" cy="415.9" r="3.7"/>
<circle class="r" cx="224.3" cy="415.9" r="3.7"/>
<circle class="b" cx="224" cy="415.9" r="3.7"/>
<circle class="b" cx="224.6" cy="415.9" r="3.7"/>
</g>
<g class="tk" text-anchor="middle">
<text x="114.6" y="683.6">0</text>
<text x="165.8" y="683.6">5000</text>
<text x="216.9" y="683.6">10000</text>
<text x="268.1" y="683.6">15000</text>
<text x="319.2" y="683.6">20000</text>
<text x="370.4" y="683.6">25000</text>
<text x="421.6" y="683.6">30000</text>
<text x="472.7" y="683.6">35000</text>
<text x="523.9" y="683.6">40000</text>
</g>
<g class="tk" text-anchor="end">
<text x="82.6" y="663.8">0</text>
<text x="82.6" y="615.2">100000</text>
<text x="82.6" y="566.5">200000</text>
<text x="82.6" y="517.9">300000</text>
<text x="82.6" y="469.2">400000</text>
<text x="82.6" y="420.6">500000</text>
</g>
<text class="lb" x="316" y="700" text-anchor="middle">Количество комнат в жилищном массиве</text>
<text class="lb" transform="translate(34.2 534) rotate(-90)" text-anchor="middle">median_house_value</text>
<rect x="554.4" y="410.3" width="112.5" height="93.6" rx="2.2" fill="#E9E9F1" fill-opacity="0.8" stroke="#c9c9c9" stroke-opacity="0.9" stroke-width="1.1"/>
<g class="sc">
<circle class="b" cx="572.5" cy="420" r="3.7"/>
<circle class="o" cx="572.5" cy="437.8" r="3.7"/>
<circle class="g" cx="572.5" cy="455.6" r="3.7"/>
<circle class="r" cx="572.5" cy="472.8" r="3.7"/>
<circle class="p" cx="572.5" cy="491.1" r="3.7"/>
</g>
<g class="tk" style="font-size:12.25px">
<text x="595.5" y="424.1">near_bay</text>
<text x="595.5" y="442.8">&lt;1h_ocean</text>
<text x="595.5" y="459.7">inland</text>
<text x="595.5" y="478.3">near_ocean</text>
<text x="595.5" y="495.2">island</text>
</g>
</svg>
<table class="df">
<thead><tr><th style="width:77px"><span></span></th><th style="width:58px"><span>count</span></th><th style="width:85px"><span style="left:-0.8px">mean</span></th><th style="width:80px"><span style="left:-0.6px">std</span></th><th style="width:33px"><span style="left:-0.6px">min</span></th><th style="width:54px"><span style="left:-0.8px">25%</span></th><th style="width:47px"><span style="left:-1.2px">50%</span></th><th style="width:49px"><span style="left:-0.8px">75%</span></th><th style="width:57px"><span style="left:-0.3px">max</span></th><th style="width:6px"></th></tr></thead>
<tbody><tr><th><span>total_rooms</span></th><td><span style="letter-spacing:0.25px;margin-right:-0.25px">20640.0</span></td><td><span style="left:-0.7px;letter-spacing:0.03px;margin-right:-0.03px">2635.763081</span></td><td><span style="left:-0.5px;letter-spacing:-0.29px;margin-right:0.29px">2181.615252</span></td><td><span style="left:-0.5px;letter-spacing:-0.2px;margin-right:0.2px">2.0</span></td><td><span style="left:-0.8px;letter-spacing:-0.48px;margin-right:0.48px">1447.75</span></td><td><span style="left:-1.2px;letter-spacing:-0.55px;margin-right:0.55px">2127.0</span></td><td><span style="left:-0.8px;letter-spacing:-0.28px;margin-right:0.28px">3148.0</span></td><td><span style="left:-0.3px">39320.0</span></td><td></td></tr></tbody>
</table>
</body>
</html>
